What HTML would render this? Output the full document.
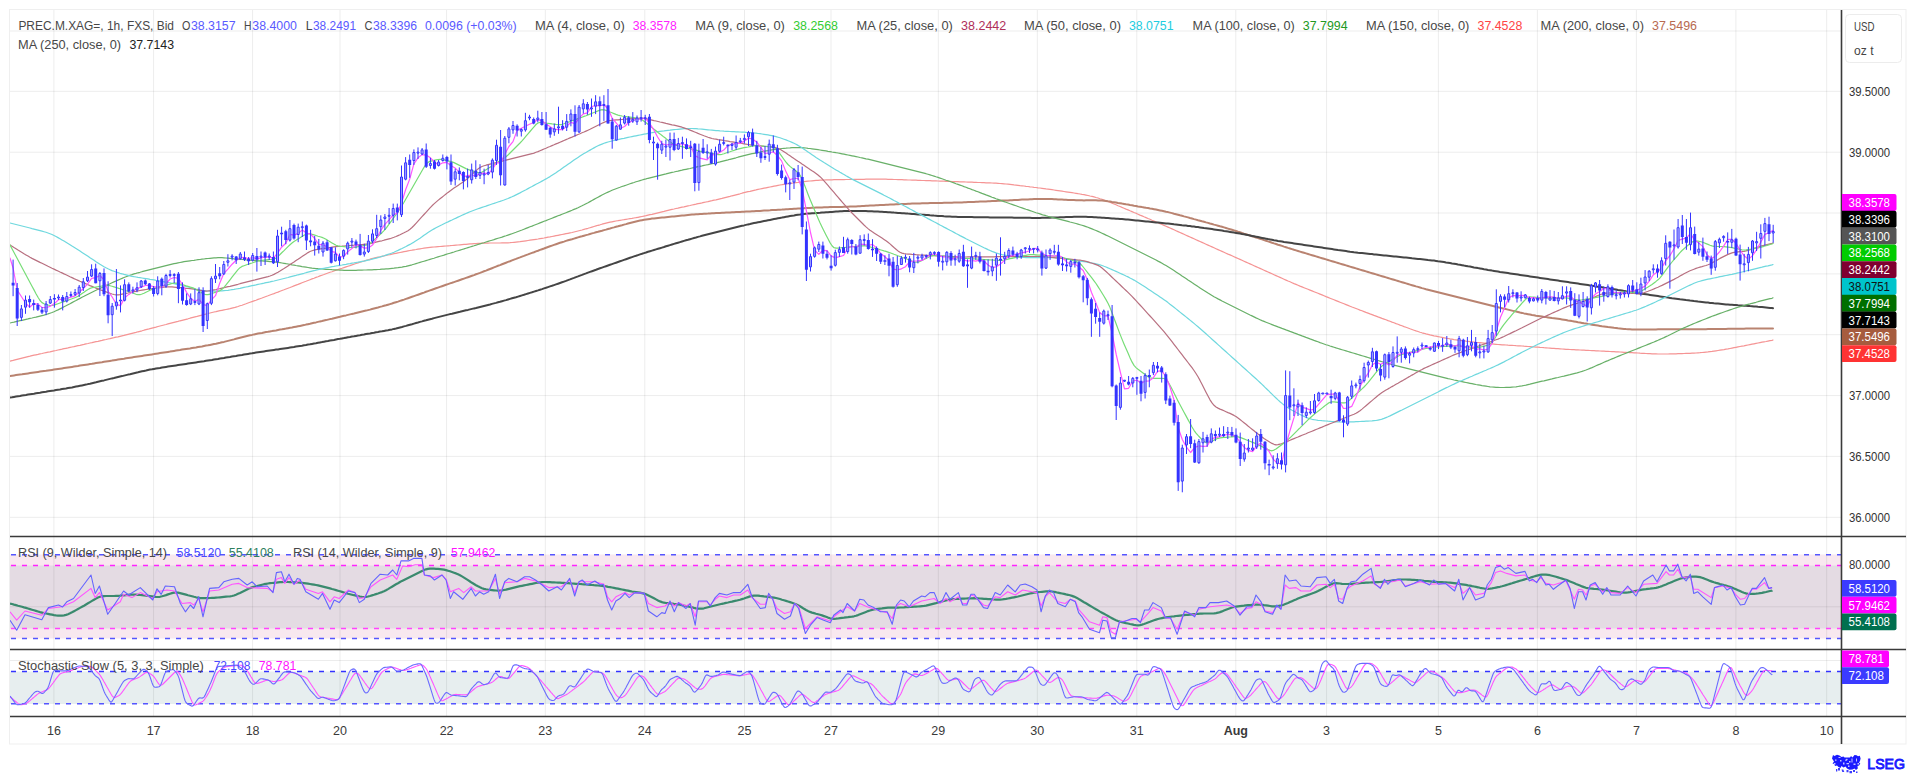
<!DOCTYPE html><html><head><meta charset="utf-8"><style>html,body{margin:0;padding:0;background:#fff;}svg{display:block;}text{font-family:"Liberation Sans", sans-serif;}</style></head><body>
<svg width="1916" height="775" viewBox="0 0 1916 775">
<rect x="0" y="0" width="1916" height="775" fill="#ffffff"/>
<rect x="9.5" y="9.5" width="1896.5" height="734.5" fill="none" stroke="#efefef" stroke-width="1"/>
<rect x="10" y="554.5" width="1831.5" height="84" fill="#f8e8ef"/>
<rect x="10" y="565.5" width="1831.5" height="63" fill="#e4dbe3"/>
<rect x="10" y="671.5" width="1831.5" height="32.5" fill="#e7eeef"/>
<path d="M10 31 H1841.5 M10 91.3 H1841.5 M10 152.2 H1841.5 M10 213 H1841.5 M10 273.9 H1841.5 M10 334.7 H1841.5 M10 395.6 H1841.5 M10 456.4 H1841.5 M10 517.3 H1841.5 M10 606.8 H1841.5 M10 660.5 H1841.5 M53.9 10 V717 M153.6 10 V717 M252.6 10 V717 M340 10 V717 M446.6 10 V717 M545.3 10 V717 M644.8 10 V717 M744.5 10 V717 M831 10 V717 M938.3 10 V717 M1037.3 10 V717 M1136.8 10 V717 M1235.8 10 V717 M1326.6 10 V717 M1438.4 10 V717 M1537.4 10 V717 M1636.4 10 V717 M1735.9 10 V717 M1826.7 10 V717" stroke="#000" stroke-opacity="0.075" stroke-width="1" fill="none"/>
<path d="M10 554.7 H1841.5" stroke="#5555ff" stroke-width="1.6" stroke-dasharray="5 6" stroke-dashoffset="-1"/>
<path d="M10 565.5 H1841.5" stroke="#ff22ff" stroke-width="1.6" stroke-dasharray="5 6" stroke-dashoffset="-1"/>
<path d="M10 628.5 H1841.5" stroke="#ff44ff" stroke-width="1.6" stroke-dasharray="5 6" stroke-dashoffset="-1"/>
<path d="M10 638.5 H1841.5" stroke="#5555ff" stroke-width="1.6" stroke-dasharray="5 6" stroke-dashoffset="-1"/>
<path d="M10 671.5 H1841.5" stroke="#3333ff" stroke-width="1.6" stroke-dasharray="5 6" stroke-dashoffset="-1"/>
<path d="M10 703.8 H1841.5" stroke="#5555ff" stroke-width="1.6" stroke-dasharray="5 6" stroke-dashoffset="-1"/>
<clipPath id="cm"><rect x="10" y="10" width="1831.5" height="527"/></clipPath>
<g clip-path="url(#cm)" fill="none" stroke-linejoin="round" stroke-linecap="round">
<path d="M10 361.2 L12 360.7 L14 360.1 L16 359.6 L18 359.1 L20 358.6 L22 358.1 L24 357.6 L26 357.1 L28 356.6 L30 356.2 L32 355.7 L34 355.2 L36 354.8 L38 354.4 L40 353.9 L42 353.5 L44 353 L46 352.6 L48 352.2 L50 351.8 L52 351.3 L54 350.9 L56 350.5 L58 350 L60 349.6 L62 349.2 L64 348.7 L66 348.3 L68 347.9 L70 347.4 L72 347 L74 346.6 L76 346.1 L78 345.7 L80 345.3 L82 344.8 L84 344.4 L86 343.9 L88 343.5 L90 343 L92 342.6 L94 342.1 L96 341.7 L98 341.3 L100 340.8 L102 340.4 L104 339.9 L106 339.5 L108 339 L110 338.6 L112 338.1 L114 337.7 L116 337.2 L118 336.8 L120 336.3 L122 335.8 L124 335.4 L126 334.9 L128 334.4 L130 333.9 L132 333.4 L134 332.9 L136 332.4 L138 331.8 L140 331.3 L142 330.8 L144 330.2 L146 329.7 L148 329.2 L150 328.6 L152 328.1 L154 327.6 L156 327.1 L158 326.5 L160 326 L162 325.5 L164 325 L166 324.5 L168 323.9 L170 323.4 L172 322.9 L174 322.4 L176 321.9 L178 321.4 L180 320.8 L182 320.3 L184 319.8 L186 319.3 L188 318.8 L190 318.2 L192 317.7 L194 317.2 L196 316.7 L198 316.1 L200 315.6 L202 315.1 L204 314.6 L206 314 L208 313.5 L210 313 L212 312.5 L214 312 L216 311.6 L218 311.1 L220 310.7 L222 310.3 L224 309.9 L226 309.5 L228 309.1 L230 308.7 L232 308.2 L234 307.7 L236 307.1 L238 306.5 L240 305.8 L242 305.2 L244 304.5 L246 303.8 L248 303 L250 302.3 L252 301.6 L254 300.9 L256 300.2 L258 299.4 L260 298.7 L262 298 L264 297.2 L266 296.5 L268 295.8 L270 295 L272 294.3 L274 293.6 L276 292.8 L278 292.1 L280 291.3 L282 290.5 L284 289.8 L286 289 L288 288.2 L290 287.5 L292 286.7 L294 285.9 L296 285.1 L298 284.4 L300 283.6 L302 282.8 L304 282 L306 281.3 L308 280.5 L310 279.7 L312 278.9 L314 278.2 L316 277.4 L318 276.7 L320 275.9 L322 275.2 L324 274.5 L326 273.7 L328 273 L330 272.3 L332 271.7 L334 271 L336 270.3 L338 269.6 L340 268.9 L342 268.3 L344 267.6 L346 266.9 L348 266.2 L350 265.6 L352 264.9 L354 264.2 L356 263.5 L358 262.9 L360 262.2 L362 261.6 L364 261 L366 260.4 L368 259.8 L370 259.2 L372 258.7 L374 258.2 L376 257.7 L378 257.2 L380 256.8 L382 256.3 L384 255.9 L386 255.4 L388 255 L390 254.6 L392 254.1 L394 253.7 L396 253.3 L398 252.9 L400 252.5 L402 252.1 L404 251.7 L406 251.3 L408 250.9 L410 250.5 L412 250.2 L414 249.8 L416 249.5 L418 249.1 L420 248.8 L422 248.5 L424 248.2 L426 247.9 L428 247.6 L430 247.4 L432 247.2 L434 247 L436 246.8 L438 246.6 L440 246.5 L442 246.3 L444 246.1 L446 246 L448 245.8 L450 245.7 L452 245.5 L454 245.3 L456 245.1 L458 245 L460 244.8 L462 244.6 L464 244.4 L466 244.3 L468 244.1 L470 243.9 L472 243.8 L474 243.6 L476 243.5 L478 243.4 L480 243.3 L482 243.2 L484 243.1 L486 243.1 L488 243.1 L490 243 L492 243 L494 243 L496 243 L498 243 L500 243 L502 242.9 L504 242.9 L506 242.8 L508 242.8 L510 242.7 L512 242.5 L514 242.3 L516 242.1 L518 241.9 L520 241.7 L522 241.4 L524 241.1 L526 240.8 L528 240.5 L530 240.2 L532 239.9 L534 239.6 L536 239.3 L538 239 L540 238.6 L542 238.3 L544 238 L546 237.6 L548 237.2 L550 236.9 L552 236.5 L554 236.1 L556 235.7 L558 235.3 L560 234.9 L562 234.5 L564 234.1 L566 233.7 L568 233.3 L570 232.9 L572 232.5 L574 232 L576 231.5 L578 231 L580 230.5 L582 230 L584 229.4 L586 228.8 L588 228.3 L590 227.7 L592 227.1 L594 226.5 L596 225.9 L598 225.3 L600 224.8 L602 224.2 L604 223.7 L606 223.2 L608 222.7 L610 222.2 L612 221.8 L614 221.4 L616 221 L618 220.7 L620 220.3 L622 220 L624 219.7 L626 219.3 L628 219 L630 218.7 L632 218.4 L634 218 L636 217.7 L638 217.3 L640 216.9 L642 216.5 L644 216.1 L646 215.7 L648 215.2 L650 214.7 L652 214.3 L654 213.8 L656 213.3 L658 212.8 L660 212.3 L662 211.8 L664 211.4 L666 210.9 L668 210.4 L670 209.9 L672 209.4 L674 209 L676 208.5 L678 208.1 L680 207.6 L682 207.2 L684 206.8 L686 206.3 L688 205.9 L690 205.5 L692 205 L694 204.6 L696 204.2 L698 203.7 L700 203.3 L702 202.9 L704 202.4 L706 202 L708 201.6 L710 201.1 L712 200.7 L714 200.2 L716 199.8 L718 199.3 L720 198.8 L722 198.4 L724 197.9 L726 197.4 L728 196.9 L730 196.4 L732 195.8 L734 195.3 L736 194.8 L738 194.3 L740 193.8 L742 193.2 L744 192.7 L746 192.2 L748 191.7 L750 191.3 L752 190.8 L754 190.3 L756 189.9 L758 189.4 L760 189 L762 188.6 L764 188.2 L766 187.8 L768 187.4 L770 187 L772 186.6 L774 186.2 L776 185.8 L778 185.4 L780 185 L782 184.7 L784 184.3 L786 184 L788 183.7 L790 183.4 L792 183.1 L794 182.9 L796 182.6 L798 182.4 L800 182.1 L802 181.9 L804 181.6 L806 181.4 L808 181.2 L810 181 L812 180.8 L814 180.6 L816 180.4 L818 180.3 L820 180.2 L822 180.1 L824 180 L826 179.9 L828 179.9 L830 179.8 L832 179.8 L834 179.7 L836 179.7 L838 179.7 L840 179.6 L842 179.6 L844 179.6 L846 179.5 L848 179.5 L850 179.5 L852 179.5 L854 179.4 L856 179.4 L858 179.4 L860 179.3 L862 179.3 L864 179.3 L866 179.2 L868 179.2 L870 179.2 L872 179.2 L874 179.2 L876 179.1 L878 179.1 L880 179.2 L882 179.2 L884 179.2 L886 179.2 L888 179.3 L890 179.3 L892 179.4 L894 179.5 L896 179.5 L898 179.6 L900 179.7 L902 179.7 L904 179.8 L906 179.9 L908 180 L910 180 L912 180.1 L914 180.2 L916 180.2 L918 180.3 L920 180.4 L922 180.5 L924 180.5 L926 180.6 L928 180.7 L930 180.7 L932 180.8 L934 180.9 L936 180.9 L938 181 L940 181.1 L942 181.2 L944 181.2 L946 181.3 L948 181.4 L950 181.4 L952 181.5 L954 181.6 L956 181.7 L958 181.7 L960 181.8 L962 181.9 L964 181.9 L966 182 L968 182.1 L970 182.2 L972 182.2 L974 182.3 L976 182.4 L978 182.5 L980 182.5 L982 182.6 L984 182.7 L986 182.8 L988 182.8 L990 182.9 L992 183 L994 183.1 L996 183.2 L998 183.3 L1000 183.5 L1002 183.6 L1004 183.8 L1006 184 L1008 184.2 L1010 184.4 L1012 184.6 L1014 184.9 L1016 185.1 L1018 185.3 L1020 185.6 L1022 185.8 L1024 186 L1026 186.3 L1028 186.5 L1030 186.8 L1032 187 L1034 187.3 L1036 187.5 L1038 187.8 L1040 188 L1042 188.3 L1044 188.6 L1046 188.9 L1048 189.1 L1050 189.4 L1052 189.7 L1054 190 L1056 190.3 L1058 190.6 L1060 190.9 L1062 191.2 L1064 191.5 L1066 191.8 L1068 192.1 L1070 192.4 L1072 192.7 L1074 193 L1076 193.3 L1078 193.7 L1080 194 L1082 194.4 L1084 194.7 L1086 195.1 L1088 195.5 L1090 196 L1092 196.4 L1094 196.9 L1096 197.5 L1098 198 L1100 198.7 L1102 199.3 L1104 200 L1106 200.8 L1108 201.5 L1110 202.3 L1112 203.2 L1114 204 L1116 204.8 L1118 205.7 L1120 206.5 L1122 207.4 L1124 208.2 L1126 209.1 L1128 209.9 L1130 210.8 L1132 211.6 L1134 212.5 L1136 213.3 L1138 214.2 L1140 215.1 L1142 215.9 L1144 216.8 L1146 217.6 L1148 218.5 L1150 219.3 L1152 220.2 L1154 221 L1156 221.9 L1158 222.8 L1160 223.6 L1162 224.5 L1164 225.4 L1166 226.2 L1168 227.1 L1170 228 L1172 228.9 L1174 229.8 L1176 230.7 L1178 231.6 L1180 232.5 L1182 233.4 L1184 234.3 L1186 235.2 L1188 236.1 L1190 237 L1192 237.9 L1194 238.8 L1196 239.7 L1198 240.6 L1200 241.5 L1202 242.4 L1204 243.3 L1206 244.2 L1208 245.1 L1210 246 L1212 246.9 L1214 247.8 L1216 248.7 L1218 249.6 L1220 250.5 L1222 251.4 L1224 252.3 L1226 253.2 L1228 254.1 L1230 254.9 L1232 255.8 L1234 256.7 L1236 257.6 L1238 258.5 L1240 259.4 L1242 260.3 L1244 261.2 L1246 262.1 L1248 263 L1250 263.9 L1252 264.8 L1254 265.7 L1256 266.6 L1258 267.5 L1260 268.4 L1262 269.3 L1264 270.2 L1266 271.1 L1268 272 L1270 272.9 L1272 273.8 L1274 274.7 L1276 275.6 L1278 276.5 L1280 277.4 L1282 278.3 L1284 279.2 L1286 280.1 L1288 281 L1290 281.8 L1292 282.7 L1294 283.6 L1296 284.4 L1298 285.2 L1300 286.1 L1302 286.9 L1304 287.7 L1306 288.5 L1308 289.3 L1310 290.1 L1312 290.9 L1314 291.7 L1316 292.5 L1318 293.3 L1320 294.1 L1322 294.9 L1324 295.7 L1326 296.6 L1328 297.4 L1330 298.2 L1332 299 L1334 299.8 L1336 300.6 L1338 301.4 L1340 302.2 L1342 303 L1344 303.8 L1346 304.6 L1348 305.4 L1350 306.2 L1352 307 L1354 307.7 L1356 308.5 L1358 309.3 L1360 310.1 L1362 310.8 L1364 311.6 L1366 312.4 L1368 313.1 L1370 313.9 L1372 314.6 L1374 315.4 L1376 316.1 L1378 316.9 L1380 317.6 L1382 318.4 L1384 319.1 L1386 319.8 L1388 320.6 L1390 321.3 L1392 322.1 L1394 322.8 L1396 323.6 L1398 324.3 L1400 325.1 L1402 325.8 L1404 326.6 L1406 327.3 L1408 328 L1410 328.8 L1412 329.5 L1414 330.2 L1416 330.9 L1418 331.5 L1420 332.2 L1422 332.8 L1424 333.3 L1426 333.9 L1428 334.4 L1430 334.9 L1432 335.3 L1434 335.8 L1436 336.2 L1438 336.6 L1440 337 L1442 337.4 L1444 337.8 L1446 338.2 L1448 338.5 L1450 338.9 L1452 339.2 L1454 339.6 L1456 339.9 L1458 340.2 L1460 340.4 L1462 340.7 L1464 340.9 L1466 341.2 L1468 341.4 L1470 341.6 L1472 341.8 L1474 342 L1476 342.3 L1478 342.5 L1480 342.7 L1482 342.9 L1484 343.1 L1486 343.3 L1488 343.5 L1490 343.7 L1492 343.9 L1494 344.1 L1496 344.3 L1498 344.5 L1500 344.6 L1502 344.8 L1504 344.9 L1506 345 L1508 345.2 L1510 345.3 L1512 345.4 L1514 345.5 L1516 345.7 L1518 345.8 L1520 345.9 L1522 346 L1524 346.2 L1526 346.3 L1528 346.5 L1530 346.6 L1532 346.8 L1534 346.9 L1536 347.1 L1538 347.2 L1540 347.4 L1542 347.5 L1544 347.7 L1546 347.8 L1548 348 L1550 348.1 L1552 348.3 L1554 348.4 L1556 348.6 L1558 348.7 L1560 348.8 L1562 349 L1564 349.1 L1566 349.3 L1568 349.4 L1570 349.5 L1572 349.6 L1574 349.7 L1576 349.8 L1578 349.9 L1580 350 L1582 350.1 L1584 350.2 L1586 350.3 L1588 350.4 L1590 350.5 L1592 350.6 L1594 350.7 L1596 350.8 L1598 350.9 L1600 351 L1602 351.1 L1604 351.2 L1606 351.3 L1608 351.4 L1610 351.5 L1612 351.6 L1614 351.7 L1616 351.8 L1618 351.9 L1620 352 L1622 352.1 L1624 352.3 L1626 352.4 L1628 352.5 L1630 352.6 L1632 352.7 L1634 352.8 L1636 352.9 L1638 353 L1640 353.2 L1642 353.3 L1644 353.4 L1646 353.5 L1648 353.6 L1650 353.7 L1652 353.8 L1654 353.9 L1656 353.9 L1658 354 L1660 354 L1662 354 L1664 354 L1666 354 L1668 354 L1670 353.9 L1672 353.9 L1674 353.8 L1676 353.8 L1678 353.7 L1680 353.6 L1682 353.6 L1684 353.5 L1686 353.4 L1688 353.4 L1690 353.3 L1692 353.2 L1694 353.1 L1696 353 L1698 352.8 L1700 352.7 L1702 352.5 L1704 352.3 L1706 352.1 L1708 351.9 L1710 351.6 L1712 351.4 L1714 351.1 L1716 350.8 L1718 350.5 L1720 350.2 L1722 349.9 L1724 349.6 L1726 349.2 L1728 348.9 L1730 348.5 L1732 348.1 L1734 347.7 L1736 347.3 L1738 346.9 L1740 346.5 L1742 346.1 L1744 345.8 L1746 345.4 L1748 345 L1750 344.6 L1752 344.2 L1754 343.8 L1756 343.4 L1758 343 L1760 342.6 L1762 342.2 L1764 341.8 L1766 341.5 L1768 341.1 L1770 340.7 L1772 340.4 L1773 340" stroke="#f59494" stroke-width="1.2"/>
<path d="M10 376 L12 375.7 L14 375.4 L16 375.1 L18 374.8 L20 374.5 L22 374.3 L24 374 L26 373.7 L28 373.4 L30 373.1 L32 372.8 L34 372.5 L36 372.2 L38 371.9 L40 371.6 L42 371.3 L44 371 L46 370.8 L48 370.5 L50 370.2 L52 369.9 L54 369.6 L56 369.3 L58 369 L60 368.7 L62 368.4 L64 368.1 L66 367.8 L68 367.5 L70 367.2 L72 366.9 L74 366.6 L76 366.3 L78 366 L80 365.6 L82 365.3 L84 365 L86 364.7 L88 364.4 L90 364.1 L92 363.8 L94 363.4 L96 363.1 L98 362.8 L100 362.5 L102 362.2 L104 361.8 L106 361.5 L108 361.2 L110 360.9 L112 360.6 L114 360.2 L116 359.9 L118 359.6 L120 359.3 L122 359 L124 358.7 L126 358.3 L128 358 L130 357.7 L132 357.4 L134 357.1 L136 356.8 L138 356.5 L140 356.2 L142 355.9 L144 355.6 L146 355.3 L148 355 L150 354.7 L152 354.4 L154 354.1 L156 353.7 L158 353.4 L160 353.1 L162 352.8 L164 352.5 L166 352.2 L168 351.9 L170 351.6 L172 351.2 L174 350.9 L176 350.6 L178 350.3 L180 350 L182 349.6 L184 349.3 L186 349 L188 348.7 L190 348.4 L192 348 L194 347.7 L196 347.4 L198 347 L200 346.7 L202 346.4 L204 346 L206 345.6 L208 345.3 L210 344.9 L212 344.5 L214 344.1 L216 343.7 L218 343.2 L220 342.8 L222 342.3 L224 341.9 L226 341.4 L228 340.9 L230 340.4 L232 339.9 L234 339.4 L236 338.8 L238 338.3 L240 337.8 L242 337.3 L244 336.8 L246 336.3 L248 335.8 L250 335.3 L252 334.9 L254 334.4 L256 334 L258 333.6 L260 333.2 L262 332.9 L264 332.5 L266 332.1 L268 331.8 L270 331.4 L272 331.1 L274 330.7 L276 330.4 L278 330 L280 329.6 L282 329.3 L284 328.9 L286 328.6 L288 328.2 L290 327.8 L292 327.5 L294 327.1 L296 326.7 L298 326.3 L300 325.9 L302 325.5 L304 325.1 L306 324.6 L308 324.2 L310 323.8 L312 323.3 L314 322.8 L316 322.4 L318 321.9 L320 321.4 L322 321 L324 320.5 L326 320.1 L328 319.6 L330 319.1 L332 318.7 L334 318.2 L336 317.7 L338 317.2 L340 316.8 L342 316.3 L344 315.8 L346 315.4 L348 314.9 L350 314.4 L352 313.9 L354 313.5 L356 313 L358 312.5 L360 312 L362 311.5 L364 311 L366 310.6 L368 310.1 L370 309.6 L372 309 L374 308.5 L376 308 L378 307.5 L380 306.9 L382 306.4 L384 305.8 L386 305.3 L388 304.7 L390 304.1 L392 303.5 L394 302.8 L396 302.2 L398 301.6 L400 300.9 L402 300.2 L404 299.6 L406 298.9 L408 298.2 L410 297.5 L412 296.8 L414 296.1 L416 295.4 L418 294.7 L420 294 L422 293.3 L424 292.6 L426 291.8 L428 291.1 L430 290.4 L432 289.7 L434 289 L436 288.3 L438 287.6 L440 286.9 L442 286.2 L444 285.5 L446 284.8 L448 284.1 L450 283.4 L452 282.8 L454 282.1 L456 281.4 L458 280.7 L460 280 L462 279.3 L464 278.6 L466 277.9 L468 277.2 L470 276.5 L472 275.8 L474 275.1 L476 274.3 L478 273.6 L480 272.9 L482 272.1 L484 271.3 L486 270.6 L488 269.8 L490 269 L492 268.2 L494 267.4 L496 266.6 L498 265.8 L500 265.1 L502 264.3 L504 263.5 L506 262.7 L508 261.9 L510 261.2 L512 260.4 L514 259.6 L516 258.9 L518 258.1 L520 257.4 L522 256.6 L524 255.9 L526 255.1 L528 254.4 L530 253.6 L532 252.9 L534 252.2 L536 251.4 L538 250.7 L540 249.9 L542 249.2 L544 248.5 L546 247.7 L548 247 L550 246.3 L552 245.6 L554 244.9 L556 244.2 L558 243.5 L560 242.8 L562 242.2 L564 241.6 L566 240.9 L568 240.3 L570 239.7 L572 239.2 L574 238.6 L576 238 L578 237.4 L580 236.8 L582 236.3 L584 235.7 L586 235.1 L588 234.6 L590 234 L592 233.4 L594 232.9 L596 232.3 L598 231.8 L600 231.2 L602 230.7 L604 230.1 L606 229.6 L608 229 L610 228.5 L612 227.9 L614 227.4 L616 226.8 L618 226.3 L620 225.7 L622 225.2 L624 224.6 L626 224.1 L628 223.5 L630 223 L632 222.5 L634 222 L636 221.5 L638 221 L640 220.6 L642 220.2 L644 219.8 L646 219.5 L648 219.2 L650 218.9 L652 218.6 L654 218.4 L656 218.2 L658 218 L660 217.8 L662 217.6 L664 217.4 L666 217.2 L668 217 L670 216.8 L672 216.6 L674 216.4 L676 216.2 L678 216 L680 215.8 L682 215.6 L684 215.4 L686 215.2 L688 215 L690 214.8 L692 214.6 L694 214.5 L696 214.3 L698 214.2 L700 214 L702 213.9 L704 213.8 L706 213.7 L708 213.6 L710 213.4 L712 213.3 L714 213.2 L716 213.1 L718 213 L720 212.9 L722 212.8 L724 212.7 L726 212.6 L728 212.5 L730 212.4 L732 212.3 L734 212.2 L736 212.1 L738 212 L740 211.9 L742 211.8 L744 211.7 L746 211.6 L748 211.5 L750 211.4 L752 211.3 L754 211.2 L756 211.1 L758 211 L760 210.9 L762 210.7 L764 210.6 L766 210.5 L768 210.4 L770 210.3 L772 210.1 L774 210 L776 209.9 L778 209.8 L780 209.7 L782 209.6 L784 209.4 L786 209.3 L788 209.2 L790 209.1 L792 209 L794 208.8 L796 208.7 L798 208.6 L800 208.5 L802 208.4 L804 208.3 L806 208.1 L808 208 L810 207.9 L812 207.8 L814 207.7 L816 207.6 L818 207.5 L820 207.4 L822 207.4 L824 207.3 L826 207.2 L828 207.2 L830 207.1 L832 207.1 L834 207.1 L836 207 L838 207 L840 206.9 L842 206.9 L844 206.8 L846 206.8 L848 206.7 L850 206.6 L852 206.6 L854 206.5 L856 206.4 L858 206.3 L860 206.2 L862 206.1 L864 206 L866 205.8 L868 205.7 L870 205.6 L872 205.5 L874 205.4 L876 205.3 L878 205.2 L880 205.1 L882 205 L884 204.9 L886 204.8 L888 204.7 L890 204.6 L892 204.5 L894 204.4 L896 204.3 L898 204.2 L900 204.1 L902 204 L904 203.9 L906 203.9 L908 203.8 L910 203.7 L912 203.6 L914 203.6 L916 203.5 L918 203.4 L920 203.4 L922 203.3 L924 203.3 L926 203.2 L928 203.2 L930 203.1 L932 203.1 L934 203.1 L936 203 L938 203 L940 202.9 L942 202.9 L944 202.8 L946 202.8 L948 202.8 L950 202.7 L952 202.7 L954 202.6 L956 202.6 L958 202.5 L960 202.4 L962 202.4 L964 202.3 L966 202.2 L968 202.1 L970 202.1 L972 202 L974 201.9 L976 201.8 L978 201.7 L980 201.6 L982 201.5 L984 201.5 L986 201.4 L988 201.3 L990 201.2 L992 201.1 L994 201 L996 200.9 L998 200.8 L1000 200.7 L1002 200.6 L1004 200.5 L1006 200.5 L1008 200.4 L1010 200.3 L1012 200.2 L1014 200.1 L1016 200 L1018 199.9 L1020 199.7 L1022 199.6 L1024 199.5 L1026 199.4 L1028 199.4 L1030 199.3 L1032 199.2 L1034 199.1 L1036 199 L1038 199 L1040 198.9 L1042 198.9 L1044 198.9 L1046 199 L1048 199 L1050 199.1 L1052 199.1 L1054 199.2 L1056 199.3 L1058 199.4 L1060 199.5 L1062 199.6 L1064 199.7 L1066 199.8 L1068 199.9 L1070 200 L1072 200.1 L1074 200.1 L1076 200.2 L1078 200.3 L1080 200.3 L1082 200.3 L1084 200.4 L1086 200.3 L1088 200.3 L1090 200.3 L1092 200.3 L1094 200.3 L1096 200.3 L1098 200.4 L1100 200.4 L1102 200.6 L1104 200.8 L1106 201 L1108 201.3 L1110 201.5 L1112 201.9 L1114 202.2 L1116 202.5 L1118 202.9 L1120 203.2 L1122 203.6 L1124 203.9 L1126 204.3 L1128 204.6 L1130 205 L1132 205.3 L1134 205.7 L1136 206 L1138 206.4 L1140 206.7 L1142 207.1 L1144 207.4 L1146 207.8 L1148 208.1 L1150 208.5 L1152 208.8 L1154 209.2 L1156 209.6 L1158 210 L1160 210.4 L1162 210.8 L1164 211.2 L1166 211.7 L1168 212.1 L1170 212.6 L1172 213.1 L1174 213.7 L1176 214.2 L1178 214.7 L1180 215.3 L1182 215.8 L1184 216.4 L1186 216.9 L1188 217.4 L1190 218 L1192 218.5 L1194 219.1 L1196 219.6 L1198 220.2 L1200 220.7 L1202 221.3 L1204 221.8 L1206 222.4 L1208 222.9 L1210 223.5 L1212 224 L1214 224.6 L1216 225.1 L1218 225.7 L1220 226.3 L1222 226.8 L1224 227.4 L1226 228 L1228 228.6 L1230 229.2 L1232 229.8 L1234 230.4 L1236 231 L1238 231.7 L1240 232.3 L1242 232.9 L1244 233.6 L1246 234.2 L1248 234.9 L1250 235.5 L1252 236.2 L1254 236.8 L1256 237.5 L1258 238.1 L1260 238.8 L1262 239.4 L1264 240.1 L1266 240.7 L1268 241.4 L1270 242 L1272 242.7 L1274 243.4 L1276 244 L1278 244.7 L1280 245.3 L1282 245.9 L1284 246.6 L1286 247.2 L1288 247.9 L1290 248.5 L1292 249.1 L1294 249.8 L1296 250.4 L1298 251 L1300 251.6 L1302 252.2 L1304 252.8 L1306 253.4 L1308 254 L1310 254.6 L1312 255.2 L1314 255.8 L1316 256.4 L1318 257 L1320 257.6 L1322 258.2 L1324 258.8 L1326 259.4 L1328 260 L1330 260.6 L1332 261.2 L1334 261.8 L1336 262.4 L1338 263 L1340 263.6 L1342 264.2 L1344 264.8 L1346 265.4 L1348 266 L1350 266.6 L1352 267.2 L1354 267.8 L1356 268.4 L1358 269 L1360 269.6 L1362 270.2 L1364 270.8 L1366 271.4 L1368 272 L1370 272.6 L1372 273.2 L1374 273.8 L1376 274.4 L1378 275 L1380 275.6 L1382 276.2 L1384 276.8 L1386 277.4 L1388 278 L1390 278.6 L1392 279.2 L1394 279.8 L1396 280.4 L1398 281 L1400 281.6 L1402 282.2 L1404 282.8 L1406 283.4 L1408 284 L1410 284.6 L1412 285.2 L1414 285.8 L1416 286.4 L1418 286.9 L1420 287.5 L1422 288.1 L1424 288.6 L1426 289.2 L1428 289.7 L1430 290.2 L1432 290.7 L1434 291.2 L1436 291.7 L1438 292.2 L1440 292.7 L1442 293.2 L1444 293.7 L1446 294.2 L1448 294.7 L1450 295.2 L1452 295.7 L1454 296.2 L1456 296.7 L1458 297.2 L1460 297.7 L1462 298.2 L1464 298.7 L1466 299.2 L1468 299.7 L1470 300.2 L1472 300.7 L1474 301.2 L1476 301.7 L1478 302.2 L1480 302.7 L1482 303.2 L1484 303.7 L1486 304.2 L1488 304.7 L1490 305.2 L1492 305.7 L1494 306.2 L1496 306.7 L1498 307.2 L1500 307.7 L1502 308.2 L1504 308.7 L1506 309.1 L1508 309.6 L1510 310.1 L1512 310.6 L1514 311.1 L1516 311.5 L1518 312 L1520 312.5 L1522 312.9 L1524 313.4 L1526 313.8 L1528 314.2 L1530 314.6 L1532 315 L1534 315.3 L1536 315.7 L1538 316 L1540 316.3 L1542 316.6 L1544 316.9 L1546 317.1 L1548 317.4 L1550 317.7 L1552 318 L1554 318.2 L1556 318.5 L1558 318.8 L1560 319.1 L1562 319.4 L1564 319.7 L1566 320 L1568 320.4 L1570 320.7 L1572 321.1 L1574 321.4 L1576 321.8 L1578 322.2 L1580 322.5 L1582 322.9 L1584 323.3 L1586 323.6 L1588 324 L1590 324.3 L1592 324.7 L1594 325 L1596 325.3 L1598 325.6 L1600 325.9 L1602 326.2 L1604 326.4 L1606 326.7 L1608 327 L1610 327.2 L1612 327.5 L1614 327.8 L1616 328 L1618 328.3 L1620 328.5 L1622 328.7 L1624 328.9 L1626 329.1 L1628 329.2 L1630 329.3 L1632 329.4 L1634 329.5 L1636 329.5 L1638 329.5 L1640 329.5 L1642 329.5 L1644 329.5 L1646 329.5 L1648 329.4 L1650 329.4 L1652 329.4 L1654 329.4 L1656 329.4 L1658 329.3 L1660 329.3 L1662 329.3 L1664 329.3 L1666 329.3 L1668 329.3 L1670 329.3 L1672 329.3 L1674 329.3 L1676 329.3 L1678 329.3 L1680 329.3 L1682 329.3 L1684 329.3 L1686 329.3 L1688 329.3 L1690 329.3 L1692 329.3 L1694 329.3 L1696 329.3 L1698 329.2 L1700 329.2 L1702 329.2 L1704 329.2 L1706 329.2 L1708 329.1 L1710 329.1 L1712 329.1 L1714 329 L1716 329 L1718 329 L1720 328.9 L1722 328.9 L1724 328.9 L1726 328.9 L1728 328.8 L1730 328.8 L1732 328.8 L1734 328.8 L1736 328.7 L1738 328.7 L1740 328.7 L1742 328.7 L1744 328.7 L1746 328.6 L1748 328.6 L1750 328.6 L1752 328.6 L1754 328.6 L1756 328.6 L1758 328.6 L1760 328.6 L1762 328.6 L1764 328.5 L1766 328.5 L1768 328.5 L1770 328.5 L1772 328.5 L1773 328.5" stroke="#b98370" stroke-width="2"/>
<path d="M10 397.6 L12 397.3 L14 396.9 L16 396.6 L18 396.3 L20 396 L22 395.6 L24 395.3 L26 395 L28 394.6 L30 394.3 L32 394 L34 393.7 L36 393.3 L38 393 L40 392.7 L42 392.3 L44 392 L46 391.7 L48 391.3 L50 391 L52 390.7 L54 390.4 L56 390 L58 389.7 L60 389.4 L62 389 L64 388.7 L66 388.4 L68 388 L70 387.7 L72 387.4 L74 387 L76 386.6 L78 386.2 L80 385.8 L82 385.4 L84 385 L86 384.6 L88 384.1 L90 383.7 L92 383.2 L94 382.7 L96 382.3 L98 381.8 L100 381.3 L102 380.8 L104 380.4 L106 379.9 L108 379.4 L110 378.9 L112 378.4 L114 378 L116 377.5 L118 377 L120 376.5 L122 376.1 L124 375.6 L126 375.1 L128 374.6 L130 374.2 L132 373.7 L134 373.2 L136 372.7 L138 372.3 L140 371.8 L142 371.3 L144 370.9 L146 370.5 L148 370 L150 369.6 L152 369.3 L154 368.9 L156 368.5 L158 368.2 L160 367.9 L162 367.5 L164 367.2 L166 366.9 L168 366.6 L170 366.3 L172 366 L174 365.7 L176 365.4 L178 365.1 L180 364.8 L182 364.5 L184 364.2 L186 363.9 L188 363.6 L190 363.3 L192 363 L194 362.7 L196 362.4 L198 362.1 L200 361.8 L202 361.5 L204 361.2 L206 360.8 L208 360.5 L210 360.2 L212 359.9 L214 359.5 L216 359.2 L218 358.9 L220 358.5 L222 358.2 L224 357.9 L226 357.5 L228 357.2 L230 356.9 L232 356.5 L234 356.2 L236 355.9 L238 355.5 L240 355.2 L242 354.9 L244 354.5 L246 354.2 L248 353.9 L250 353.6 L252 353.3 L254 352.9 L256 352.6 L258 352.3 L260 352 L262 351.7 L264 351.4 L266 351.1 L268 350.8 L270 350.5 L272 350.2 L274 349.9 L276 349.6 L278 349.4 L280 349.1 L282 348.8 L284 348.5 L286 348.2 L288 347.9 L290 347.6 L292 347.3 L294 347 L296 346.6 L298 346.3 L300 346 L302 345.7 L304 345.3 L306 345 L308 344.6 L310 344.3 L312 343.9 L314 343.5 L316 343.2 L318 342.8 L320 342.4 L322 342.1 L324 341.7 L326 341.3 L328 341 L330 340.6 L332 340.2 L334 339.9 L336 339.5 L338 339.1 L340 338.8 L342 338.4 L344 338.1 L346 337.7 L348 337.3 L350 337 L352 336.6 L354 336.3 L356 335.9 L358 335.5 L360 335.2 L362 334.8 L364 334.5 L366 334.1 L368 333.7 L370 333.4 L372 333 L374 332.7 L376 332.3 L378 332 L380 331.6 L382 331.3 L384 330.9 L386 330.5 L388 330.2 L390 329.8 L392 329.4 L394 328.9 L396 328.5 L398 328 L400 327.5 L402 327 L404 326.4 L406 325.9 L408 325.3 L410 324.7 L412 324.2 L414 323.6 L416 323 L418 322.5 L420 321.9 L422 321.4 L424 320.8 L426 320.3 L428 319.7 L430 319.2 L432 318.7 L434 318.1 L436 317.6 L438 317.1 L440 316.6 L442 316.1 L444 315.6 L446 315.1 L448 314.6 L450 314.1 L452 313.7 L454 313.2 L456 312.7 L458 312.2 L460 311.8 L462 311.3 L464 310.8 L466 310.3 L468 309.9 L470 309.4 L472 308.9 L474 308.4 L476 308 L478 307.5 L480 307 L482 306.5 L484 306 L486 305.5 L488 305 L490 304.5 L492 303.9 L494 303.4 L496 302.9 L498 302.3 L500 301.8 L502 301.2 L504 300.6 L506 300.1 L508 299.5 L510 298.9 L512 298.3 L514 297.7 L516 297.2 L518 296.6 L520 296 L522 295.4 L524 294.8 L526 294.1 L528 293.5 L530 292.9 L532 292.3 L534 291.6 L536 291 L538 290.4 L540 289.7 L542 289.1 L544 288.4 L546 287.8 L548 287.1 L550 286.4 L552 285.8 L554 285.1 L556 284.4 L558 283.7 L560 283 L562 282.3 L564 281.6 L566 280.9 L568 280.1 L570 279.4 L572 278.6 L574 277.9 L576 277.1 L578 276.4 L580 275.6 L582 274.9 L584 274.1 L586 273.4 L588 272.6 L590 271.9 L592 271.2 L594 270.5 L596 269.8 L598 269 L600 268.3 L602 267.6 L604 266.9 L606 266.2 L608 265.5 L610 264.8 L612 264.1 L614 263.4 L616 262.7 L618 262 L620 261.3 L622 260.6 L624 259.9 L626 259.2 L628 258.5 L630 257.8 L632 257.1 L634 256.4 L636 255.8 L638 255.1 L640 254.4 L642 253.8 L644 253.1 L646 252.5 L648 251.8 L650 251.2 L652 250.6 L654 250 L656 249.4 L658 248.8 L660 248.2 L662 247.6 L664 247 L666 246.3 L668 245.7 L670 245.1 L672 244.5 L674 243.9 L676 243.3 L678 242.7 L680 242.1 L682 241.5 L684 240.9 L686 240.3 L688 239.8 L690 239.2 L692 238.6 L694 238 L696 237.5 L698 236.9 L700 236.4 L702 235.8 L704 235.3 L706 234.8 L708 234.3 L710 233.8 L712 233.3 L714 232.8 L716 232.3 L718 231.8 L720 231.3 L722 230.8 L724 230.3 L726 229.8 L728 229.3 L730 228.8 L732 228.3 L734 227.8 L736 227.3 L738 226.8 L740 226.3 L742 225.8 L744 225.4 L746 224.9 L748 224.4 L750 224 L752 223.5 L754 223.1 L756 222.7 L758 222.3 L760 221.9 L762 221.5 L764 221.1 L766 220.7 L768 220.3 L770 219.9 L772 219.5 L774 219.1 L776 218.7 L778 218.3 L780 217.9 L782 217.6 L784 217.2 L786 216.8 L788 216.4 L790 216 L792 215.7 L794 215.4 L796 215 L798 214.7 L800 214.5 L802 214.2 L804 214 L806 213.8 L808 213.6 L810 213.5 L812 213.3 L814 213.2 L816 213 L818 212.9 L820 212.8 L822 212.6 L824 212.5 L826 212.3 L828 212.2 L830 212 L832 211.9 L834 211.7 L836 211.6 L838 211.5 L840 211.3 L842 211.2 L844 211.1 L846 211 L848 211 L850 210.9 L852 210.9 L854 210.9 L856 210.9 L858 210.9 L860 211 L862 211 L864 211.1 L866 211.1 L868 211.2 L870 211.3 L872 211.3 L874 211.4 L876 211.5 L878 211.6 L880 211.7 L882 211.8 L884 211.9 L886 212 L888 212.2 L890 212.3 L892 212.4 L894 212.6 L896 212.7 L898 212.9 L900 213 L902 213.2 L904 213.3 L906 213.4 L908 213.6 L910 213.7 L912 213.9 L914 214 L916 214.2 L918 214.4 L920 214.5 L922 214.7 L924 214.8 L926 215 L928 215.1 L930 215.3 L932 215.4 L934 215.6 L936 215.7 L938 215.9 L940 216 L942 216.1 L944 216.3 L946 216.4 L948 216.5 L950 216.6 L952 216.7 L954 216.7 L956 216.8 L958 216.9 L960 216.9 L962 217 L964 217 L966 217 L968 217.1 L970 217.1 L972 217.1 L974 217.2 L976 217.2 L978 217.2 L980 217.2 L982 217.3 L984 217.3 L986 217.3 L988 217.3 L990 217.4 L992 217.4 L994 217.4 L996 217.4 L998 217.5 L1000 217.5 L1002 217.5 L1004 217.5 L1006 217.6 L1008 217.6 L1010 217.6 L1012 217.6 L1014 217.7 L1016 217.7 L1018 217.7 L1020 217.7 L1022 217.8 L1024 217.8 L1026 217.8 L1028 217.8 L1030 217.8 L1032 217.9 L1034 217.9 L1036 217.9 L1038 217.9 L1040 217.9 L1042 217.8 L1044 217.8 L1046 217.8 L1048 217.7 L1050 217.7 L1052 217.6 L1054 217.5 L1056 217.5 L1058 217.4 L1060 217.3 L1062 217.2 L1064 217.2 L1066 217.1 L1068 217 L1070 217 L1072 216.9 L1074 216.8 L1076 216.8 L1078 216.7 L1080 216.7 L1082 216.7 L1084 216.7 L1086 216.8 L1088 216.9 L1090 216.9 L1092 217 L1094 217.2 L1096 217.3 L1098 217.4 L1100 217.5 L1102 217.7 L1104 217.8 L1106 218 L1108 218.1 L1110 218.2 L1112 218.4 L1114 218.5 L1116 218.7 L1118 218.8 L1120 219 L1122 219.1 L1124 219.3 L1126 219.5 L1128 219.6 L1130 219.8 L1132 220 L1134 220.2 L1136 220.4 L1138 220.6 L1140 220.8 L1142 221 L1144 221.2 L1146 221.4 L1148 221.6 L1150 221.8 L1152 222 L1154 222.2 L1156 222.4 L1158 222.6 L1160 222.8 L1162 223 L1164 223.2 L1166 223.4 L1168 223.6 L1170 223.8 L1172 224 L1174 224.3 L1176 224.5 L1178 224.7 L1180 224.9 L1182 225.2 L1184 225.4 L1186 225.6 L1188 225.9 L1190 226.1 L1192 226.4 L1194 226.6 L1196 226.9 L1198 227.1 L1200 227.4 L1202 227.7 L1204 228 L1206 228.2 L1208 228.5 L1210 228.8 L1212 229.1 L1214 229.4 L1216 229.7 L1218 230 L1220 230.3 L1222 230.6 L1224 231 L1226 231.3 L1228 231.6 L1230 231.9 L1232 232.2 L1234 232.6 L1236 232.9 L1238 233.2 L1240 233.6 L1242 234 L1244 234.3 L1246 234.7 L1248 235.1 L1250 235.5 L1252 235.9 L1254 236.3 L1256 236.7 L1258 237.1 L1260 237.5 L1262 237.9 L1264 238.3 L1266 238.7 L1268 239.1 L1270 239.4 L1272 239.8 L1274 240.2 L1276 240.5 L1278 240.9 L1280 241.2 L1282 241.5 L1284 241.9 L1286 242.2 L1288 242.5 L1290 242.8 L1292 243.1 L1294 243.4 L1296 243.7 L1298 244 L1300 244.3 L1302 244.6 L1304 244.9 L1306 245.2 L1308 245.5 L1310 245.8 L1312 246.1 L1314 246.4 L1316 246.7 L1318 247 L1320 247.3 L1322 247.6 L1324 247.9 L1326 248.2 L1328 248.5 L1330 248.8 L1332 249.1 L1334 249.4 L1336 249.7 L1338 250 L1340 250.2 L1342 250.5 L1344 250.8 L1346 251.1 L1348 251.4 L1350 251.7 L1352 251.9 L1354 252.2 L1356 252.4 L1358 252.7 L1360 252.9 L1362 253.1 L1364 253.3 L1366 253.5 L1368 253.7 L1370 253.9 L1372 254.1 L1374 254.4 L1376 254.6 L1378 254.8 L1380 255 L1382 255.2 L1384 255.4 L1386 255.6 L1388 255.8 L1390 256 L1392 256.2 L1394 256.4 L1396 256.6 L1398 256.8 L1400 257 L1402 257.2 L1404 257.4 L1406 257.6 L1408 257.8 L1410 258 L1412 258.3 L1414 258.5 L1416 258.7 L1418 258.9 L1420 259.1 L1422 259.3 L1424 259.5 L1426 259.7 L1428 260 L1430 260.2 L1432 260.4 L1434 260.6 L1436 260.9 L1438 261.2 L1440 261.4 L1442 261.7 L1444 262 L1446 262.4 L1448 262.7 L1450 263 L1452 263.4 L1454 263.7 L1456 264.1 L1458 264.5 L1460 264.8 L1462 265.2 L1464 265.6 L1466 265.9 L1468 266.3 L1470 266.6 L1472 267 L1474 267.4 L1476 267.7 L1478 268.1 L1480 268.4 L1482 268.8 L1484 269.2 L1486 269.5 L1488 269.9 L1490 270.2 L1492 270.6 L1494 270.9 L1496 271.2 L1498 271.5 L1500 271.9 L1502 272.2 L1504 272.5 L1506 272.8 L1508 273.1 L1510 273.4 L1512 273.7 L1514 274 L1516 274.3 L1518 274.6 L1520 274.9 L1522 275.2 L1524 275.5 L1526 275.8 L1528 276.1 L1530 276.4 L1532 276.7 L1534 277 L1536 277.3 L1538 277.6 L1540 277.9 L1542 278.2 L1544 278.5 L1546 278.8 L1548 279.1 L1550 279.4 L1552 279.7 L1554 280 L1556 280.3 L1558 280.6 L1560 280.9 L1562 281.2 L1564 281.5 L1566 281.8 L1568 282.1 L1570 282.4 L1572 282.7 L1574 283 L1576 283.3 L1578 283.6 L1580 283.9 L1582 284.2 L1584 284.5 L1586 284.8 L1588 285.1 L1590 285.4 L1592 285.7 L1594 286 L1596 286.4 L1598 286.7 L1600 287 L1602 287.3 L1604 287.7 L1606 288 L1608 288.3 L1610 288.7 L1612 289 L1614 289.3 L1616 289.6 L1618 290 L1620 290.3 L1622 290.6 L1624 290.9 L1626 291.3 L1628 291.6 L1630 291.9 L1632 292.2 L1634 292.5 L1636 292.8 L1638 293.1 L1640 293.4 L1642 293.7 L1644 294 L1646 294.3 L1648 294.6 L1650 294.9 L1652 295.2 L1654 295.5 L1656 295.8 L1658 296.1 L1660 296.4 L1662 296.7 L1664 297 L1666 297.3 L1668 297.6 L1670 297.9 L1672 298.2 L1674 298.4 L1676 298.7 L1678 299 L1680 299.3 L1682 299.5 L1684 299.8 L1686 300.1 L1688 300.3 L1690 300.6 L1692 300.8 L1694 301.1 L1696 301.3 L1698 301.6 L1700 301.8 L1702 302 L1704 302.2 L1706 302.4 L1708 302.6 L1710 302.9 L1712 303.1 L1714 303.3 L1716 303.4 L1718 303.6 L1720 303.8 L1722 304 L1724 304.2 L1726 304.4 L1728 304.5 L1730 304.7 L1732 304.8 L1734 305 L1736 305.1 L1738 305.3 L1740 305.4 L1742 305.5 L1744 305.7 L1746 305.8 L1748 305.9 L1750 306.1 L1752 306.2 L1754 306.4 L1756 306.6 L1758 306.8 L1760 306.9 L1762 307.1 L1764 307.3 L1766 307.5 L1768 307.7 L1770 307.9 L1772 308.1 L1773 308.3" stroke="#454545" stroke-width="2"/>
<path d="M10 323 L12 322.5 L14 322.1 L16 321.6 L18 321.2 L20 320.7 L22 320.3 L24 319.8 L26 319.3 L28 318.9 L30 318.4 L32 318 L34 317.5 L36 317.1 L38 316.6 L40 316.1 L42 315.6 L44 315.1 L46 314.5 L48 313.9 L50 313.2 L52 312.5 L54 311.7 L56 310.8 L58 309.9 L60 308.9 L62 307.9 L64 306.8 L66 305.8 L68 304.7 L70 303.7 L72 302.6 L74 301.5 L76 300.5 L78 299.4 L80 298.4 L82 297.3 L84 296.3 L86 295.2 L88 294.2 L90 293.2 L92 292.2 L94 291.2 L96 290.3 L98 289.3 L100 288.4 L102 287.5 L104 286.5 L106 285.6 L108 284.7 L110 283.8 L112 282.8 L114 281.9 L116 281 L118 280.1 L120 279.2 L122 278.4 L124 277.5 L126 276.7 L128 275.9 L130 275.2 L132 274.6 L134 273.9 L136 273.4 L138 272.8 L140 272.3 L142 271.7 L144 271.2 L146 270.7 L148 270.2 L150 269.7 L152 269.2 L154 268.7 L156 268.2 L158 267.7 L160 267.2 L162 266.7 L164 266.2 L166 265.7 L168 265.2 L170 264.7 L172 264.2 L174 263.7 L176 263.3 L178 262.9 L180 262.5 L182 262.1 L184 261.7 L186 261.4 L188 261.1 L190 260.8 L192 260.5 L194 260.3 L196 260 L198 259.7 L200 259.5 L202 259.2 L204 259 L206 258.7 L208 258.5 L210 258.3 L212 258.1 L214 257.9 L216 257.8 L218 257.7 L220 257.7 L222 257.7 L224 257.8 L226 258 L228 258.1 L230 258.3 L232 258.5 L234 258.8 L236 259 L238 259.2 L240 259.4 L242 259.5 L244 259.7 L246 259.9 L248 260 L250 260.1 L252 260.3 L254 260.4 L256 260.6 L258 260.7 L260 260.8 L262 261 L264 261.1 L266 261.2 L268 261.4 L270 261.6 L272 261.7 L274 261.9 L276 262.2 L278 262.4 L280 262.7 L282 263 L284 263.3 L286 263.7 L288 264 L290 264.4 L292 264.8 L294 265.1 L296 265.5 L298 265.8 L300 266.2 L302 266.6 L304 266.9 L306 267.2 L308 267.5 L310 267.8 L312 268.1 L314 268.3 L316 268.5 L318 268.7 L320 268.8 L322 269 L324 269.1 L326 269.3 L328 269.4 L330 269.5 L332 269.7 L334 269.8 L336 269.9 L338 270 L340 270.1 L342 270.2 L344 270.3 L346 270.3 L348 270.4 L350 270.4 L352 270.3 L354 270.3 L356 270.3 L358 270.2 L360 270.2 L362 270.1 L364 270 L366 270 L368 269.9 L370 269.8 L372 269.8 L374 269.7 L376 269.6 L378 269.5 L380 269.4 L382 269.2 L384 269.1 L386 268.9 L388 268.8 L390 268.6 L392 268.4 L394 268.2 L396 267.9 L398 267.7 L400 267.4 L402 267.1 L404 266.7 L406 266.3 L408 265.8 L410 265.3 L412 264.8 L414 264.2 L416 263.6 L418 263 L420 262.4 L422 261.8 L424 261.2 L426 260.6 L428 260 L430 259.4 L432 258.8 L434 258.2 L436 257.5 L438 256.9 L440 256.3 L442 255.7 L444 255.1 L446 254.4 L448 253.8 L450 253.2 L452 252.6 L454 252 L456 251.3 L458 250.7 L460 250.1 L462 249.5 L464 248.9 L466 248.2 L468 247.6 L470 247 L472 246.4 L474 245.8 L476 245.1 L478 244.5 L480 243.9 L482 243.3 L484 242.7 L486 242 L488 241.4 L490 240.8 L492 240.2 L494 239.6 L496 238.9 L498 238.3 L500 237.7 L502 237.1 L504 236.4 L506 235.8 L508 235.1 L510 234.4 L512 233.7 L514 233 L516 232.3 L518 231.5 L520 230.7 L522 230 L524 229.2 L526 228.4 L528 227.6 L530 226.8 L532 226.1 L534 225.3 L536 224.5 L538 223.7 L540 222.9 L542 222.1 L544 221.3 L546 220.6 L548 219.8 L550 219 L552 218.2 L554 217.4 L556 216.6 L558 215.8 L560 215.1 L562 214.3 L564 213.5 L566 212.7 L568 211.9 L570 211.1 L572 210.3 L574 209.4 L576 208.6 L578 207.7 L580 206.7 L582 205.8 L584 204.8 L586 203.7 L588 202.7 L590 201.6 L592 200.5 L594 199.4 L596 198.3 L598 197.2 L600 196.1 L602 195 L604 194 L606 193 L608 192.1 L610 191.2 L612 190.3 L614 189.5 L616 188.7 L618 188 L620 187.3 L622 186.5 L624 185.9 L626 185.2 L628 184.5 L630 183.8 L632 183.1 L634 182.5 L636 181.8 L638 181.2 L640 180.6 L642 180 L644 179.4 L646 178.9 L648 178.3 L650 177.8 L652 177.3 L654 176.8 L656 176.3 L658 175.8 L660 175.3 L662 174.8 L664 174.3 L666 173.9 L668 173.4 L670 172.9 L672 172.4 L674 172 L676 171.5 L678 171.1 L680 170.6 L682 170.2 L684 169.7 L686 169.3 L688 168.9 L690 168.5 L692 168 L694 167.6 L696 167.2 L698 166.7 L700 166.3 L702 165.9 L704 165.4 L706 165 L708 164.6 L710 164.1 L712 163.7 L714 163.3 L716 162.8 L718 162.3 L720 161.9 L722 161.4 L724 160.9 L726 160.4 L728 159.9 L730 159.3 L732 158.8 L734 158.3 L736 157.8 L738 157.2 L740 156.7 L742 156.2 L744 155.7 L746 155.2 L748 154.7 L750 154.2 L752 153.7 L754 153.3 L756 152.9 L758 152.5 L760 152.1 L762 151.7 L764 151.3 L766 150.9 L768 150.6 L770 150.2 L772 149.9 L774 149.6 L776 149.3 L778 149 L780 148.8 L782 148.5 L784 148.3 L786 148.2 L788 148 L790 147.9 L792 147.7 L794 147.6 L796 147.6 L798 147.6 L800 147.6 L802 147.7 L804 147.8 L806 148 L808 148.3 L810 148.5 L812 148.8 L814 149.1 L816 149.4 L818 149.7 L820 150 L822 150.3 L824 150.6 L826 150.9 L828 151.3 L830 151.6 L832 152 L834 152.3 L836 152.7 L838 153 L840 153.4 L842 153.8 L844 154.2 L846 154.6 L848 155 L850 155.4 L852 155.8 L854 156.2 L856 156.6 L858 157 L860 157.5 L862 157.9 L864 158.3 L866 158.8 L868 159.2 L870 159.7 L872 160.2 L874 160.7 L876 161.2 L878 161.7 L880 162.2 L882 162.7 L884 163.2 L886 163.7 L888 164.2 L890 164.7 L892 165.2 L894 165.7 L896 166.2 L898 166.7 L900 167.2 L902 167.7 L904 168.2 L906 168.7 L908 169.2 L910 169.7 L912 170.2 L914 170.7 L916 171.2 L918 171.7 L920 172.2 L922 172.7 L924 173.2 L926 173.7 L928 174.3 L930 174.9 L932 175.5 L934 176.1 L936 176.8 L938 177.4 L940 178.1 L942 178.8 L944 179.5 L946 180.2 L948 180.8 L950 181.5 L952 182.2 L954 182.9 L956 183.7 L958 184.4 L960 185.1 L962 185.8 L964 186.6 L966 187.3 L968 188.1 L970 188.8 L972 189.6 L974 190.3 L976 191.1 L978 191.8 L980 192.6 L982 193.4 L984 194.1 L986 194.9 L988 195.6 L990 196.4 L992 197.2 L994 197.9 L996 198.7 L998 199.4 L1000 200.1 L1002 200.9 L1004 201.6 L1006 202.3 L1008 203 L1010 203.7 L1012 204.4 L1014 205.1 L1016 205.8 L1018 206.5 L1020 207.2 L1022 207.9 L1024 208.6 L1026 209.3 L1028 209.9 L1030 210.6 L1032 211.3 L1034 212 L1036 212.7 L1038 213.3 L1040 213.9 L1042 214.6 L1044 215.2 L1046 215.7 L1048 216.3 L1050 216.8 L1052 217.4 L1054 217.9 L1056 218.4 L1058 218.9 L1060 219.4 L1062 219.9 L1064 220.4 L1066 220.9 L1068 221.4 L1070 222 L1072 222.5 L1074 223 L1076 223.5 L1078 224.1 L1080 224.7 L1082 225.3 L1084 225.9 L1086 226.6 L1088 227.3 L1090 228.1 L1092 228.9 L1094 229.7 L1096 230.5 L1098 231.4 L1100 232.3 L1102 233.2 L1104 234.1 L1106 235.1 L1108 236 L1110 237 L1112 238 L1114 239 L1116 240 L1118 241 L1120 242 L1122 243 L1124 244 L1126 245 L1128 246 L1130 247 L1132 248 L1134 249 L1136 250 L1138 251 L1140 252 L1142 253 L1144 254 L1146 255 L1148 256 L1150 257 L1152 258 L1154 259 L1156 260 L1158 261.1 L1160 262.1 L1162 263.2 L1164 264.4 L1166 265.6 L1168 266.8 L1170 268 L1172 269.3 L1174 270.6 L1176 271.9 L1178 273.2 L1180 274.5 L1182 275.9 L1184 277.2 L1186 278.5 L1188 279.9 L1190 281.2 L1192 282.6 L1194 283.9 L1196 285.2 L1198 286.6 L1200 287.9 L1202 289.2 L1204 290.5 L1206 291.8 L1208 293.1 L1210 294.3 L1212 295.5 L1214 296.7 L1216 297.8 L1218 298.9 L1220 299.9 L1222 301 L1224 302 L1226 303 L1228 304 L1230 305 L1232 306 L1234 307 L1236 308 L1238 309 L1240 310 L1242 311 L1244 312 L1246 313 L1248 314 L1250 315 L1252 315.9 L1254 316.9 L1256 317.9 L1258 318.8 L1260 319.7 L1262 320.6 L1264 321.4 L1266 322.2 L1268 323 L1270 323.8 L1272 324.6 L1274 325.4 L1276 326.1 L1278 326.9 L1280 327.6 L1282 328.4 L1284 329.1 L1286 329.9 L1288 330.6 L1290 331.4 L1292 332.1 L1294 332.9 L1296 333.6 L1298 334.4 L1300 335.1 L1302 335.9 L1304 336.6 L1306 337.4 L1308 338.1 L1310 338.9 L1312 339.6 L1314 340.4 L1316 341.1 L1318 341.8 L1320 342.6 L1322 343.3 L1324 344 L1326 344.7 L1328 345.3 L1330 346 L1332 346.6 L1334 347.2 L1336 347.9 L1338 348.5 L1340 349.1 L1342 349.7 L1344 350.3 L1346 350.9 L1348 351.5 L1350 352.1 L1352 352.7 L1354 353.3 L1356 353.9 L1358 354.5 L1360 355.1 L1362 355.7 L1364 356.3 L1366 356.9 L1368 357.5 L1370 358.1 L1372 358.7 L1374 359.3 L1376 359.9 L1378 360.5 L1380 361.1 L1382 361.7 L1384 362.3 L1386 362.8 L1388 363.4 L1390 364 L1392 364.5 L1394 365.1 L1396 365.6 L1398 366.1 L1400 366.6 L1402 367.1 L1404 367.6 L1406 368.1 L1408 368.6 L1410 369.1 L1412 369.6 L1414 370.1 L1416 370.6 L1418 371.1 L1420 371.6 L1422 372.1 L1424 372.6 L1426 373.1 L1428 373.6 L1430 374.1 L1432 374.6 L1434 375.1 L1436 375.6 L1438 376.1 L1440 376.6 L1442 377.1 L1444 377.6 L1446 378.1 L1448 378.6 L1450 379 L1452 379.5 L1454 380 L1456 380.4 L1458 380.9 L1460 381.3 L1462 381.7 L1464 382.1 L1466 382.5 L1468 382.9 L1470 383.3 L1472 383.7 L1474 384.1 L1476 384.5 L1478 384.8 L1480 385.2 L1482 385.6 L1484 385.9 L1486 386.2 L1488 386.5 L1490 386.8 L1492 387 L1494 387.2 L1496 387.4 L1498 387.4 L1500 387.5 L1502 387.5 L1504 387.5 L1506 387.4 L1508 387.4 L1510 387.3 L1512 387.1 L1514 387 L1516 386.8 L1518 386.5 L1520 386.2 L1522 385.9 L1524 385.5 L1526 385.1 L1528 384.6 L1530 384.2 L1532 383.7 L1534 383.2 L1536 382.7 L1538 382.2 L1540 381.7 L1542 381.2 L1544 380.8 L1546 380.3 L1548 379.8 L1550 379.3 L1552 378.9 L1554 378.4 L1556 377.9 L1558 377.5 L1560 377 L1562 376.5 L1564 376.1 L1566 375.6 L1568 375.1 L1570 374.7 L1572 374.2 L1574 373.7 L1576 373.2 L1578 372.6 L1580 372 L1582 371.4 L1584 370.7 L1586 370 L1588 369.2 L1590 368.4 L1592 367.6 L1594 366.7 L1596 365.8 L1598 364.9 L1600 364.1 L1602 363.2 L1604 362.3 L1606 361.4 L1608 360.6 L1610 359.7 L1612 358.9 L1614 358.1 L1616 357.2 L1618 356.4 L1620 355.6 L1622 354.8 L1624 354 L1626 353.2 L1628 352.4 L1630 351.6 L1632 350.8 L1634 350 L1636 349.2 L1638 348.4 L1640 347.6 L1642 346.8 L1644 346 L1646 345.2 L1648 344.4 L1650 343.6 L1652 342.8 L1654 342 L1656 341.1 L1658 340.3 L1660 339.4 L1662 338.5 L1664 337.6 L1666 336.6 L1668 335.7 L1670 334.7 L1672 333.7 L1674 332.7 L1676 331.7 L1678 330.8 L1680 329.8 L1682 328.8 L1684 327.9 L1686 327 L1688 326.1 L1690 325.2 L1692 324.4 L1694 323.5 L1696 322.7 L1698 321.9 L1700 321.1 L1702 320.3 L1704 319.5 L1706 318.7 L1708 317.9 L1710 317.1 L1712 316.3 L1714 315.6 L1716 314.9 L1718 314.1 L1720 313.4 L1722 312.7 L1724 312 L1726 311.3 L1728 310.6 L1730 309.9 L1732 309.2 L1734 308.5 L1736 307.9 L1738 307.3 L1740 306.6 L1742 306.1 L1744 305.5 L1746 304.9 L1748 304.4 L1750 303.9 L1752 303.3 L1754 302.8 L1756 302.3 L1758 301.7 L1760 301.2 L1762 300.7 L1764 300.2 L1766 299.7 L1768 299.2 L1770 298.7 L1772 298.3 L1773 297.8" stroke="#68b068" stroke-width="1.2"/>
<path d="M10 223 L12 223.5 L14 224 L16 224.5 L18 225 L20 225.5 L22 226 L24 226.5 L26 227 L28 227.5 L30 228 L32 228.6 L34 229.1 L36 229.6 L38 230.1 L40 230.6 L42 231.1 L44 231.7 L46 232.3 L48 233 L50 233.7 L52 234.5 L54 235.5 L56 236.5 L58 237.6 L60 238.7 L62 239.9 L64 241.1 L66 242.3 L68 243.5 L70 244.7 L72 246 L74 247.2 L76 248.5 L78 249.8 L80 251.1 L82 252.4 L84 253.7 L86 255 L88 256.3 L90 257.7 L92 259 L94 260.3 L96 261.7 L98 263 L100 264.3 L102 265.5 L104 266.7 L106 267.8 L108 268.8 L110 269.7 L112 270.6 L114 271.3 L116 272 L118 272.6 L120 273.3 L122 273.8 L124 274.4 L126 274.9 L128 275.4 L130 275.9 L132 276.3 L134 276.7 L136 277 L138 277.4 L140 277.7 L142 278 L144 278.3 L146 278.6 L148 278.9 L150 279.3 L152 279.6 L154 279.9 L156 280.3 L158 280.6 L160 281 L162 281.4 L164 281.8 L166 282.2 L168 282.5 L170 282.9 L172 283.3 L174 283.7 L176 284.2 L178 284.6 L180 285 L182 285.5 L184 286 L186 286.4 L188 286.9 L190 287.5 L192 288 L194 288.5 L196 289 L198 289.4 L200 289.9 L202 290.3 L204 290.6 L206 290.9 L208 291 L210 291.1 L212 291.2 L214 291.1 L216 291.1 L218 291 L220 290.9 L222 290.8 L224 290.6 L226 290.5 L228 290.3 L230 290 L232 289.7 L234 289.4 L236 289 L238 288.7 L240 288.3 L242 287.8 L244 287.4 L246 287 L248 286.6 L250 286.1 L252 285.7 L254 285.3 L256 284.9 L258 284.4 L260 284 L262 283.6 L264 283.2 L266 282.7 L268 282.3 L270 281.9 L272 281.4 L274 281 L276 280.5 L278 280 L280 279.5 L282 279 L284 278.5 L286 278 L288 277.5 L290 276.9 L292 276.4 L294 275.9 L296 275.4 L298 274.8 L300 274.3 L302 273.8 L304 273.3 L306 272.7 L308 272.2 L310 271.7 L312 271.2 L314 270.7 L316 270.1 L318 269.7 L320 269.2 L322 268.7 L324 268.3 L326 267.9 L328 267.5 L330 267.1 L332 266.7 L334 266.4 L336 266 L338 265.7 L340 265.3 L342 265 L344 264.6 L346 264.3 L348 263.9 L350 263.6 L352 263.2 L354 262.9 L356 262.5 L358 262.2 L360 261.8 L362 261.4 L364 261.1 L366 260.7 L368 260.2 L370 259.8 L372 259.2 L374 258.7 L376 258.2 L378 257.6 L380 257 L382 256.4 L384 255.8 L386 255.1 L388 254.4 L390 253.7 L392 253 L394 252.2 L396 251.3 L398 250.4 L400 249.4 L402 248.5 L404 247.5 L406 246.5 L408 245.4 L410 244.4 L412 243.2 L414 242.1 L416 240.8 L418 239.5 L420 238.2 L422 236.8 L424 235.3 L426 233.9 L428 232.6 L430 231.3 L432 230 L434 228.9 L436 227.8 L438 226.7 L440 225.7 L442 224.8 L444 223.8 L446 222.8 L448 221.9 L450 220.9 L452 220 L454 219 L456 218.1 L458 217.1 L460 216.2 L462 215.3 L464 214.4 L466 213.5 L468 212.6 L470 211.8 L472 211 L474 210.2 L476 209.5 L478 208.8 L480 208.1 L482 207.4 L484 206.7 L486 206.1 L488 205.4 L490 204.7 L492 204 L494 203.4 L496 202.7 L498 202 L500 201.4 L502 200.7 L504 200 L506 199.2 L508 198.5 L510 197.6 L512 196.8 L514 195.9 L516 194.9 L518 193.9 L520 192.9 L522 191.8 L524 190.7 L526 189.7 L528 188.6 L530 187.5 L532 186.5 L534 185.4 L536 184.3 L538 183.3 L540 182.2 L542 181.1 L544 180 L546 178.9 L548 177.7 L550 176.6 L552 175.3 L554 174 L556 172.7 L558 171.3 L560 170 L562 168.5 L564 167.1 L566 165.7 L568 164.3 L570 162.9 L572 161.5 L574 160.1 L576 158.7 L578 157.4 L580 156.1 L582 154.8 L584 153.6 L586 152.4 L588 151.2 L590 150.1 L592 149 L594 147.9 L596 146.8 L598 145.8 L600 144.9 L602 144.1 L604 143.3 L606 142.6 L608 142 L610 141.5 L612 141 L614 140.5 L616 140 L618 139.6 L620 139.1 L622 138.7 L624 138.3 L626 137.8 L628 137.4 L630 137 L632 136.6 L634 136.2 L636 135.8 L638 135.4 L640 135 L642 134.6 L644 134.2 L646 133.8 L648 133.4 L650 133 L652 132.7 L654 132.3 L656 132 L658 131.7 L660 131.4 L662 131.1 L664 130.9 L666 130.6 L668 130.4 L670 130.2 L672 129.9 L674 129.7 L676 129.5 L678 129.3 L680 129.1 L682 128.9 L684 128.7 L686 128.6 L688 128.5 L690 128.5 L692 128.5 L694 128.6 L696 128.7 L698 128.9 L700 129 L702 129.2 L704 129.4 L706 129.6 L708 129.8 L710 130 L712 130.2 L714 130.4 L716 130.6 L718 130.7 L720 130.9 L722 131 L724 131.2 L726 131.3 L728 131.4 L730 131.5 L732 131.6 L734 131.7 L736 131.8 L738 131.9 L740 132 L742 132.1 L744 132.2 L746 132.3 L748 132.5 L750 132.6 L752 132.8 L754 133 L756 133.2 L758 133.5 L760 133.7 L762 134 L764 134.3 L766 134.6 L768 134.9 L770 135.3 L772 135.7 L774 136.1 L776 136.6 L778 137.2 L780 137.8 L782 138.5 L784 139.2 L786 139.9 L788 140.7 L790 141.5 L792 142.4 L794 143.3 L796 144.3 L798 145.4 L800 146.6 L802 147.8 L804 149.2 L806 150.5 L808 151.9 L810 153.3 L812 154.7 L814 156.1 L816 157.5 L818 158.8 L820 160.1 L822 161.3 L824 162.6 L826 163.8 L828 165 L830 166.2 L832 167.4 L834 168.7 L836 169.9 L838 171.1 L840 172.3 L842 173.4 L844 174.6 L846 175.8 L848 176.9 L850 178 L852 179.1 L854 180.1 L856 181.1 L858 182.1 L860 183.1 L862 184.1 L864 185.1 L866 186.1 L868 187.1 L870 188.1 L872 189.1 L874 190.1 L876 191.1 L878 192.1 L880 193.1 L882 194.1 L884 195.2 L886 196.2 L888 197.3 L890 198.3 L892 199.4 L894 200.5 L896 201.5 L898 202.6 L900 203.7 L902 204.7 L904 205.8 L906 206.8 L908 207.9 L910 209 L912 210 L914 211.1 L916 212.2 L918 213.2 L920 214.3 L922 215.4 L924 216.4 L926 217.5 L928 218.6 L930 219.6 L932 220.7 L934 221.8 L936 222.8 L938 223.9 L940 225 L942 226 L944 227.1 L946 228.1 L948 229.2 L950 230.3 L952 231.3 L954 232.4 L956 233.5 L958 234.5 L960 235.6 L962 236.6 L964 237.6 L966 238.7 L968 239.7 L970 240.7 L972 241.7 L974 242.7 L976 243.7 L978 244.7 L980 245.7 L982 246.7 L984 247.7 L986 248.6 L988 249.6 L990 250.5 L992 251.4 L994 252.1 L996 252.9 L998 253.5 L1000 254.1 L1002 254.6 L1004 255 L1006 255.4 L1008 255.8 L1010 256.1 L1012 256.5 L1014 256.8 L1016 257 L1018 257.2 L1020 257.4 L1022 257.5 L1024 257.5 L1026 257.6 L1028 257.6 L1030 257.6 L1032 257.6 L1034 257.6 L1036 257.6 L1038 257.6 L1040 257.6 L1042 257.6 L1044 257.6 L1046 257.6 L1048 257.6 L1050 257.6 L1052 257.7 L1054 257.7 L1056 257.8 L1058 258 L1060 258.2 L1062 258.4 L1064 258.6 L1066 258.9 L1068 259.2 L1070 259.5 L1072 259.8 L1074 260.1 L1076 260.4 L1078 260.7 L1080 261.1 L1082 261.4 L1084 261.7 L1086 262 L1088 262.3 L1090 262.7 L1092 263 L1094 263.4 L1096 263.8 L1098 264.3 L1100 264.9 L1102 265.5 L1104 266.3 L1106 267 L1108 267.9 L1110 268.7 L1112 269.6 L1114 270.5 L1116 271.4 L1118 272.3 L1120 273.2 L1122 274.1 L1124 275 L1126 276 L1128 276.9 L1130 278 L1132 279 L1134 280.1 L1136 281.3 L1138 282.5 L1140 283.8 L1142 285.1 L1144 286.3 L1146 287.6 L1148 288.9 L1150 290.2 L1152 291.6 L1154 292.9 L1156 294.2 L1158 295.5 L1160 296.9 L1162 298.3 L1164 299.7 L1166 301.1 L1168 302.6 L1170 304.2 L1172 305.7 L1174 307.3 L1176 308.9 L1178 310.5 L1180 312.1 L1182 313.7 L1184 315.3 L1186 316.9 L1188 318.5 L1190 320.1 L1192 321.7 L1194 323.4 L1196 325.1 L1198 326.8 L1200 328.5 L1202 330.2 L1204 332 L1206 333.8 L1208 335.6 L1210 337.4 L1212 339.2 L1214 341 L1216 342.8 L1218 344.6 L1220 346.4 L1222 348.2 L1224 350 L1226 351.8 L1228 353.6 L1230 355.4 L1232 357.2 L1234 359 L1236 360.8 L1238 362.6 L1240 364.4 L1242 366.2 L1244 368 L1246 369.8 L1248 371.6 L1250 373.4 L1252 375.2 L1254 377 L1256 378.8 L1258 380.6 L1260 382.5 L1262 384.4 L1264 386.3 L1266 388.3 L1268 390.2 L1270 392.2 L1272 394.1 L1274 396.1 L1276 398 L1278 399.9 L1280 401.7 L1282 403.4 L1284 405 L1286 406.4 L1288 407.8 L1290 409 L1292 410.2 L1294 411.3 L1296 412.4 L1298 413.5 L1300 414.5 L1302 415.5 L1304 416.4 L1306 417.3 L1308 418.1 L1310 418.7 L1312 419.3 L1314 419.7 L1316 420 L1318 420.3 L1320 420.5 L1322 420.7 L1324 420.8 L1326 421 L1328 421.2 L1330 421.3 L1332 421.5 L1334 421.6 L1336 421.8 L1338 421.9 L1340 422 L1342 422 L1344 422 L1346 422 L1348 422 L1350 421.9 L1352 421.8 L1354 421.8 L1356 421.7 L1358 421.6 L1360 421.5 L1362 421.4 L1364 421.3 L1366 421.2 L1368 421.1 L1370 421 L1372 420.9 L1374 420.7 L1376 420.5 L1378 420.1 L1380 419.7 L1382 419.1 L1384 418.4 L1386 417.6 L1388 416.8 L1390 415.9 L1392 414.9 L1394 413.9 L1396 412.9 L1398 411.9 L1400 410.9 L1402 410 L1404 409 L1406 408 L1408 407 L1410 406 L1412 405 L1414 404 L1416 403 L1418 402 L1420 401 L1422 400 L1424 399 L1426 398 L1428 397 L1430 396 L1432 395 L1434 394 L1436 393 L1438 392 L1440 390.9 L1442 389.9 L1444 388.9 L1446 387.9 L1448 387 L1450 386 L1452 385 L1454 384.1 L1456 383.1 L1458 382.2 L1460 381.3 L1462 380.5 L1464 379.6 L1466 378.7 L1468 377.9 L1470 377 L1472 376.2 L1474 375.3 L1476 374.4 L1478 373.6 L1480 372.7 L1482 371.9 L1484 371 L1486 370.2 L1488 369.3 L1490 368.5 L1492 367.6 L1494 366.7 L1496 365.8 L1498 364.9 L1500 363.9 L1502 362.9 L1504 361.9 L1506 360.8 L1508 359.8 L1510 358.7 L1512 357.6 L1514 356.5 L1516 355.5 L1518 354.4 L1520 353.4 L1522 352.3 L1524 351.3 L1526 350.3 L1528 349.3 L1530 348.3 L1532 347.3 L1534 346.3 L1536 345.3 L1538 344.3 L1540 343.4 L1542 342.4 L1544 341.5 L1546 340.5 L1548 339.6 L1550 338.7 L1552 337.8 L1554 336.9 L1556 336 L1558 335.1 L1560 334.2 L1562 333.4 L1564 332.5 L1566 331.7 L1568 331 L1570 330.3 L1572 329.6 L1574 328.9 L1576 328.3 L1578 327.7 L1580 327.1 L1582 326.5 L1584 325.9 L1586 325.3 L1588 324.7 L1590 324.1 L1592 323.5 L1594 322.9 L1596 322.3 L1598 321.7 L1600 321.1 L1602 320.5 L1604 319.9 L1606 319.3 L1608 318.7 L1610 318.1 L1612 317.5 L1614 316.9 L1616 316.3 L1618 315.7 L1620 315.1 L1622 314.5 L1624 313.9 L1626 313.3 L1628 312.7 L1630 312.1 L1632 311.5 L1634 310.8 L1636 310.2 L1638 309.5 L1640 308.7 L1642 307.9 L1644 307.1 L1646 306.3 L1648 305.4 L1650 304.5 L1652 303.6 L1654 302.7 L1656 301.8 L1658 300.8 L1660 299.9 L1662 298.9 L1664 297.9 L1666 297 L1668 296 L1670 295 L1672 294 L1674 293 L1676 292 L1678 291 L1680 290 L1682 289 L1684 288 L1686 287 L1688 286 L1690 285.1 L1692 284.2 L1694 283.3 L1696 282.5 L1698 281.8 L1700 281.2 L1702 280.6 L1704 280.1 L1706 279.6 L1708 279.2 L1710 278.8 L1712 278.4 L1714 278 L1716 277.6 L1718 277.2 L1720 276.7 L1722 276.3 L1724 275.9 L1726 275.5 L1728 275.1 L1730 274.7 L1732 274.3 L1734 273.8 L1736 273.4 L1738 272.9 L1740 272.5 L1742 272 L1744 271.5 L1746 271 L1748 270.5 L1750 270.1 L1752 269.6 L1754 269.1 L1756 268.6 L1758 268.1 L1760 267.6 L1762 267.2 L1764 266.7 L1766 266.2 L1768 265.8 L1770 265.3 L1772 264.9 L1773 264.5" stroke="#6fd8de" stroke-width="1.2"/>
<path d="M10 245 L12 246.2 L14 247.5 L16 248.7 L18 250 L20 251.2 L22 252.4 L24 253.7 L26 254.9 L28 256.1 L30 257.3 L32 258.4 L34 259.4 L36 260.4 L38 261.4 L40 262.4 L42 263.3 L44 264.3 L46 265.3 L48 266.3 L50 267.2 L52 268.2 L54 269.1 L56 270.1 L58 271 L60 272 L62 272.9 L64 273.9 L66 274.8 L68 275.7 L70 276.7 L72 277.6 L74 278.6 L76 279.5 L78 280.4 L80 281.3 L82 282.1 L84 283 L86 283.9 L88 284.7 L90 285.6 L92 286.4 L94 287.3 L96 288.1 L98 288.9 L100 289.7 L102 290.4 L104 291.2 L106 291.9 L108 292.6 L110 293.3 L112 294 L114 294.5 L116 294.8 L118 294.8 L120 294.6 L122 294.2 L124 293.8 L126 293.4 L128 293 L130 292.5 L132 292.1 L134 291.7 L136 291.3 L138 290.9 L140 290.5 L142 290.1 L144 289.8 L146 289.5 L148 289.2 L150 288.9 L152 288.7 L154 288.4 L156 288.1 L158 287.8 L160 287.6 L162 287.3 L164 287.1 L166 286.9 L168 286.8 L170 286.8 L172 286.9 L174 287.1 L176 287.3 L178 287.5 L180 287.7 L182 287.9 L184 288.1 L186 288.3 L188 288.5 L190 288.7 L192 288.9 L194 289.2 L196 289.5 L198 289.9 L200 290.3 L202 290.7 L204 291 L206 291.1 L208 291 L210 290.7 L212 290.3 L214 289.9 L216 289.5 L218 289 L220 288.6 L222 288.1 L224 287.7 L226 287.2 L228 286.7 L230 286.3 L232 285.8 L234 285.3 L236 284.8 L238 284.3 L240 283.7 L242 283.2 L244 282.7 L246 282.2 L248 281.7 L250 281.2 L252 280.7 L254 280.2 L256 279.6 L258 279.1 L260 278.6 L262 278.1 L264 277.6 L266 277.1 L268 276.6 L270 276 L272 275.3 L274 274.4 L276 273.3 L278 272.2 L280 271 L282 269.7 L284 268.5 L286 267.2 L288 265.9 L290 264.6 L292 263.3 L294 262 L296 260.6 L298 259.3 L300 257.9 L302 256.6 L304 255.2 L306 253.9 L308 252.6 L310 251.5 L312 250.7 L314 250.1 L316 249.6 L318 249.3 L320 249 L322 248.7 L324 248.4 L326 248.1 L328 247.8 L330 247.5 L332 247.2 L334 246.9 L336 246.7 L338 246.5 L340 246.3 L342 246.2 L344 246 L346 245.8 L348 245.7 L350 245.5 L352 245.3 L354 245.2 L356 245 L358 244.8 L360 244.7 L362 244.5 L364 244.3 L366 244.1 L368 243.9 L370 243.6 L372 243.2 L374 242.7 L376 242.2 L378 241.7 L380 241.2 L382 240.8 L384 240.2 L386 239.7 L388 239.2 L390 238.7 L392 238 L394 237.3 L396 236.5 L398 235.6 L400 234.7 L402 233.7 L404 232.8 L406 231.8 L408 230.7 L410 229.3 L412 227.5 L414 225.5 L416 223.3 L418 221.1 L420 218.9 L422 216.7 L424 214.5 L426 212.3 L428 210.1 L430 207.9 L432 205.8 L434 203.9 L436 202.1 L438 200.4 L440 198.8 L442 197.2 L444 195.6 L446 194 L448 192.4 L450 190.9 L452 189.5 L454 188.1 L456 186.8 L458 185.4 L460 184 L462 182.7 L464 181.2 L466 179.7 L468 178 L470 176.2 L472 174.3 L474 172.4 L476 170.6 L478 168.9 L480 167.5 L482 166.5 L484 165.8 L486 165.2 L488 164.7 L490 164.2 L492 163.7 L494 163.2 L496 162.7 L498 162.2 L500 161.7 L502 161.2 L504 160.7 L506 160.2 L508 159.7 L510 159.2 L512 158.7 L514 158.2 L516 157.7 L518 157.2 L520 156.7 L522 156.2 L524 155.7 L526 155.2 L528 154.7 L530 154.2 L532 153.7 L534 153.1 L536 152.3 L538 151.6 L540 150.7 L542 149.9 L544 149 L546 148.2 L548 147.3 L550 146.5 L552 145.6 L554 144.8 L556 143.9 L558 143.1 L560 142.2 L562 141.4 L564 140.5 L566 139.6 L568 138.8 L570 137.9 L572 137.1 L574 136.2 L576 135.4 L578 134.5 L580 133.7 L582 132.8 L584 132 L586 131.1 L588 130.2 L590 129.3 L592 128.3 L594 127.3 L596 126.3 L598 125.3 L600 124.3 L602 123.3 L604 122.4 L606 121.5 L608 120.9 L610 120.5 L612 120.3 L614 120.1 L616 119.9 L618 119.8 L620 119.6 L622 119.5 L624 119.3 L626 119.2 L628 119 L630 118.9 L632 118.7 L634 118.6 L636 118.4 L638 118.3 L640 118.2 L642 118.2 L644 118.4 L646 118.8 L648 119.2 L650 119.6 L652 120.1 L654 120.6 L656 121 L658 121.5 L660 122 L662 122.4 L664 122.9 L666 123.4 L668 123.8 L670 124.3 L672 124.8 L674 125.2 L676 125.7 L678 126.2 L680 126.7 L682 127.2 L684 127.9 L686 128.6 L688 129.3 L690 130.1 L692 130.9 L694 131.7 L696 132.5 L698 133.4 L700 134.2 L702 135 L704 135.8 L706 136.5 L708 137.3 L710 137.9 L712 138.5 L714 138.9 L716 139.2 L718 139.6 L720 139.9 L722 140.2 L724 140.6 L726 140.9 L728 141.2 L730 141.6 L732 141.9 L734 142.2 L736 142.5 L738 142.9 L740 143.2 L742 143.5 L744 143.9 L746 144.2 L748 144.5 L750 144.8 L752 145.1 L754 145.3 L756 145.5 L758 145.7 L760 145.9 L762 146.1 L764 146.3 L766 146.5 L768 146.7 L770 146.9 L772 147.1 L774 147.4 L776 147.7 L778 148.4 L780 149.3 L782 150.5 L784 151.8 L786 153.1 L788 154.5 L790 155.8 L792 157.2 L794 158.6 L796 159.9 L798 161.3 L800 162.6 L802 164 L804 165.3 L806 166.7 L808 168.1 L810 169.4 L812 170.8 L814 172.1 L816 173.5 L818 175 L820 176.7 L822 178.7 L824 180.9 L826 183.1 L828 185.4 L830 187.8 L832 190.1 L834 192.4 L836 194.8 L838 197.1 L840 199.5 L842 201.8 L844 204.1 L846 206.4 L848 208.7 L850 210.9 L852 213 L854 215 L856 217 L858 219 L860 221 L862 223 L864 225 L866 226.9 L868 228.6 L870 230.2 L872 231.6 L874 232.9 L876 234.2 L878 235.5 L880 236.8 L882 238.1 L884 239.4 L886 240.8 L888 242.3 L890 243.9 L892 245.7 L894 247.5 L896 249.2 L898 250.9 L900 252.2 L902 253.1 L904 253.6 L906 253.9 L908 254.1 L910 254.2 L912 254.4 L914 254.5 L916 254.7 L918 254.8 L920 255 L922 255.1 L924 255.2 L926 255.3 L928 255.4 L930 255.5 L932 255.6 L934 255.7 L936 255.8 L938 255.9 L940 256 L942 256.1 L944 256.2 L946 256.3 L948 256.4 L950 256.5 L952 256.6 L954 256.7 L956 256.8 L958 256.9 L960 256.9 L962 257 L964 257 L966 257 L968 256.9 L970 256.9 L972 256.9 L974 256.9 L976 256.9 L978 256.9 L980 256.9 L982 256.8 L984 256.8 L986 256.8 L988 256.8 L990 256.8 L992 256.8 L994 256.8 L996 256.7 L998 256.7 L1000 256.7 L1002 256.7 L1004 256.7 L1006 256.7 L1008 256.7 L1010 256.6 L1012 256.6 L1014 256.6 L1016 256.6 L1018 256.6 L1020 256.6 L1022 256.5 L1024 256.5 L1026 256.5 L1028 256.5 L1030 256.5 L1032 256.5 L1034 256.5 L1036 256.4 L1038 256.4 L1040 256.5 L1042 256.5 L1044 256.6 L1046 256.8 L1048 257 L1050 257.2 L1052 257.4 L1054 257.6 L1056 257.8 L1058 258 L1060 258.2 L1062 258.4 L1064 258.6 L1066 258.8 L1068 259 L1070 259.2 L1072 259.4 L1074 259.6 L1076 259.8 L1078 260 L1080 260.2 L1082 260.5 L1084 260.9 L1086 261.3 L1088 261.9 L1090 262.6 L1092 263.2 L1094 263.9 L1096 264.6 L1098 265.4 L1100 266.5 L1102 268 L1104 269.7 L1106 271.5 L1108 273.4 L1110 275.3 L1112 277.2 L1114 279.1 L1116 281 L1118 282.9 L1120 284.8 L1122 286.7 L1124 288.6 L1126 290.5 L1128 292.4 L1130 294.4 L1132 296.4 L1134 298.5 L1136 300.6 L1138 302.8 L1140 305 L1142 307.2 L1144 309.4 L1146 311.6 L1148 313.8 L1150 316 L1152 318.2 L1154 320.4 L1156 322.6 L1158 324.8 L1160 327.1 L1162 329.3 L1164 331.6 L1166 334.1 L1168 336.6 L1170 339.1 L1172 341.7 L1174 344.3 L1176 346.9 L1178 349.5 L1180 352.1 L1182 354.7 L1184 357.3 L1186 359.9 L1188 362.5 L1190 365.1 L1192 367.7 L1194 370.5 L1196 373.5 L1198 376.8 L1200 380.4 L1202 384.3 L1204 388.3 L1206 392.2 L1208 396.1 L1210 399.8 L1212 402.9 L1214 405.3 L1216 407 L1218 408.1 L1220 409.1 L1222 409.9 L1224 410.8 L1226 411.7 L1228 412.6 L1230 413.4 L1232 414.4 L1234 415.4 L1236 416.6 L1238 418 L1240 419.5 L1242 421.1 L1244 422.7 L1246 424.3 L1248 426 L1250 427.6 L1252 429.2 L1254 430.8 L1256 432.5 L1258 434 L1260 435.6 L1262 437 L1264 438.4 L1266 439.7 L1268 440.9 L1270 442.2 L1272 443.4 L1274 444.3 L1276 444.8 L1278 444.7 L1280 444.2 L1282 443.5 L1284 442.7 L1286 441.9 L1288 441.1 L1290 440.3 L1292 439.4 L1294 438.6 L1296 437.8 L1298 437 L1300 436.1 L1302 435.3 L1304 434.5 L1306 433.7 L1308 432.8 L1310 432 L1312 431.2 L1314 430.4 L1316 429.5 L1318 428.7 L1320 427.9 L1322 427.1 L1324 426.2 L1326 425.4 L1328 424.6 L1330 423.8 L1332 423 L1334 422.2 L1336 421.4 L1338 420.6 L1340 419.8 L1342 419 L1344 418.2 L1346 417.4 L1348 416.6 L1350 415.8 L1352 415 L1354 414.2 L1356 413.2 L1358 412.1 L1360 410.7 L1362 409.1 L1364 407.4 L1366 405.7 L1368 404 L1370 402.3 L1372 400.6 L1374 398.9 L1376 397.2 L1378 395.5 L1380 394 L1382 392.6 L1384 391.3 L1386 390.1 L1388 388.9 L1390 387.8 L1392 386.6 L1394 385.5 L1396 384.3 L1398 383.2 L1400 382 L1402 380.9 L1404 379.7 L1406 378.6 L1408 377.4 L1410 376.3 L1412 375.1 L1414 374 L1416 372.8 L1418 371.7 L1420 370.5 L1422 369.5 L1424 368.4 L1426 367.5 L1428 366.6 L1430 365.7 L1432 364.8 L1434 363.9 L1436 363 L1438 362.1 L1440 361.2 L1442 360.3 L1444 359.4 L1446 358.5 L1448 357.6 L1450 356.7 L1452 355.8 L1454 354.9 L1456 354.1 L1458 353.4 L1460 352.7 L1462 351.9 L1464 351.2 L1466 350.5 L1468 349.8 L1470 349.1 L1472 348.4 L1474 347.7 L1476 346.9 L1478 346.2 L1480 345.5 L1482 344.8 L1484 344.1 L1486 343.4 L1488 342.7 L1490 342 L1492 341.2 L1494 340.5 L1496 339.8 L1498 339.1 L1500 338.3 L1502 337.4 L1504 336.5 L1506 335.5 L1508 334.5 L1510 333.6 L1512 332.6 L1514 331.6 L1516 330.7 L1518 329.7 L1520 328.7 L1522 327.8 L1524 326.8 L1526 325.8 L1528 324.8 L1530 323.8 L1532 322.8 L1534 321.8 L1536 320.8 L1538 319.8 L1540 318.8 L1542 317.8 L1544 316.9 L1546 316 L1548 315.1 L1550 314.2 L1552 313.3 L1554 312.4 L1556 311.5 L1558 310.6 L1560 309.7 L1562 308.8 L1564 307.9 L1566 307.1 L1568 306.3 L1570 305.6 L1572 304.9 L1574 304.3 L1576 303.7 L1578 303 L1580 302.4 L1582 301.8 L1584 301.1 L1586 300.4 L1588 299.7 L1590 298.9 L1592 298 L1594 297.2 L1596 296.4 L1598 295.5 L1600 294.7 L1602 294 L1604 293.5 L1606 293.2 L1608 293 L1610 293 L1612 293 L1614 293 L1616 293 L1618 293 L1620 293 L1622 293 L1624 293 L1626 293 L1628 293.1 L1630 293.2 L1632 293.4 L1634 293.5 L1636 293.7 L1638 293.8 L1640 293.7 L1642 293.3 L1644 292.7 L1646 292 L1648 291.3 L1650 290.5 L1652 289.7 L1654 288.9 L1656 288 L1658 287.2 L1660 286.3 L1662 285.4 L1664 284.4 L1666 283.4 L1668 282.4 L1670 281.4 L1672 280.4 L1674 279.4 L1676 278.3 L1678 277.2 L1680 276 L1682 274.9 L1684 273.7 L1686 272.7 L1688 271.7 L1690 270.8 L1692 270 L1694 269.2 L1696 268.4 L1698 267.7 L1700 267.1 L1702 266.6 L1704 266 L1706 265.5 L1708 264.8 L1710 264 L1712 263 L1714 261.8 L1716 260.7 L1718 259.6 L1720 258.4 L1722 257.4 L1724 256.4 L1726 255.4 L1728 254.4 L1730 253.6 L1732 252.9 L1734 252.4 L1736 252.1 L1738 251.9 L1740 251.7 L1742 251.5 L1744 251.3 L1746 250.9 L1748 250.4 L1750 249.8 L1752 249.1 L1754 248.4 L1756 247.7 L1758 247 L1760 246.4 L1762 245.8 L1764 245.3 L1766 244.8 L1768 244.3 L1770 243.8 L1772 243.4 L1773 243" stroke="#b87080" stroke-width="1.2"/>
<path d="M10 245 L12 248.8 L14 252.5 L16 256.2 L18 260 L20 263.7 L22 267.5 L24 271.2 L26 275 L28 278.7 L30 282.5 L32 286.2 L34 289.9 L36 293.7 L38 297.3 L40 300.5 L42 302.6 L44 303.7 L46 304.4 L48 305 L50 305.4 L52 305.5 L54 305.1 L56 304.4 L58 303.7 L60 303 L62 302.3 L64 301.6 L66 300.9 L68 300.2 L70 299.5 L72 298.8 L74 298 L76 297.2 L78 296.2 L80 294.9 L82 293.5 L84 292.2 L86 290.8 L88 289.5 L90 288.4 L92 287.7 L94 287.3 L96 287 L98 286.7 L100 286.3 L102 286 L104 285.7 L106 285.4 L108 285.3 L110 285.7 L112 286.3 L114 286.9 L116 287.5 L118 288.1 L120 288.8 L122 289.4 L124 290 L126 290.7 L128 291.3 L130 292 L132 292.8 L134 293.5 L136 294.3 L138 294.7 L140 294.7 L142 294 L144 293.2 L146 292.2 L148 291.3 L150 290.3 L152 289.4 L154 288.6 L156 287.8 L158 287.2 L160 286.7 L162 286.2 L164 285.6 L166 285.1 L168 284.6 L170 284.1 L172 283.5 L174 283.2 L176 283.1 L178 283.4 L180 284 L182 284.6 L184 285.1 L186 285.8 L188 286.4 L190 287 L192 287.6 L194 288.4 L196 289.5 L198 290.6 L200 291.7 L202 292.9 L204 294 L206 294.7 L208 294.7 L210 294.2 L212 293.5 L214 292.8 L216 292.1 L218 291.4 L220 290.6 L222 289.3 L224 287.3 L226 284.9 L228 282.3 L230 279.8 L232 277.2 L234 274.7 L236 272.1 L238 269.7 L240 267.7 L242 266.4 L244 265.7 L246 265 L248 264.3 L250 263.6 L252 263 L254 262.3 L256 261.6 L258 261 L260 260.6 L262 260.3 L264 260.1 L266 259.9 L268 259.7 L270 259.5 L272 259.3 L274 258.9 L276 258 L278 256.4 L280 254.5 L282 252.5 L284 250.6 L286 248.6 L288 246.6 L290 244.7 L292 243 L294 241.5 L296 240.3 L298 239 L300 237.8 L302 236.5 L304 235.3 L306 234.3 L308 233.7 L310 233.8 L312 234.3 L314 234.9 L316 235.5 L318 236.2 L320 236.8 L322 237.4 L324 238.2 L326 239.3 L328 240.5 L330 241.7 L332 242.9 L334 244.1 L336 245.2 L338 245.9 L340 246.3 L342 246.5 L344 246.7 L346 247 L348 247.2 L350 247.4 L352 247.5 L354 247.4 L356 247.1 L358 246.7 L360 246.3 L362 245.9 L364 245.5 L366 245.1 L368 244.4 L370 243.3 L372 241.7 L374 240 L376 238.2 L378 236.3 L380 234.5 L382 232.7 L384 230.7 L386 228.4 L388 225.7 L390 222.9 L392 220.1 L394 217.3 L396 214.5 L398 211.6 L400 208.7 L402 205.5 L404 202.2 L406 198.7 L408 195.2 L410 191.8 L412 188.3 L414 184.8 L416 181.3 L418 177.8 L420 174.3 L422 170.8 L424 167.4 L426 164.4 L428 162.4 L430 161.4 L432 160.9 L434 160.4 L436 159.9 L438 159.5 L440 159.3 L442 159.5 L444 159.9 L446 160.4 L448 160.8 L450 161.3 L452 161.9 L454 162.6 L456 163.6 L458 164.6 L460 165.6 L462 166.6 L464 167.6 L466 168.6 L468 169.4 L470 170.1 L472 170.8 L474 171.4 L476 172.1 L478 172.7 L480 172.8 L482 172.1 L484 171 L486 169.7 L488 168.4 L490 167.2 L492 165.9 L494 164.6 L496 163.3 L498 162.1 L500 160.8 L502 159.5 L504 158.2 L506 156.7 L508 155 L510 153 L512 151 L514 149 L516 147 L518 145 L520 143 L522 140.9 L524 138.6 L526 136.2 L528 133.9 L530 131.5 L532 129.1 L534 126.8 L536 124.5 L538 123 L540 122.4 L542 122.5 L544 122.8 L546 123.1 L548 123.3 L550 123.6 L552 123.9 L554 124.1 L556 124.4 L558 124.6 L560 124.6 L562 124.3 L564 123.7 L566 123 L568 122.3 L570 121.6 L572 120.8 L574 120.1 L576 119.4 L578 118.6 L580 117.9 L582 117.2 L584 116.4 L586 115.7 L588 114.9 L590 114.1 L592 113.3 L594 112.5 L596 111.7 L598 110.9 L600 110.1 L602 109.7 L604 109.8 L606 110.4 L608 111.2 L610 112 L612 112.8 L614 113.6 L616 114.4 L618 115.1 L620 115.6 L622 116 L624 116.3 L626 116.5 L628 116.8 L630 117.1 L632 117.4 L634 117.7 L636 118 L638 118.3 L640 118.8 L642 119.8 L644 121.2 L646 122.7 L648 124.3 L650 126 L652 127.6 L654 129.2 L656 130.8 L658 132.4 L660 133.9 L662 135.5 L664 137.1 L666 138.6 L668 140.2 L670 141.7 L672 143.2 L674 144.3 L676 145.1 L678 145.6 L680 146.2 L682 146.7 L684 147.2 L686 147.7 L688 148.2 L690 148.7 L692 149.2 L694 149.7 L696 150.2 L698 150.7 L700 151.2 L702 151.6 L704 152 L706 152.3 L708 152.7 L710 153.1 L712 153.5 L714 153.9 L716 154.2 L718 154.6 L720 154.6 L722 154.3 L724 153.7 L726 153 L728 152.3 L730 151.7 L732 151 L734 150.4 L736 149.7 L738 149.1 L740 148.6 L742 148.1 L744 147.7 L746 147.3 L748 147 L750 146.6 L752 146.2 L754 145.9 L756 145.7 L758 145.7 L760 145.8 L762 146 L764 146.2 L766 146.3 L768 146.5 L770 146.6 L772 146.9 L774 147.5 L776 148.9 L778 151.2 L780 153.9 L782 156.7 L784 159.5 L786 162.2 L788 164.5 L790 166.4 L792 168 L794 169.5 L796 171 L798 172.7 L800 175.1 L802 178.8 L804 183.7 L806 188.9 L808 194.2 L810 199.2 L812 204.1 L814 208.8 L816 213.5 L818 218.2 L820 222.7 L822 226.9 L824 230.9 L826 234.9 L828 238.8 L830 242.6 L832 245.8 L834 247.7 L836 248.2 L838 248.2 L840 248 L842 247.7 L844 247.5 L846 247.3 L848 247.1 L850 246.9 L852 246.7 L854 246.5 L856 246.3 L858 246.2 L860 246 L862 245.8 L864 245.8 L866 245.9 L868 246.4 L870 246.9 L872 247.5 L874 248 L876 248.6 L878 249.2 L880 249.7 L882 250.3 L884 250.9 L886 251.4 L888 252.1 L890 252.8 L892 253.5 L894 254.3 L896 255 L898 255.8 L900 256.5 L902 257.3 L904 258 L906 258.8 L908 259.5 L910 260.3 L912 261.1 L914 261.8 L916 262.2 L918 262.1 L920 261.4 L922 260.5 L924 259.5 L926 258.5 L928 257.5 L930 256.5 L932 255.8 L934 255.4 L936 255.4 L938 255.6 L940 255.8 L942 256 L944 256.2 L946 256.4 L948 256.7 L950 256.9 L952 257.1 L954 257.3 L956 257.6 L958 257.8 L960 258 L962 258.1 L964 258.3 L966 258.4 L968 258.5 L970 258.6 L972 258.8 L974 258.9 L976 259 L978 259.1 L980 259.3 L982 259.4 L984 259.5 L986 259.6 L988 259.8 L990 259.9 L992 260 L994 260.1 L996 260.3 L998 260.4 L1000 260.4 L1002 260.3 L1004 260 L1006 259.6 L1008 259.2 L1010 258.7 L1012 258.3 L1014 257.9 L1016 257.4 L1018 257 L1020 256.6 L1022 256.1 L1024 255.7 L1026 255.3 L1028 254.9 L1030 254.6 L1032 254.6 L1034 254.7 L1036 254.8 L1038 255 L1040 255.1 L1042 255.2 L1044 255.4 L1046 255.5 L1048 255.6 L1050 255.8 L1052 255.9 L1054 256.1 L1056 256.2 L1058 256.4 L1060 256.8 L1062 257.3 L1064 257.9 L1066 258.5 L1068 259.1 L1070 259.7 L1072 260.3 L1074 260.9 L1076 261.5 L1078 262.2 L1080 263.5 L1082 265.5 L1084 268 L1086 270.5 L1088 273.1 L1090 275.6 L1092 278.2 L1094 280.8 L1096 283.5 L1098 286.6 L1100 289.8 L1102 293 L1104 296.2 L1106 299.6 L1108 303.2 L1110 307.6 L1112 312.7 L1114 318.1 L1116 323.5 L1118 328.9 L1120 334.1 L1122 339.1 L1124 343.9 L1126 348.5 L1128 353.1 L1130 357.7 L1132 361.9 L1134 365.4 L1136 367.6 L1138 369.3 L1140 370.8 L1142 372.3 L1144 373.8 L1146 375.3 L1148 376.7 L1150 377.8 L1152 378.2 L1154 378.3 L1156 378.3 L1158 378.3 L1160 378.3 L1162 378.3 L1164 378.5 L1166 379.4 L1168 381.7 L1170 385.2 L1172 389.1 L1174 393 L1176 397 L1178 400.9 L1180 404.8 L1182 408.5 L1184 412.2 L1186 415.9 L1188 419.6 L1190 423.3 L1192 427 L1194 430.3 L1196 433.2 L1198 435.4 L1200 437.5 L1202 439.5 L1204 441.4 L1206 442.6 L1208 442.8 L1210 442.1 L1212 441.1 L1214 440.1 L1216 439.1 L1218 438.3 L1220 437.9 L1222 437.7 L1224 437.5 L1226 437.3 L1228 437.1 L1230 437 L1232 436.8 L1234 436.6 L1236 436.6 L1238 436.8 L1240 437.3 L1242 438.1 L1244 438.9 L1246 439.7 L1248 440.5 L1250 441.3 L1252 442.1 L1254 442.9 L1256 443.7 L1258 444.6 L1260 445.6 L1262 446.6 L1264 447.6 L1266 448.6 L1268 449.6 L1270 450.4 L1272 450.8 L1274 450.1 L1276 448.9 L1278 447.4 L1280 445.9 L1282 444.4 L1284 442.9 L1286 441.3 L1288 439.6 L1290 437.8 L1292 435.8 L1294 433.8 L1296 431.8 L1298 429.8 L1300 427.9 L1302 425.9 L1304 423.9 L1306 421.9 L1308 419.9 L1310 418 L1312 416.2 L1314 414.5 L1316 412.9 L1318 411.3 L1320 409.7 L1322 408.1 L1324 406.5 L1326 404.9 L1328 403.4 L1330 402.3 L1332 401.8 L1334 401.9 L1336 402.1 L1338 402.3 L1340 402.6 L1342 402.8 L1344 402.9 L1346 402.6 L1348 401.4 L1350 399.7 L1352 397.9 L1354 396.1 L1356 394.3 L1358 392.5 L1360 390.7 L1362 388.9 L1364 387 L1366 384.9 L1368 382.6 L1370 380.1 L1372 377.6 L1374 375.1 L1376 372.5 L1378 370.1 L1380 367.8 L1382 366 L1384 364.6 L1386 363.4 L1388 362.2 L1390 361 L1392 359.8 L1394 358.6 L1396 357.4 L1398 356.2 L1400 355.2 L1402 354.5 L1404 354 L1406 353.5 L1408 352.9 L1410 352.4 L1412 351.9 L1414 351.4 L1416 350.9 L1418 350.4 L1420 349.9 L1422 349.4 L1424 348.9 L1426 348.5 L1428 348.2 L1430 347.8 L1432 347.5 L1434 347.2 L1436 347 L1438 346.8 L1440 346.7 L1442 346.6 L1444 346.5 L1446 346.3 L1448 346.2 L1450 346.1 L1452 346 L1454 345.9 L1456 345.8 L1458 345.9 L1460 346.1 L1462 346.3 L1464 346.5 L1466 346.8 L1468 347 L1470 347.2 L1472 347.5 L1474 347.7 L1476 347.7 L1478 347.5 L1480 347.1 L1482 346.7 L1484 346.2 L1486 345.7 L1488 345.1 L1490 344.2 L1492 342.3 L1494 339.6 L1496 336.5 L1498 333.4 L1500 330.2 L1502 327.2 L1504 324.3 L1506 321.8 L1508 319.4 L1510 317.1 L1512 314.7 L1514 312.4 L1516 310 L1518 307.7 L1520 305.5 L1522 303.2 L1524 301 L1526 298.9 L1528 297.5 L1530 296.9 L1532 297 L1534 297.1 L1536 297.3 L1538 297.5 L1540 297.7 L1542 297.8 L1544 297.9 L1546 297.9 L1548 297.9 L1550 297.9 L1552 297.9 L1554 297.9 L1556 297.9 L1558 297.9 L1560 297.9 L1562 297.9 L1564 297.9 L1566 298 L1568 298.2 L1570 298.5 L1572 298.9 L1574 299.3 L1576 299.6 L1578 299.9 L1580 300 L1582 299.8 L1584 299.5 L1586 299.2 L1588 298.9 L1590 298.6 L1592 298.2 L1594 297.9 L1596 297.5 L1598 297.1 L1600 296.7 L1602 296.3 L1604 295.9 L1606 295.5 L1608 295 L1610 294.6 L1612 294.2 L1614 293.7 L1616 293.3 L1618 292.9 L1620 292.5 L1622 292.1 L1624 291.9 L1626 292 L1628 292.1 L1630 292.3 L1632 292.5 L1634 292.6 L1636 292.7 L1638 292.5 L1640 291.8 L1642 290.7 L1644 289.5 L1646 288.3 L1648 287.1 L1650 285.8 L1652 284.4 L1654 282.9 L1656 281.4 L1658 279.8 L1660 277.8 L1662 275.4 L1664 272.7 L1666 269.9 L1668 267.1 L1670 264.5 L1672 262 L1674 259.6 L1676 257.3 L1678 255 L1680 252.7 L1682 250.5 L1684 248.7 L1686 246.9 L1688 245.2 L1690 243.6 L1692 242.1 L1694 241.2 L1696 241 L1698 241.2 L1700 241.5 L1702 242 L1704 242.8 L1706 243.6 L1708 244.4 L1710 245.2 L1712 245.9 L1714 246.3 L1716 246.5 L1718 246.5 L1720 246.5 L1722 246.5 L1724 246.6 L1726 246.8 L1728 247.1 L1730 247.4 L1732 247.7 L1734 248.1 L1736 248.5 L1738 248.9 L1740 249.4 L1742 249.8 L1744 250 L1746 249.9 L1748 249.6 L1750 249.3 L1752 249 L1754 248.6 L1756 248.2 L1758 247.8 L1760 247.3 L1762 246.8 L1764 246.3 L1766 245.7 L1768 245.1 L1770 244.5 L1772 244 L1773 243.5" stroke="#77dd77" stroke-width="1.2"/>
<path d="M10 258 L13.1 268 L17.2 290 L25.5 303 L29.6 307.2 L33.7 303.8 L37.9 304.1 L42 307.4 L46.1 307.7 L50.3 306.2 L54.4 303.6 L58.5 299.7 L62.7 299.2 L66.8 298.5 L70.9 297.1 L75.1 295.9 L79.2 292.2 L83.3 288.5 L87.5 284.1 L91.6 278.4 L95.7 277.6 L99.9 275.5 L104 279.9 L108.1 291.4 L112.2 297 L116.4 304.2 L120.5 305.6 L124.6 297.9 L128.8 294.4 L132.9 291.4 L137 288.2 L141.2 287.3 L145.3 285.5 L149.4 285.3 L153.6 286.9 L157.7 286.9 L161.8 287.4 L166 283.9 L170.1 279 L174.2 277.5 L178.4 278.3 L182.5 284.7 L186.6 292.4 L190.7 298.3 L194.9 301.4 L199 299.3 L203.1 304.5 L207.3 305.7 L211.4 299.9 L215.5 295.7 L219.7 283.3 L223.8 273.5 L227.9 269.1 L232.1 264.2 L236.2 260.2 L240.3 257.6 L244.5 257.4 L248.6 258.7 L252.7 257.4 L256.9 258.9 L261 257.9 L265.1 257 L269.2 257.2 L273.4 258.1 L277.5 253.1 L281.6 247.2 L285.8 243.2 L289.9 234.4 L294 235.2 L298.2 233.4 L302.3 230 L306.4 233.1 L310.6 234 L314.7 238.7 L318.8 244.4 L323 244.9 L327.1 246.9 L331.2 251.3 L335.4 252.3 L339.5 256.9 L343.6 256.7 L347.7 251.7 L351.9 248.6 L356 244.6 L360.1 245.9 L364.3 248.1 L368.4 247.9 L372.5 245.1 L376.7 238.4 L380.8 230.4 L384.9 224.4 L389.1 219.9 L393.2 214.8 L397.3 213.1 L401.5 203.1 L405.6 189.8 L409.7 179.1 L413.9 163.9 L418 157.8 L422.1 154.6 L426.2 155.1 L430.4 157.8 L434.5 162 L438.6 165 L442.8 162.8 L446.9 162.4 L451 165.7 L455.2 168.1 L459.3 172.1 L463.4 176.9 L467.6 175.7 L471.7 175.2 L475.8 176 L480 173.7 L484.1 173.1 L488.2 173.8 L492.4 169.4 L496.5 162.6 L500.6 162.9 L504.8 154.3 L508.9 146.5 L513 141.6 L517.1 130.4 L521.3 128.2 L525.4 126.2 L529.5 124.2 L533.7 122.5 L537.8 119.6 L541.9 120.8 L546.1 123.9 L550.2 126.7 L554.3 129.4 L558.5 129.7 L562.6 129.6 L566.7 126.2 L570.9 122.4 L575 123.8 L579.1 118.2 L583.3 113.8 L587.4 112.8 L591.5 106.7 L595.6 105.3 L599.8 106 L603.9 104.7 L608 108.7 L612.2 118.2 L616.3 123.1 L620.4 128.2 L624.6 126.5 L628.7 122.4 L632.8 120.7 L637 119 L641.1 119.2 L645.2 118 L649.4 123.2 L653.5 129.3 L657.6 137 L661.8 143.5 L665.9 145 L670 144.3 L674.1 144.7 L678.3 144.5 L682.4 143.6 L686.5 146.1 L690.7 145.6 L694.8 155.6 L698.9 157.8 L703.1 158.8 L707.2 159.8 L711.3 154.9 L715.5 154.7 L719.6 152.4 L723.7 150.1 L727.9 145.7 L732 144 L736.1 143.6 L740.3 143.1 L744.4 141.1 L748.5 138.2 L752.6 139 L756.8 142.2 L760.9 147.3 L765 153.4 L769.2 153 L773.3 151.7 L777.4 155.6 L781.6 160.9 L785.7 171.1 L789.8 179.7 L794 178.5 L798.1 178.3 L802.2 189 L806.4 210.8 L810.5 232.5 L814.6 250.1 L818.8 254.3 L822.9 250.3 L827 250.7 L831.1 255.9 L835.3 257.9 L839.4 256.7 L843.5 255.5 L847.7 248.3 L851.8 246.2 L855.9 247.7 L860.1 244.2 L864.2 244.3 L868.3 245.5 L872.5 244.4 L876.6 248 L880.7 253.6 L884.9 256.8 L889 260.8 L893.1 269.1 L897.3 269.9 L901.4 268.8 L905.5 266.7 L909.6 261.8 L913.8 261 L917.9 260.9 L922 260.4 L926.2 257.4 L930.3 255 L934.4 253.8 L938.6 255.4 L942.7 256.9 L946.8 256.8 L951 258.8 L955.1 258.1 L959.2 256 L963.4 259.6 L967.5 261.1 L971.6 260.5 L975.8 261.1 L979.9 259.9 L984 261.1 L988.1 265 L992.3 267.8 L996.4 266.7 L1000.5 264.1 L1004.7 260.1 L1008.8 256 L1012.9 255.3 L1017.1 254.4 L1021.2 252.8 L1025.3 252.2 L1029.5 250.7 L1033.6 248.5 L1037.7 248.4 L1041.9 253.6 L1046 255.3 L1050.1 255.6 L1054.3 256.2 L1058.4 255.2 L1062.5 257.6 L1066.6 261.9 L1070.8 264.3 L1074.9 264 L1079 267 L1083.2 270.5 L1087.3 279.8 L1091.4 292.3 L1095.6 302.2 L1099.7 312.6 L1103.8 315.7 L1108 316.1 L1112.1 333.4 L1116.2 354.4 L1120.4 372.4 L1124.5 388.8 L1128.6 388.3 L1132.8 381.3 L1136.9 380 L1141 383.4 L1145.1 381.1 L1149.3 380.8 L1153.4 377.7 L1157.5 371.4 L1161.7 370.7 L1165.8 376.5 L1169.9 386.7 L1174.1 400.2 L1178.2 427.8 L1182.3 439.5 L1186.5 447.2 L1190.6 452.5 L1194.7 447.5 L1198.9 445.9 L1203 446.4 L1207.1 446.1 L1211.3 438.8 L1215.4 437.6 L1219.5 436.6 L1223.6 435 L1227.8 434.7 L1231.9 434.5 L1236 436.6 L1240.2 442.3 L1244.3 447.4 L1248.4 450.4 L1252.6 451.6 L1256.7 445.8 L1260.8 443.1 L1265 447 L1269.1 451.4 L1273.2 459.2 L1277.4 463.4 L1281.5 463.7 L1285.6 446.2 L1289.8 431.3 L1293.9 417.9 L1298 402.8 L1302.1 407.3 L1306.3 408.4 L1310.4 410.1 L1314.5 409.2 L1318.7 404.1 L1322.8 399.4 L1326.9 394.7 L1331.1 394.2 L1335.2 394.2 L1339.3 401.1 L1343.5 408.5 L1347.6 408.1 L1351.7 406.4 L1355.9 397.4 L1360 386.5 L1364.1 379.1 L1368.3 373.2 L1372.4 364.8 L1376.5 362.2 L1380.6 364.3 L1384.8 362.4 L1388.9 365 L1393 360.9 L1397.2 355.1 L1401.3 353.7 L1405.4 352.7 L1409.6 352.9 L1413.7 352.1 L1417.8 352.1 L1422 348.9 L1426.1 347.3 L1430.2 347.4 L1434.4 345.9 L1438.5 346.2 L1442.6 345.8 L1446.8 344 L1450.9 345.3 L1455 346.2 L1459.1 344.4 L1463.3 347.7 L1467.4 347.2 L1471.5 345.3 L1475.7 349.7 L1479.8 348.7 L1483.9 350.1 L1488.1 349.1 L1492.2 343.2 L1496.3 331 L1500.5 317.3 L1504.6 307.7 L1508.7 297.9 L1512.9 295.4 L1517 296.1 L1521.1 295.3 L1525.3 295.6 L1529.4 297.8 L1533.5 297.7 L1537.7 298.7 L1541.8 297.8 L1545.9 297.1 L1550 296.9 L1554.2 297 L1558.3 298.6 L1562.4 297.8 L1566.6 296.2 L1570.7 296.1 L1574.8 300.7 L1579 301.9 L1583.1 304.3 L1587.2 306 L1591.4 298.4 L1595.5 294 L1599.6 291.4 L1603.8 288.4 L1607.9 288.7 L1612 291.9 L1616.2 292.9 L1620.3 292.5 L1624.4 294.1 L1628.5 291.6 L1632.7 290.5 L1636.8 290.5 L1640.9 288.2 L1645.1 286.1 L1649.2 281.1 L1653.3 274.8 L1657.5 272 L1661.6 267.9 L1665.7 260.9 L1669.9 255.7 L1674 248.8 L1678.1 240.5 L1682.3 239.1 L1686.4 237.9 L1690.5 233.6 L1694.7 240.2 L1698.8 243.1 L1702.9 246.6 L1707 254.8 L1711.2 258.4 L1715.3 256.5 L1719.4 252 L1723.6 246.1 L1727.7 239.5 L1731.8 239.1 L1736 243.3 L1740.1 250.4 L1744.2 255.8 L1748.4 259.4 L1752.5 255.6 L1756.6 249.8 L1760.8 242.1 L1764.9 234.4 L1769 232.8 L1773.2 230.3" stroke="#ff55ff" stroke-width="1.2"/>
</g>
<g clip-path="url(#cm)">
<path d="M13.1 259.6 V296.2 M17.2 283 V326 M21.4 305 V321 M25.5 295.5 V313.8 M29.6 295.5 V307.7 M33.7 299.6 V310.4 M37.9 303 V311 M42 307 V314 M46.1 301 V315.2 M50.3 296 V304 M54.4 294.2 V307.7 M58.5 294.5 V300 M62.7 295 V310.4 M66.8 292 V302.5 M70.9 291.5 V297 M75.1 289 V296 M79.2 285 V297 M83.3 278 V291 M87.5 271 V282 M91.6 264.3 V277 M95.7 263.7 V283.3 M99.9 272 V296 M104 268.4 V296.2 M108.1 281.3 V323.3 M112.2 303 V336 M116.4 269 V309.7 M120.5 285.4 V312.4 M124.6 279.3 V301.4 M128.8 282.4 V292.2 M132.9 286.7 V293.4 M137 282.4 V292.2 M141.2 280 V288 M145.3 279.5 V285 M149.4 283 V290 M153.6 286 V296.5 M157.7 276.3 V295.3 M161.8 277.5 V295.3 M166 273.8 V287.9 M170.1 270.1 V277.5 M174.2 273.2 V283 M178.4 272 V303.2 M182.5 282.4 V304.5 M186.6 293.4 V305.7 M190.7 293.4 V305.1 M194.9 289.1 V305.1 M199 287.3 V305.1 M203.1 287.3 V332 M207.3 302.6 V329 M211.4 276.3 V305.1 M215.5 264 V283 M219.7 267 V279.3 M223.8 261 V275 M227.9 254.2 V266.5 M232.1 254.2 V260.3 M236.2 256 V264 M240.3 252 V259.5 M244.5 251.5 V261 M248.6 257 V265 M252.7 253 V261.5 M256.9 248 V271.6 M261 251.5 V266 M265.1 251.5 V265 M269.2 253.5 V260 M273.4 251.5 V264 M277.5 229.8 V267 M281.6 226.7 V246.3 M285.8 229.8 V244.2 M289.9 220 V241.6 M294 223.6 V239.6 M298.2 223.6 V242.2 M302.3 221.5 V237 M306.4 224.6 V250 M310.6 229.8 V246.3 M314.7 236 V255.6 M318.8 239 V253.5 M323 241.1 V256.6 M327.1 240.1 V251 M331.2 247 V263.5 M335.4 247.3 V261.5 M339.5 253.5 V265.4 M343.6 249.4 V259.2 M347.7 241.6 V254.6 M351.9 238 V247.3 M356 239.6 V248.4 M360.1 233.9 V255.6 M364.3 243.7 V256.6 M368.4 235 V253 M372.5 229.3 V243.2 M376.7 214.8 V238 M380.8 215.3 V233.9 M384.9 214 V230 M389.1 208 V224 M393.2 203.6 V223 M397.3 203.6 V220.4 M401.5 165.5 V217 M405.6 157.1 V180.3 M409.7 154.5 V177.8 M413.9 149.4 V164.9 M418 147.4 V159 M422.1 148 V155 M426.2 143.5 V168 M430.4 157.8 V168.7 M434.5 160 V169.5 M438.6 160 V166.5 M442.8 154.5 V161.6 M446.9 155.8 V169.4 M451 154.5 V184.9 M455.2 168.7 V185.5 M459.3 167.4 V180.3 M463.4 171.3 V189.4 M467.6 168.7 V187.4 M471.7 163.6 V183.6 M475.8 160.3 V179 M480 164.2 V179 M484.1 168.7 V184.2 M488.2 164.9 V175.2 M492.4 158.4 V178.4 M496.5 139.7 V164.9 M500.6 130 V185.5 M504.8 136 V185.5 M508.9 127 V143.3 M513 121 V133.8 M517.1 124.3 V136.5 M521.3 128.4 V136.5 M525.4 112.8 V131.7 M529.5 114.8 V120.2 M533.7 117.5 V124.3 M537.8 110.7 V122.3 M541.9 112 V125.7 M546.1 112 V129.7 M550.2 127 V137.8 M554.3 123.6 V135.8 M558.5 106.7 V133.8 M562.6 120.2 V130.4 M566.7 114.1 V131 M570.9 109.4 V126.3 M575 105.3 V136.5 M579.1 105 V133 M583.3 99.2 V113.5 M587.4 102 V114.8 M591.5 98.5 V116.8 M595.6 95.2 V114.1 M599.8 96.5 V126.3 M603.9 95.2 V120.9 M608 89 V123.6 M612.2 118.2 V148.7 M616.3 125 V140.6 M620.4 117.5 V129.7 M624.6 115 V124.5 M628.7 116.2 V125.7 M632.8 112.1 V122.9 M637 115.5 V125 M641.1 110 V121.6 M645.2 114.8 V125 M649.4 114 V143.3 M653.5 136.7 V160 M657.6 142.5 V179.7 M661.8 140.8 V154 M665.9 139.6 V157 M670 132.6 V160.5 M674.1 132.6 V151.2 M678.3 137.9 V150 M682.4 136.7 V158.8 M686.5 138.4 V149.5 M690.7 140.8 V157 M694.8 143 V191.3 M698.9 143.7 V190.7 M703.1 139 V154 M707.2 144.3 V158.8 M711.3 148.9 V164 M715.5 146.6 V165.7 M719.6 139.6 V152.4 M723.7 136.7 V145.4 M727.9 144.3 V153.5 M732 143 V150 M736.1 135.5 V150 M740.3 137.9 V143 M744.4 134.4 V143.7 M748.5 130.9 V146 M752.6 128.6 V146.6 M756.8 140.8 V157 M760.9 147.2 V162.8 M765 146 V160 M769.2 139.6 V161.7 M773.3 135.5 V152.4 M777.4 144.8 V175.6 M781.6 164.6 V179.7 M785.7 175.6 V192.4 M789.8 179.7 V200 M794 168 V189 M798.1 165 V180.3 M802.2 166.6 V234.4 M806.4 221.5 V281 M810.5 253.7 V271.5 M814.6 246.5 V257.7 M818.8 241.6 V252 M822.9 241.6 V258.5 M827 250.5 V259.4 M831.1 255.3 V270.6 M835.3 249.7 V266.6 M839.4 246.5 V256.9 M843.5 236.8 V252.9 M847.7 237.6 V253.7 M851.8 239.2 V254.5 M855.9 244 V255.3 M860.1 235.2 V253.7 M864.2 234.4 V245.6 M868.3 233.5 V249.7 M872.5 239.2 V256.9 M876.6 246.5 V261 M880.7 252.9 V264 M884.9 255.3 V265 M889 253.7 V276.3 M893.1 257 V287.6 M897.3 256 V286.8 M901.4 256.1 V265 M905.5 254.5 V262.6 M909.6 256 V272.3 M913.8 252.9 V273 M917.9 255.3 V263.4 M922 253.7 V260.2 M926.2 254.5 V258.5 M930.3 251.3 V259.4 M934.4 251.3 V255.3 M938.6 251.3 V266.6 M942.7 255.9 V270.4 M946.8 251.2 V265.7 M951 251.2 V265.7 M955.1 254.7 V265.7 M959.2 249.5 V262.8 M963.4 244.8 V266.9 M967.5 259.3 V287.8 M971.6 246.6 V269.2 M975.8 251.8 V259.9 M979.9 251.8 V263.4 M984 259.3 V271.5 M988.1 259.3 V275.6 M992.3 258.8 V276.2 M996.4 253.5 V280.8 M1000.5 237.3 V275.6 M1004.7 251.8 V264 M1008.8 248.3 V258.2 M1012.9 246.6 V255.9 M1017.1 251.8 V259.3 M1021.2 248.9 V258.8 M1025.3 247.2 V253.5 M1029.5 245.4 V253 M1033.6 248.3 V253.5 M1037.7 246 V252.4 M1041.9 250.6 V275.6 M1046 249.5 V269 M1050.1 248.3 V259.9 M1054.3 244.8 V254.7 M1058.4 244.8 V265.7 M1062.5 257 V271 M1066.6 258.8 V271.5 M1070.8 259.9 V272.7 M1074.9 258.8 V267.5 M1079 261 V278.5 M1083.2 275 V302.3 M1087.3 277.9 V305.2 M1091.4 297.5 V336.8 M1095.6 303 V323.7 M1099.7 312.4 V336.8 M1103.8 309.6 V324.6 M1108 310.6 V320 M1112.1 305 V387.3 M1116.2 384.5 V420 M1120.4 377 V409.7 M1124.5 380 V382 M1128.6 376 V385.4 M1132.8 377 V387.3 M1136.9 377 V394.8 M1141 376 V401.3 M1145.1 373.2 V398.5 M1149.3 369.5 V387.3 M1153.4 362 V375.1 M1157.5 362 V372.3 M1161.7 366 V382.6 M1165.8 372.3 V404.1 M1169.9 395.7 V406 M1174.1 400 V425.5 M1178.2 414.9 V490.9 M1182.3 444.7 V492.3 M1186.5 434 V454 M1190.6 419 V448.2 M1194.7 439.7 V463 M1198.9 439 V463.9 M1203 431.9 V452.5 M1207.1 434.7 V446.8 M1211.3 428.4 V443.3 M1215.4 430.5 V441.1 M1219.5 427.6 V436.9 M1223.6 426.2 V436.9 M1227.8 427 V439 M1231.9 426.9 V436.9 M1236 428.4 V443.3 M1240.2 432.6 V466 M1244.3 444 V461.7 M1248.4 439 V452.5 M1252.6 438.3 V451 M1256.7 431.9 V449 M1260.8 429 V449.7 M1265 441.1 V469.5 M1269.1 459.6 V475.2 M1273.2 455.3 V469.5 M1277.4 453.2 V468.8 M1281.5 452.5 V469.5 M1285.6 370.4 V472.4 M1289.8 371.2 V420.2 M1293.9 388.3 V416 M1298 399.6 V416 M1302.1 402.5 V425.2 M1306.3 407.4 V418.1 M1310.4 401 V414.5 M1314.5 394 V413.8 M1318.7 391.8 V401.7 M1322.8 393 V394 M1326.9 393 V394 M1331.1 389.7 V403.9 M1335.2 391.8 V400.3 M1339.3 391.8 V421.6 M1343.5 415.3 V437.3 M1347.6 396 V425.9 M1351.7 380.5 V399 M1355.9 382.6 V388.3 M1360 375.5 V389.7 M1364.1 362.7 V382.6 M1368.3 360.6 V377.6 M1372.4 347.8 V367 M1376.5 350.6 V371.2 M1380.6 364.1 V381.2 M1384.8 353.5 V379.7 M1388.9 352 V378.3 M1393 346.4 V367.7 M1397.2 336.4 V362.7 M1401.3 347 V362.7 M1405.4 346.4 V359.5 M1409.6 351.8 V363.4 M1413.7 347.5 V357.3 M1417.8 346.4 V352.4 M1422 342.5 V349.1 M1426.1 345 V347.2 M1430.2 346.4 V350.7 M1434.4 342.5 V351.8 M1438.5 340.9 V349.1 M1442.6 338.1 V351.8 M1446.8 336 V346.9 M1450.9 339.8 V349.1 M1455 345.8 V352.9 M1459.1 335.9 V357.3 M1463.3 338.7 V357.3 M1467.4 337 V356.2 M1471.5 329.9 V351.3 M1475.7 337 V357.3 M1479.8 343.6 V358.4 M1483.9 345.8 V358.4 M1488.1 329.9 V352.9 M1492.2 325 V343 M1496.3 289.3 V335.9 M1500.5 294.3 V312.4 M1504.6 294.3 V307.4 M1508.7 286 V302.5 M1512.9 289.3 V297.5 M1517 292 V302.5 M1521.1 291.3 V301.4 M1525.3 294 V298.5 M1529.4 296.7 V303.3 M1533.5 297.5 V301.4 M1537.7 295.5 V302.5 M1541.8 289 V303.3 M1545.9 290.9 V304.5 M1550 290.1 V300.6 M1554.2 290.9 V301.4 M1558.3 292 V304.5 M1562.4 286.3 V299.4 M1566.6 286.3 V304.5 M1570.7 287.4 V307.9 M1574.8 293.2 V316.1 M1579 294.4 V318.4 M1583.1 292 V307.5 M1587.2 296.3 V321.5 M1591.4 283.9 V314.5 M1595.5 282 V292.5 M1599.6 280 V305.6 M1603.8 286.3 V301.7 M1607.9 284.3 V297.5 M1612 285.5 V297.5 M1616.2 289.7 V299.4 M1620.3 292 V298.6 M1624.4 290.9 V297.5 M1628.5 284.3 V297.5 M1632.7 280 V292.5 M1636.8 282.3 V294.5 M1640.9 277.7 V296.2 M1645.1 270.1 V290.4 M1649.2 270.1 V281.1 M1653.3 264.3 V273.6 M1657.5 264.3 V277.7 M1661.6 257.3 V274.8 M1665.7 235.3 V265.5 M1669.9 241.1 V288.7 M1674 229.5 V259.7 M1678.1 219 V248.6 M1682.3 215 V244 M1686.4 219 V249.8 M1690.5 212.6 V250.4 M1694.7 226.6 V254.4 M1698.8 242.2 V255.6 M1702.9 237.6 V260.8 M1707 251.5 V262 M1711.2 255.6 V274.8 M1715.3 240 V270.7 M1719.4 237.6 V248 M1723.6 235.3 V241.7 M1727.7 232.4 V253.9 M1731.8 228.9 V248 M1736 237.6 V256 M1740.1 244.6 V280.6 M1744.2 253.9 V272.4 M1748.4 246.9 V271.3 M1752.5 240 V260.8 M1756.6 231.8 V251 M1760.8 224.3 V258.5 M1764.9 217.9 V245.7 M1769 216.7 V241.1 M1773.2 224.8 V242.8" stroke="#3333ff" stroke-width="1" fill="none"/>
<path d="M11.6 282.7 h3 V285.4 h-3 Z M15.7 288 h3 V318.5 h-3 Z M28.1 299 h3 V302.3 h-3 Z M32.2 303 h3 V305 h-3 Z M36.4 305 h3 V309.7 h-3 Z M40.5 309.7 h3 V312.4 h-3 Z M52.9 297.9 h3 V299.4 h-3 Z M61.2 297 h3 V301.6 h-3 Z M94.2 268.4 h3 V283.3 h-3 Z M102.5 273 h3 V294.2 h-3 Z M106.6 294.8 h3 V315.2 h-3 Z M127.3 284.2 h3 V291.6 h-3 Z M143.8 280.5 h3 V284.2 h-3 Z M147.9 283.6 h3 V289.1 h-3 Z M152.1 287.9 h3 V294 h-3 Z M160.3 278.7 h3 V286 h-3 Z M176.9 273.8 h3 V289.1 h-3 Z M181 286.7 h3 V300.8 h-3 Z M185.1 300.2 h3 V305.1 h-3 Z M201.6 290.4 h3 V325.9 h-3 Z M218.2 273.2 h3 V276.3 h-3 Z M234.7 256.6 h3 V260.3 h-3 Z M243 257.6 h3 V259.7 h-3 Z M247.1 258.7 h3 V261.3 h-3 Z M255.4 256 h3 V259.7 h-3 Z M263.6 252.5 h3 V257.6 h-3 Z M271.9 257 h3 V263.3 h-3 Z M280.1 232.7 h3 V234.2 h-3 Z M284.3 231.3 h3 V240.1 h-3 Z M292.5 225.1 h3 V238.5 h-3 Z M304.9 225.6 h3 V240.6 h-3 Z M309.1 240.6 h3 V242.2 h-3 Z M313.2 241.6 h3 V245.3 h-3 Z M317.3 245.8 h3 V249.4 h-3 Z M325.6 242.2 h3 V250.4 h-3 Z M329.7 247.3 h3 V262.8 h-3 Z M338 256.6 h3 V260.7 h-3 Z M354.5 241.6 h3 V244.7 h-3 Z M358.6 244.7 h3 V255 h-3 Z M395.8 207.4 h3 V212.6 h-3 Z M408.2 159.7 h3 V164.9 h-3 Z M424.7 149.4 h3 V166.8 h-3 Z M433 161.6 h3 V168.7 h-3 Z M445.4 157 h3 V161.6 h-3 Z M449.5 162.3 h3 V181.6 h-3 Z M457.8 170.7 h3 V173.9 h-3 Z M461.9 172 h3 V181 h-3 Z M474.3 170.7 h3 V177 h-3 Z M499.1 146.8 h3 V175.2 h-3 Z M515.6 125.7 h3 V130.4 h-3 Z M532.2 118.9 h3 V123.6 h-3 Z M540.4 118.9 h3 V125 h-3 Z M544.6 124.3 h3 V129.7 h-3 Z M548.7 127.7 h3 V134.5 h-3 Z M561.1 125.7 h3 V129 h-3 Z M573.5 114.1 h3 V131.7 h-3 Z M585.9 104 h3 V109.4 h-3 Z M598.3 101.3 h3 V106 h-3 Z M606.5 105.3 h3 V123.6 h-3 Z M610.7 121.6 h3 V139.2 h-3 Z M627.2 117.5 h3 V122.9 h-3 Z M647.9 116.8 h3 V139.9 h-3 Z M656.1 143.7 h3 V148.3 h-3 Z M672.6 139 h3 V150 h-3 Z M685 144.3 h3 V149 h-3 Z M689.2 146.4 h3 V147.9 h-3 Z M693.3 143.7 h3 V183.1 h-3 Z M701.6 147.7 h3 V153 h-3 Z M709.8 152.4 h3 V163.4 h-3 Z M726.4 144.7 h3 V146.2 h-3 Z M751.1 132.6 h3 V145.4 h-3 Z M755.3 145.4 h3 V153.5 h-3 Z M759.4 152.4 h3 V158.2 h-3 Z M771.8 144.3 h3 V148.3 h-3 Z M775.9 148.3 h3 V173.9 h-3 Z M780.1 170.4 h3 V177.9 h-3 Z M784.2 177.3 h3 V184.3 h-3 Z M796.6 172.3 h3 V177.1 h-3 Z M800.7 177.1 h3 V227.1 h-3 Z M804.9 229.5 h3 V269.8 h-3 Z M821.4 245.6 h3 V253.7 h-3 Z M825.5 253.7 h3 V257.7 h-3 Z M829.6 265.8 h3 V268.2 h-3 Z M842 247.3 h3 V252.9 h-3 Z M850.3 240 h3 V244 h-3 Z M854.4 246.5 h3 V254.5 h-3 Z M866.8 240 h3 V248.9 h-3 Z M871 248.7 h3 V250.2 h-3 Z M875.1 248 h3 V253.7 h-3 Z M879.2 253.7 h3 V261.8 h-3 Z M883.4 260.2 h3 V261.8 h-3 Z M887.5 258.5 h3 V265.8 h-3 Z M891.6 261.8 h3 V286.8 h-3 Z M908.1 258.5 h3 V267.4 h-3 Z M937.1 252.1 h3 V261.8 h-3 Z M949.5 253 h3 V260.5 h-3 Z M961.9 251.8 h3 V266.3 h-3 Z M966 264.6 h3 V266.3 h-3 Z M978.4 256.4 h3 V261.7 h-3 Z M982.5 260.5 h3 V271 h-3 Z M986.6 270.8 h3 V272.2 h-3 Z M999 258.8 h3 V260.5 h-3 Z M1011.4 250.6 h3 V254.7 h-3 Z M1015.6 253.5 h3 V257 h-3 Z M1040.4 252.4 h3 V268.6 h-3 Z M1056.9 251.8 h3 V264.6 h-3 Z M1061 263.4 h3 V265.2 h-3 Z M1065.1 264.6 h3 V266.3 h-3 Z M1073.4 261.7 h3 V263.4 h-3 Z M1077.5 262.3 h3 V277.3 h-3 Z M1081.7 276.2 h3 V280.2 h-3 Z M1085.8 279.7 h3 V298.2 h-3 Z M1089.9 299.3 h3 V313.4 h-3 Z M1094.1 308.7 h3 V317.1 h-3 Z M1098.2 318 h3 V321.8 h-3 Z M1110.6 316.2 h3 V386.3 h-3 Z M1114.7 385.4 h3 V406 h-3 Z M1127.1 381.7 h3 V384.5 h-3 Z M1139.5 380.7 h3 V393.8 h-3 Z M1147.8 375.1 h3 V377 h-3 Z M1156 365.8 h3 V368.6 h-3 Z M1160.2 367.6 h3 V372.3 h-3 Z M1164.3 374.2 h3 V400.4 h-3 Z M1168.4 398.5 h3 V405.6 h-3 Z M1172.6 402.8 h3 V422.7 h-3 Z M1176.7 422 h3 V482.3 h-3 Z M1189.1 436.2 h3 V444 h-3 Z M1193.2 443.3 h3 V462.4 h-3 Z M1205.6 436.9 h3 V442.6 h-3 Z M1213.9 434 h3 V436.2 h-3 Z M1222.1 434 h3 V436.2 h-3 Z M1230.4 431.9 h3 V435.5 h-3 Z M1234.5 434.7 h3 V442.6 h-3 Z M1238.7 441.8 h3 V458.9 h-3 Z M1259.3 434 h3 V441.8 h-3 Z M1263.5 441.8 h3 V463.2 h-3 Z M1267.6 463.9 h3 V465.4 h-3 Z M1280 460.3 h3 V464.6 h-3 Z M1288.3 395.4 h3 V407.4 h-3 Z M1300.6 405.3 h3 V413.1 h-3 Z M1329.6 396 h3 V398.2 h-3 Z M1337.8 392.5 h3 V420.9 h-3 Z M1342 419.5 h3 V422.4 h-3 Z M1375 351.3 h3 V368.4 h-3 Z M1379.1 369 h3 V375.5 h-3 Z M1387.4 354.2 h3 V362 h-3 Z M1403.9 348.6 h3 V357.9 h-3 Z M1424.6 345.3 h3 V346.9 h-3 Z M1428.7 348 h3 V349.6 h-3 Z M1437 343 h3 V345.8 h-3 Z M1449.4 344.2 h3 V347.5 h-3 Z M1453.5 346.9 h3 V349.6 h-3 Z M1461.8 339.8 h3 V355.7 h-3 Z M1474.2 342 h3 V355.7 h-3 Z M1503.1 296.5 h3 V299.7 h-3 Z M1515.5 292.6 h3 V298.6 h-3 Z M1527.9 297.9 h3 V301.4 h-3 Z M1536.2 297.9 h3 V300.6 h-3 Z M1544.4 292 h3 V298.6 h-3 Z M1552.7 297.1 h3 V301 h-3 Z M1569.2 290.9 h3 V300.6 h-3 Z M1573.3 299.8 h3 V315.7 h-3 Z M1585.7 299 h3 V307.5 h-3 Z M1598.1 284.3 h3 V290.5 h-3 Z M1602.3 292 h3 V295.5 h-3 Z M1610.5 287 h3 V295.2 h-3 Z M1631.2 285.5 h3 V290.5 h-3 Z M1635.3 289.3 h3 V293.9 h-3 Z M1656 268.4 h3 V272.4 h-3 Z M1668.4 241.7 h3 V247.5 h-3 Z M1680.8 225.4 h3 V237 h-3 Z M1684.9 237 h3 V242.8 h-3 Z M1693.2 234.1 h3 V253.9 h-3 Z M1701.4 248.6 h3 V256.8 h-3 Z M1705.5 256.2 h3 V259.7 h-3 Z M1709.7 258.5 h3 V268.4 h-3 Z M1726.2 240.9 h3 V242.4 h-3 Z M1734.5 238.8 h3 V255.6 h-3 Z M1738.6 254.4 h3 V264.3 h-3 Z M1767.5 224.3 h3 V234.1 h-3 Z" fill="#3333ff"/>
<path d="M20.4 308.9 h2 V317.4 h-2 Z M24.5 300.1 h2 V307.2 h-2 Z M45.1 304.1 h2 V311.9 h-2 Z M49.3 299.5 h2 V303.1 h-2 Z M57.5 297 h2 V298 h-2 Z M65.8 296.5 h2 V301.1 h-2 Z M69.9 294.5 h2 V295.5 h-2 Z M74.1 292.5 h2 V294.3 h-2 Z M78.2 287.2 h2 V293 h-2 Z M82.3 281.8 h2 V287.5 h-2 Z M86.5 277.1 h2 V280.8 h-2 Z M90.6 269.5 h2 V276.1 h-2 Z M98.9 273.5 h2 V280.8 h-2 Z M111.2 306.2 h2 V314.7 h-2 Z M115.4 302.1 h2 V305.9 h-2 Z M119.5 300 h2 V301 h-2 Z M123.6 284.7 h2 V300.3 h-2 Z M131.9 289.9 h2 V290.9 h-2 Z M136 287.8 h2 V289.9 h-2 Z M140.2 281 h2 V286.8 h-2 Z M156.7 281 h2 V293.5 h-2 Z M165 275.5 h2 V286.2 h-2 Z M169.1 274.5 h2 V275.5 h-2 Z M173.2 274.5 h2 V275.5 h-2 Z M189.7 298.8 h2 V304 h-2 Z M193.9 301.5 h2 V302.5 h-2 Z M198 292.7 h2 V304 h-2 Z M206.3 303.7 h2 V320.5 h-2 Z M210.4 278.6 h2 V303.3 h-2 Z M214.5 276.1 h2 V278.8 h-2 Z M222.8 264.5 h2 V273.9 h-2 Z M226.9 260.8 h2 V262.3 h-2 Z M231.1 256.1 h2 V257.1 h-2 Z M239.3 254 h2 V258.7 h-2 Z M251.7 255.5 h2 V260.2 h-2 Z M260 256.1 h2 V257.1 h-2 Z M268.2 256 h2 V257 h-2 Z M276.5 236 h2 V261.8 h-2 Z M288.9 228.7 h2 V240.1 h-2 Z M297.2 227.2 h2 V234.5 h-2 Z M301.3 226.7 h2 V227.7 h-2 Z M322 243.2 h2 V252 h-2 Z M334.4 254 h2 V260.8 h-2 Z M342.6 250.4 h2 V256.1 h-2 Z M346.7 243.2 h2 V248.9 h-2 Z M350.9 241.1 h2 V242.1 h-2 Z M363.3 252 h2 V254.1 h-2 Z M367.4 241.1 h2 V251.5 h-2 Z M371.5 233.9 h2 V241.1 h-2 Z M375.7 228.7 h2 V235.5 h-2 Z M379.8 220 h2 V226.7 h-2 Z M383.9 217 h2 V218.5 h-2 Z M388.1 215.3 h2 V216.3 h-2 Z M392.2 208.5 h2 V215.3 h-2 Z M400.5 177 h2 V214.7 h-2 Z M404.6 162.8 h2 V179.2 h-2 Z M412.9 152.5 h2 V160.5 h-2 Z M417 152.1 h2 V153.1 h-2 Z M421.1 149.9 h2 V154 h-2 Z M429.4 163.5 h2 V165.5 h-2 Z M437.6 162.1 h2 V165.5 h-2 Z M441.8 158.3 h2 V160.5 h-2 Z M454.2 171.8 h2 V179.2 h-2 Z M466.6 176.5 h2 V177.5 h-2 Z M470.7 169.9 h2 V179.8 h-2 Z M479 172.5 h2 V175.3 h-2 Z M483.1 174 h2 V175 h-2 Z M487.2 172.5 h2 V174 h-2 Z M491.4 160.2 h2 V172.1 h-2 Z M495.5 145.3 h2 V160.5 h-2 Z M503.8 138.2 h2 V185 h-2 Z M507.9 128.9 h2 V137.3 h-2 Z M512 125.5 h2 V129.9 h-2 Z M520.3 129.5 h2 V131.2 h-2 Z M524.4 120.7 h2 V129.9 h-2 Z M528.5 117 h2 V118 h-2 Z M536.8 118 h2 V119.7 h-2 Z M553.3 128.9 h2 V131.9 h-2 Z M557.5 126.8 h2 V127.9 h-2 Z M565.7 121.4 h2 V127.2 h-2 Z M569.9 114 h2 V120.4 h-2 Z M578.1 107.2 h2 V131.9 h-2 Z M582.3 103.8 h2 V108.9 h-2 Z M590.5 107.9 h2 V108.9 h-2 Z M594.6 101.8 h2 V106.2 h-2 Z M602.9 104.5 h2 V105.5 h-2 Z M615.3 126.2 h2 V140.1 h-2 Z M619.4 124.8 h2 V129.2 h-2 Z M623.6 117.3 h2 V123.1 h-2 Z M631.8 119.4 h2 V121.1 h-2 Z M636 118 h2 V121.8 h-2 Z M640.1 117.7 h2 V118.7 h-2 Z M644.2 117.7 h2 V118.7 h-2 Z M652.5 142 h2 V143 h-2 Z M660.8 144.2 h2 V150.1 h-2 Z M664.9 146.1 h2 V147.1 h-2 Z M669 139.5 h2 V147.2 h-2 Z M677.3 143.5 h2 V149 h-2 Z M681.4 142.5 h2 V143.5 h-2 Z M697.9 151.7 h2 V182.6 h-2 Z M706.2 151.9 h2 V152.9 h-2 Z M714.5 151.1 h2 V164.1 h-2 Z M718.6 144.2 h2 V151.3 h-2 Z M722.7 142.5 h2 V143.5 h-2 Z M731 144.2 h2 V145.5 h-2 Z M735.1 142.5 h2 V147.2 h-2 Z M739.3 140.8 h2 V141.8 h-2 Z M743.4 138.4 h2 V139.7 h-2 Z M747.5 132.5 h2 V136.8 h-2 Z M764 156.5 h2 V157.5 h-2 Z M768.2 144.2 h2 V154.2 h-2 Z M788.8 182.9 h2 V183.9 h-2 Z M793 169.7 h2 V182.1 h-2 Z M809.5 256.6 h2 V266.9 h-2 Z M813.6 247.8 h2 V256.4 h-2 Z M817.8 244.5 h2 V249.2 h-2 Z M834.3 252.6 h2 V265.3 h-2 Z M838.4 249.4 h2 V252.4 h-2 Z M846.7 239.7 h2 V251.6 h-2 Z M859.1 239.7 h2 V253.2 h-2 Z M863.2 239.5 h2 V240.5 h-2 Z M896.3 265.5 h2 V284.7 h-2 Z M900.4 258.2 h2 V264.5 h-2 Z M904.5 257.2 h2 V258.2 h-2 Z M912.8 262.3 h2 V267.7 h-2 Z M916.9 257.2 h2 V258.2 h-2 Z M921 255.8 h2 V258 h-2 Z M925.2 255.5 h2 V256.5 h-2 Z M929.3 252.6 h2 V254.8 h-2 Z M933.4 252.4 h2 V253.4 h-2 Z M941.7 261.2 h2 V262.2 h-2 Z M945.8 252.3 h2 V261.8 h-2 Z M954.1 258.8 h2 V259.8 h-2 Z M958.2 253.5 h2 V261.2 h-2 Z M970.6 256.9 h2 V268.1 h-2 Z M974.8 255.4 h2 V256.4 h-2 Z M991.3 266.8 h2 V271 h-2 Z M995.4 258.1 h2 V265.2 h-2 Z M1003.7 256.4 h2 V258.8 h-2 Z M1007.8 250.5 h2 V255.9 h-2 Z M1020.2 250 h2 V256.5 h-2 Z M1024.3 247.8 h2 V248.8 h-2 Z M1028.5 248.4 h2 V249.4 h-2 Z M1032.6 248.4 h2 V249.4 h-2 Z M1036.7 249 h2 V250 h-2 Z M1045 255.8 h2 V268.1 h-2 Z M1049.1 250 h2 V253.6 h-2 Z M1053.3 251.3 h2 V252.3 h-2 Z M1069.8 261.6 h2 V266.4 h-2 Z M1102.8 311.1 h2 V323.2 h-2 Z M1107 314.7 h2 V315.7 h-2 Z M1119.4 383.1 h2 V407.4 h-2 Z M1123.5 380.2 h2 V381.2 h-2 Z M1131.8 378.4 h2 V383 h-2 Z M1135.9 377.4 h2 V378.4 h-2 Z M1144.1 375.6 h2 V392.4 h-2 Z M1152.4 365.3 h2 V372.7 h-2 Z M1181.3 448 h2 V481.1 h-2 Z M1185.5 436.7 h2 V444.9 h-2 Z M1197.9 441.6 h2 V462.7 h-2 Z M1202 438.8 h2 V442.8 h-2 Z M1210.3 433.8 h2 V442.1 h-2 Z M1218.5 434.2 h2 V435.2 h-2 Z M1226.8 432.1 h2 V433.1 h-2 Z M1243.3 453 h2 V459.1 h-2 Z M1247.4 448 h2 V449.2 h-2 Z M1251.6 448 h2 V449.9 h-2 Z M1255.7 436 h2 V447 h-2 Z M1272.2 466.9 h2 V467.9 h-2 Z M1276.4 458.7 h2 V463.4 h-2 Z M1284.6 395.5 h2 V464.8 h-2 Z M1292.9 404.8 h2 V405.8 h-2 Z M1297 404.4 h2 V406.9 h-2 Z M1305.3 412.2 h2 V415.5 h-2 Z M1309.4 411.9 h2 V412.9 h-2 Z M1313.5 400.8 h2 V412.6 h-2 Z M1317.7 393 h2 V400.5 h-2 Z M1321.8 393 h2 V394 h-2 Z M1325.9 393 h2 V394 h-2 Z M1334.2 393 h2 V398.4 h-2 Z M1346.6 397.3 h2 V424 h-2 Z M1350.7 385.9 h2 V396.3 h-2 Z M1354.9 384.9 h2 V385.9 h-2 Z M1359 379.5 h2 V383.5 h-2 Z M1363.1 367.5 h2 V380.7 h-2 Z M1367.3 362.5 h2 V365 h-2 Z M1371.4 351.8 h2 V361.5 h-2 Z M1383.8 354.7 h2 V377.1 h-2 Z M1392 352.5 h2 V366.5 h-2 Z M1396.2 352.3 h2 V353.3 h-2 Z M1400.3 349 h2 V352.3 h-2 Z M1408.6 353.5 h2 V355.2 h-2 Z M1412.7 349.6 h2 V353 h-2 Z M1416.8 348.6 h2 V349.6 h-2 Z M1421 345 h2 V346 h-2 Z M1433.4 343 h2 V351.3 h-2 Z M1441.6 345.3 h2 V346.3 h-2 Z M1445.8 343 h2 V344.8 h-2 Z M1458.1 338.6 h2 V350.8 h-2 Z M1466.4 345.8 h2 V354.6 h-2 Z M1470.5 342.5 h2 V345.3 h-2 Z M1478.8 351.9 h2 V352.9 h-2 Z M1482.9 351 h2 V352 h-2 Z M1487.1 338.6 h2 V351.9 h-2 Z M1491.2 332.6 h2 V339.8 h-2 Z M1495.3 303.5 h2 V331.1 h-2 Z M1499.5 296.4 h2 V301.4 h-2 Z M1507.7 293.7 h2 V299.8 h-2 Z M1511.9 292.7 h2 V293.7 h-2 Z M1520.1 297 h2 V298 h-2 Z M1524.3 294.9 h2 V297.8 h-2 Z M1532.5 298.8 h2 V300.9 h-2 Z M1540.8 291.4 h2 V300.1 h-2 Z M1549 298 h2 V300.1 h-2 Z M1557.3 298 h2 V300.9 h-2 Z M1561.4 295.7 h2 V298.9 h-2 Z M1565.6 291.8 h2 V293.1 h-2 Z M1578 300.3 h2 V316.3 h-2 Z M1582.1 301.5 h2 V306.5 h-2 Z M1590.4 285.6 h2 V307.8 h-2 Z M1594.5 282.9 h2 V286.9 h-2 Z M1606.9 286.8 h2 V296.6 h-2 Z M1615.2 294.7 h2 V295.7 h-2 Z M1619.3 293.9 h2 V294.9 h-2 Z M1623.4 292.9 h2 V293.9 h-2 Z M1627.5 285.6 h2 V293.9 h-2 Z M1639.9 284 h2 V293.4 h-2 Z M1644.1 277 h2 V283 h-2 Z M1648.2 271.2 h2 V277.2 h-2 Z M1652.3 268.8 h2 V269.8 h-2 Z M1660.6 260.7 h2 V273.7 h-2 Z M1664.7 243.3 h2 V258.6 h-2 Z M1673 244.9 h2 V245.9 h-2 Z M1677.1 227.7 h2 V247 h-2 Z M1689.5 227.7 h2 V244.7 h-2 Z M1697.8 249.1 h2 V252.2 h-2 Z M1714.3 241.6 h2 V267.3 h-2 Z M1718.4 239.3 h2 V242.9 h-2 Z M1722.6 236.4 h2 V237.7 h-2 Z M1730.8 239.8 h2 V242.3 h-2 Z M1743.2 263.8 h2 V264.8 h-2 Z M1747.4 254.4 h2 V262.6 h-2 Z M1751.5 241 h2 V252.8 h-2 Z M1755.6 241.6 h2 V242.9 h-2 Z M1759.8 233.5 h2 V238.3 h-2 Z M1763.9 223.6 h2 V231.3 h-2 Z M1772.2 231.5 h2 V233 h-2 Z" fill="#ffffff" fill-opacity="0.5" stroke="#3333ff" stroke-width="1"/>
</g>
<clipPath id="cr"><rect x="10" y="537" width="1831.5" height="113"/></clipPath>
<g clip-path="url(#cr)" fill="none" stroke-linejoin="round">
<path d="M10 603.5 L12 604 L14 604.6 L16 605.1 L18 605.7 L20 606.2 L22 606.8 L24 607.4 L26 607.9 L28 608.5 L30 609.1 L32 609.7 L34 610.3 L36 610.9 L38 611.5 L40 612.1 L42 612.6 L44 613.1 L46 613.5 L48 613.9 L50 614.3 L52 614.7 L54 615.1 L56 615.4 L58 615.6 L60 615.7 L62 615.6 L64 615.3 L66 614.9 L68 614.2 L70 613.3 L72 612.3 L74 611.2 L76 610.1 L78 609 L80 607.9 L82 606.8 L84 605.7 L86 604.5 L88 603.3 L90 602.1 L92 600.9 L94 599.7 L96 598.6 L98 597.5 L100 596.8 L102 596.3 L104 596.1 L106 596 L108 596 L110 596 L112 596 L114 596 L116 595.9 L118 595.8 L120 595.7 L122 595.5 L124 595.3 L126 595.1 L128 594.9 L130 594.7 L132 594.6 L134 594.5 L136 594.6 L138 594.8 L140 595 L142 595.2 L144 595.4 L146 595.6 L148 595.8 L150 596.1 L152 596.4 L154 596.7 L156 596.9 L158 597 L160 596.8 L162 596.3 L164 595.7 L166 595.1 L168 594.4 L170 593.7 L172 593.1 L174 592.7 L176 592.5 L178 592.7 L180 593.1 L182 593.6 L184 594.1 L186 594.6 L188 595.2 L190 595.7 L192 596.2 L194 596.8 L196 597.3 L198 597.7 L200 598.1 L202 598.2 L204 598.2 L206 598.2 L208 598.1 L210 598 L212 597.9 L214 597.8 L216 597.6 L218 597.5 L220 597.3 L222 597.1 L224 596.9 L226 596.7 L228 596.5 L230 596.3 L232 596 L234 595.5 L236 594.7 L238 593.8 L240 592.9 L242 591.9 L244 590.9 L246 589.9 L248 588.9 L250 588.1 L252 587.4 L254 586.8 L256 586.2 L258 585.7 L260 585.2 L262 584.7 L264 584.2 L266 583.8 L268 583.5 L270 583.2 L272 583 L274 582.8 L276 582.6 L278 582.4 L280 582.2 L282 582.1 L284 582 L286 582 L288 582 L290 582.1 L292 582.2 L294 582.3 L296 582.4 L298 582.5 L300 582.7 L302 582.9 L304 583.1 L306 583.4 L308 583.7 L310 584 L312 584.3 L314 584.6 L316 585 L318 585.4 L320 585.9 L322 586.4 L324 586.9 L326 587.4 L328 587.9 L330 588.4 L332 589 L334 589.5 L336 590.1 L338 590.7 L340 591.3 L342 591.9 L344 592.5 L346 593.1 L348 593.7 L350 594.2 L352 594.7 L354 595.2 L356 595.6 L358 596.1 L360 596.5 L362 596.8 L364 597 L366 596.9 L368 596.5 L370 596 L372 595.4 L374 594.8 L376 594.1 L378 593.5 L380 592.8 L382 592.1 L384 591.2 L386 590.2 L388 589.1 L390 587.9 L392 586.7 L394 585.5 L396 584.3 L398 583.2 L400 582 L402 580.9 L404 579.9 L406 578.9 L408 577.9 L410 576.9 L412 575.9 L414 574.9 L416 573.9 L418 572.9 L420 571.9 L422 570.9 L424 570 L426 569.3 L428 568.9 L430 568.7 L432 568.7 L434 568.7 L436 568.8 L438 568.9 L440 569.1 L442 569.3 L444 569.6 L446 570.1 L448 570.7 L450 571.3 L452 572 L454 572.7 L456 573.4 L458 574.3 L460 575.3 L462 576.4 L464 577.6 L466 578.9 L468 580.2 L470 581.5 L472 582.8 L474 584 L476 585.2 L478 586.3 L480 587.3 L482 588.2 L484 588.9 L486 589.4 L488 589.7 L490 589.9 L492 590.1 L494 590.3 L496 590.5 L498 590.6 L500 590.6 L502 590.4 L504 590 L506 589.6 L508 589.1 L510 588.6 L512 588.1 L514 587.6 L516 587.1 L518 586.6 L520 586.2 L522 585.8 L524 585.4 L526 585 L528 584.6 L530 584.2 L532 583.8 L534 583.4 L536 583 L538 582.7 L540 582.3 L542 582.1 L544 582 L546 582 L548 582.1 L550 582.2 L552 582.3 L554 582.4 L556 582.5 L558 582.6 L560 582.7 L562 582.8 L564 582.9 L566 583.1 L568 583.2 L570 583.4 L572 583.5 L574 583.6 L576 583.8 L578 583.9 L580 584 L582 584.2 L584 584.3 L586 584.5 L588 584.6 L590 584.8 L592 585 L594 585.2 L596 585.3 L598 585.5 L600 585.7 L602 585.9 L604 586.1 L606 586.4 L608 586.8 L610 587.1 L612 587.5 L614 587.9 L616 588.3 L618 588.7 L620 589.1 L622 589.5 L624 589.9 L626 590.3 L628 590.7 L630 591.1 L632 591.5 L634 591.8 L636 592.1 L638 592.4 L640 592.7 L642 593.1 L644 593.6 L646 594.3 L648 595.2 L650 596.2 L652 597.2 L654 598.3 L656 599.4 L658 600.5 L660 601.4 L662 602.1 L664 602.7 L666 603 L668 603.2 L670 603.4 L672 603.6 L674 603.9 L676 604.1 L678 604.4 L680 604.7 L682 605.1 L684 605.6 L686 606 L688 606.5 L690 606.9 L692 607.4 L694 607.9 L696 608.3 L698 608.6 L700 608.7 L702 608.6 L704 608.3 L706 607.8 L708 607.3 L710 606.8 L712 606.3 L714 605.8 L716 605.3 L718 604.8 L720 604.3 L722 603.8 L724 603.4 L726 602.9 L728 602.5 L730 602 L732 601.6 L734 601.1 L736 600.7 L738 600.2 L740 599.7 L742 599.1 L744 598.5 L746 597.8 L748 597.1 L750 596.4 L752 595.9 L754 595.6 L756 595.5 L758 595.6 L760 595.9 L762 596.1 L764 596.4 L766 596.6 L768 596.9 L770 597.1 L772 597.3 L774 597.6 L776 598 L778 598.5 L780 599 L782 599.7 L784 600.3 L786 600.9 L788 601.5 L790 602.1 L792 602.8 L794 603.5 L796 604.2 L798 605.2 L800 606.3 L802 607.5 L804 608.8 L806 610 L808 611 L810 611.9 L812 612.6 L814 613.1 L816 613.7 L818 614.2 L820 614.8 L822 615.4 L824 616.1 L826 616.8 L828 617.6 L830 618.3 L832 618.7 L834 618.8 L836 618.7 L838 618.5 L840 618.2 L842 617.9 L844 617.7 L846 617.4 L848 617.2 L850 616.9 L852 616.7 L854 616.3 L856 615.8 L858 615.1 L860 614.3 L862 613.5 L864 612.7 L866 611.9 L868 611.1 L870 610.5 L872 609.9 L874 609.5 L876 609.2 L878 608.9 L880 608.6 L882 608.4 L884 608.1 L886 607.9 L888 607.7 L890 607.6 L892 607.6 L894 607.6 L896 607.6 L898 607.6 L900 607.5 L902 607.5 L904 607.4 L906 607.2 L908 607.1 L910 607 L912 606.9 L914 606.7 L916 606.6 L918 606.5 L920 606.3 L922 606.1 L924 605.9 L926 605.6 L928 605.1 L930 604.6 L932 604.1 L934 603.6 L936 603.1 L938 602.5 L940 602 L942 601.4 L944 600.9 L946 600.4 L948 599.9 L950 599.6 L952 599.3 L954 599.1 L956 599 L958 598.9 L960 598.8 L962 598.7 L964 598.6 L966 598.5 L968 598.4 L970 598.4 L972 598.3 L974 598.2 L976 598.3 L978 598.4 L980 598.5 L982 598.6 L984 598.8 L986 598.9 L988 599.1 L990 599.2 L992 599.4 L994 599.5 L996 599.7 L998 599.7 L1000 599.7 L1002 599.5 L1004 599.2 L1006 598.9 L1008 598.5 L1010 598.1 L1012 597.7 L1014 597.3 L1016 596.9 L1018 596.5 L1020 596 L1022 595.5 L1024 595 L1026 594.5 L1028 594 L1030 593.5 L1032 593.1 L1034 592.7 L1036 592.4 L1038 592.2 L1040 592 L1042 591.8 L1044 591.6 L1046 591.4 L1048 591.3 L1050 591.4 L1052 591.5 L1054 591.8 L1056 592.2 L1058 592.7 L1060 593.1 L1062 593.5 L1064 593.9 L1066 594.4 L1068 594.8 L1070 595.3 L1072 595.9 L1074 596.6 L1076 597.6 L1078 598.6 L1080 599.8 L1082 601 L1084 602.2 L1086 603.3 L1088 604.5 L1090 605.7 L1092 606.9 L1094 608.1 L1096 609.3 L1098 610.4 L1100 611.6 L1102 612.7 L1104 613.8 L1106 614.9 L1108 616 L1110 617.1 L1112 618.2 L1114 619.3 L1116 620.2 L1118 621 L1120 621.6 L1122 622.1 L1124 622.6 L1126 623.1 L1128 623.5 L1130 624 L1132 624.4 L1134 624.9 L1136 625.2 L1138 625.3 L1140 625.1 L1142 624.6 L1144 624 L1146 623.3 L1148 622.5 L1150 621.8 L1152 621 L1154 620.3 L1156 619.6 L1158 619 L1160 618.5 L1162 618.1 L1164 617.7 L1166 617.4 L1168 617.1 L1170 616.8 L1172 616.5 L1174 616.3 L1176 616 L1178 615.8 L1180 615.6 L1182 615.4 L1184 615.2 L1186 614.9 L1188 614.8 L1190 614.6 L1192 614.4 L1194 614.2 L1196 614 L1198 613.8 L1200 613.6 L1202 613.6 L1204 613.5 L1206 613.5 L1208 613.5 L1210 613.5 L1212 613.5 L1214 613.4 L1216 613.1 L1218 612.7 L1220 612.1 L1222 611.4 L1224 610.6 L1226 609.8 L1228 609 L1230 608.2 L1232 607.5 L1234 607 L1236 606.6 L1238 606.3 L1240 606.1 L1242 605.9 L1244 605.7 L1246 605.4 L1248 605.2 L1250 605 L1252 604.8 L1254 604.7 L1256 604.6 L1258 604.6 L1260 604.7 L1262 604.9 L1264 605.2 L1266 605.4 L1268 605.7 L1270 606 L1272 606.3 L1274 606.4 L1276 606.3 L1278 606.1 L1280 605.7 L1282 605.2 L1284 604.6 L1286 603.8 L1288 603 L1290 602.1 L1292 601.2 L1294 600.3 L1296 599.5 L1298 598.6 L1300 597.8 L1302 597 L1304 596.3 L1306 595.6 L1308 594.9 L1310 594.2 L1312 593.5 L1314 592.8 L1316 591.9 L1318 591 L1320 590 L1322 589 L1324 587.9 L1326 586.8 L1328 585.7 L1330 584.7 L1332 583.9 L1334 583.4 L1336 583.2 L1338 583.3 L1340 583.5 L1342 583.8 L1344 584 L1346 584 L1348 584 L1350 583.9 L1352 583.8 L1354 583.6 L1356 583.5 L1358 583.3 L1360 583.1 L1362 583 L1364 582.8 L1366 582.7 L1368 582.6 L1370 582.5 L1372 582.4 L1374 582.3 L1376 582.2 L1378 582.1 L1380 582 L1382 581.8 L1384 581.6 L1386 581.4 L1388 581.1 L1390 580.8 L1392 580.5 L1394 580.2 L1396 580 L1398 579.7 L1400 579.5 L1402 579.5 L1404 579.5 L1406 579.5 L1408 579.6 L1410 579.7 L1412 579.8 L1414 579.9 L1416 580 L1418 580.2 L1420 580.3 L1422 580.5 L1424 580.8 L1426 581 L1428 581.2 L1430 581.4 L1432 581.6 L1434 581.8 L1436 581.9 L1438 582 L1440 582.1 L1442 582.2 L1444 582.3 L1446 582.4 L1448 582.5 L1450 582.7 L1452 582.9 L1454 583.1 L1456 583.4 L1458 583.7 L1460 584 L1462 584.3 L1464 584.6 L1466 584.9 L1468 585.3 L1470 585.6 L1472 586.1 L1474 586.5 L1476 586.9 L1478 587.3 L1480 587.8 L1482 588.2 L1484 588.5 L1486 588.8 L1488 588.8 L1490 588.7 L1492 588.4 L1494 588 L1496 587.6 L1498 587.2 L1500 586.8 L1502 586.3 L1504 585.7 L1506 585.1 L1508 584.5 L1510 583.9 L1512 583.3 L1514 582.6 L1516 582 L1518 581.4 L1520 580.8 L1522 580.2 L1524 579.6 L1526 579 L1528 578.4 L1530 577.8 L1532 577.1 L1534 576.5 L1536 575.9 L1538 575.4 L1540 574.9 L1542 574.6 L1544 574.6 L1546 574.7 L1548 574.9 L1550 575.2 L1552 575.7 L1554 576.2 L1556 576.8 L1558 577.4 L1560 578 L1562 578.6 L1564 579.2 L1566 579.9 L1568 580.6 L1570 581.4 L1572 582.2 L1574 583 L1576 583.9 L1578 584.7 L1580 585.5 L1582 586.4 L1584 587.1 L1586 587.8 L1588 588.2 L1590 588.5 L1592 588.7 L1594 588.9 L1596 589 L1598 589.2 L1600 589.4 L1602 589.6 L1604 589.9 L1606 590.2 L1608 590.5 L1610 590.8 L1612 591.1 L1614 591.4 L1616 591.7 L1618 592 L1620 592.3 L1622 592.5 L1624 592.7 L1626 592.6 L1628 592.4 L1630 592.1 L1632 591.7 L1634 591.3 L1636 590.9 L1638 590.5 L1640 590.1 L1642 589.7 L1644 589.3 L1646 589.1 L1648 588.8 L1650 588.6 L1652 588.3 L1654 588.1 L1656 587.8 L1658 587.4 L1660 586.8 L1662 586.1 L1664 585.3 L1666 584.5 L1668 583.6 L1670 582.8 L1672 581.9 L1674 581.1 L1676 580.2 L1678 579.5 L1680 578.8 L1682 578.2 L1684 577.8 L1686 577.4 L1688 577.1 L1690 576.8 L1692 576.6 L1694 576.6 L1696 576.6 L1698 576.8 L1700 577.1 L1702 577.7 L1704 578.4 L1706 579.2 L1708 580 L1710 580.9 L1712 581.6 L1714 582.3 L1716 582.9 L1718 583.4 L1720 584 L1722 584.5 L1724 585.1 L1726 585.6 L1728 586.2 L1730 586.9 L1732 587.6 L1734 588.4 L1736 589.3 L1738 590.2 L1740 591.1 L1742 592 L1744 592.8 L1746 593.4 L1748 593.8 L1750 594 L1752 593.9 L1754 593.8 L1756 593.7 L1758 593.5 L1760 593.2 L1762 592.9 L1764 592.4 L1766 592 L1768 591.5 L1770 591 L1772 590.7 L1772.1 590.4" stroke="#3a8a6e" stroke-width="2.2"/>
<path d="M10 611.8 L16.7 620.2 L25 611 L41.8 615.2 L48.4 608.5 L61.8 606.8 L73.5 601.8 L91 588.4 L95.2 597.6 L99.4 592.6 L107.7 610 L120.3 601.8 L123.6 594.3 L132 597.6 L140.3 592.6 L152.8 598.5 L157 591.8 L167 590 L174.5 591 L182 603.5 L190.4 602.6 L193.7 605 L198.7 598.5 L203 611.8 L209.6 591 L218.8 590 L232.2 584.3 L238.8 583.4 L247.2 587.6 L267.2 588.4 L273 591.8 L276.4 579.3 L281.4 577.6 L284.8 583.4 L289 577.6 L294 584.3 L300 580 L305.8 589.3 L318.4 593.4 L322.5 591.8 L330 601.8 L334.2 596.8 L339.2 598.5 L348.4 590 L355 592.6 L359.3 598.5 L364.3 597.6 L371 586.8 L380.2 580 L392.7 575 L396.8 579.3 L402.7 565.9 L408.5 566.7 L415.2 564.7 L421.9 564.7 L424.4 575 L433.6 577.6 L442 575 L446.1 579.3 L450.3 591.8 L458.7 588.4 L463.7 592.6 L471.2 586.8 L475.4 591 L488.7 591 L495.4 578.4 L499.6 594.3 L504.6 582.6 L517 581.8 L524.6 578.4 L535.5 581 L548.8 587.6 L561.4 586.8 L569.7 580 L574.7 592.6 L579 581.8 L594.8 581.8 L604 584.3 L607.5 596.8 L611.7 601.8 L615.9 596.8 L625 592.6 L629.2 595 L635 592.6 L644.2 593.4 L648.4 603.5 L656.8 607.6 L665 606 L670 601.8 L674.3 606 L678.5 602.6 L686 606 L690.2 603.5 L695.2 616.8 L698.5 601.8 L706.9 601.8 L710.2 605 L715.2 599.3 L719.4 596 L726.9 597.6 L733.6 595 L740.3 595 L747.8 590 L752 597.6 L760.3 604.3 L765.3 604.3 L768.6 594.3 L772.8 599.3 L777 608.5 L784.5 613.5 L790.4 611.8 L794.6 603.5 L798.7 606.8 L805.4 628.5 L810.4 623.5 L817 616.8 L830.4 621 L833.7 616.8 L840.5 611.8 L847.2 606.8 L854.6 611 L859.7 603.5 L867.2 606.8 L880.5 611 L887.2 612.6 L892.2 618.5 L896.4 606 L900.6 603.5 L909.2 606.8 L921.7 601 L934.2 598.5 L940 603.5 L946 598.5 L950 601.8 L958.4 596.8 L962.6 603.5 L966.8 603.5 L971 595 L974.3 596 L983.5 605 L987.6 606 L995.2 596.8 L1000.2 597.6 L1007.7 591.8 L1015.2 595 L1022.7 590 L1031.9 591.8 L1037 592.6 L1041.1 606 L1045.3 596.8 L1049.4 592.6 L1057.8 601.8 L1065.3 603.5 L1070.3 599.3 L1075.3 601 L1078.6 609.3 L1089.5 621.8 L1099.5 625.2 L1102.8 616.8 L1107 617.6 L1111.2 631.8 L1115.4 634.3 L1119.5 621.8 L1136.2 619.3 L1140.4 621.8 L1148.8 612.6 L1153 607.6 L1161.3 611 L1165.5 617.6 L1170.5 618.5 L1177.1 629.3 L1184.6 611.8 L1194.7 615.2 L1198.8 609.3 L1210 606.8 L1226.7 605 L1234.2 606.8 L1240 613.5 L1246.7 608.5 L1251.8 607.6 L1256 601.8 L1261 604.3 L1265.1 611 L1272.6 612.6 L1276.8 606 L1281 608.5 L1285.1 585 L1289.3 588.4 L1296 587.6 L1301 591 L1310.2 591 L1316.9 585 L1326 584.3 L1330.2 587.6 L1334.4 584.3 L1338.6 598.5 L1342.7 599.3 L1347 589.3 L1351.1 586 L1362.8 581 L1371.1 575.9 L1374.5 584.3 L1380.3 587.6 L1384.5 581.8 L1392 581.8 L1400.3 580 L1405.3 586 L1420.4 581.8 L1429.5 584.3 L1445.4 583.4 L1454.6 587.6 L1458.8 582.6 L1463 593.4 L1469.6 587.6 L1475.5 595 L1483.8 593.4 L1491.3 582.6 L1495.5 572.6 L1500.5 570.9 L1506.7 573.4 L1515.9 575.9 L1525 575 L1529.2 580 L1536.7 581.8 L1540.9 577.6 L1545.9 583.4 L1553.4 585 L1566 580.9 L1574.3 599.3 L1578.5 589.3 L1582.6 590 L1586 595 L1590.2 586 L1595.2 584.3 L1602.7 591.8 L1606.8 588.4 L1611 592.6 L1620.2 593.4 L1627.7 587.6 L1636 592.6 L1643.6 584.3 L1657 583.4 L1666.1 571.7 L1669.4 575 L1673.6 575 L1677.8 569.2 L1682 577.6 L1690.3 576.7 L1693.7 589.3 L1697.8 589.3 L1711.2 597.6 L1714.5 587.6 L1722.9 586 L1731.2 588.4 L1735.4 594.3 L1740.4 599.3 L1744.6 598.5 L1752.1 589.3 L1756.3 589.3 L1764.6 582.6 L1768.8 588.4 L1772.1 587.6" stroke="#ff55ff" stroke-width="1.1"/>
<path d="M10 620.2 L16.7 630.2 L25 614.8 L41.8 619.8 L48.4 607.6 L58.5 605 L62.6 607 L66.8 601.8 L73.5 598.5 L91 575 L95.2 593.5 L99.4 586 L107.7 614.3 L115.2 603.5 L123.6 591 L128.6 595 L140.3 587.6 L152.8 600 L157 588.8 L161.2 594.3 L165.3 586 L174.5 586.8 L180.4 603.5 L185.4 611.8 L190.4 605 L193.7 608.5 L198.7 596.8 L203 616.8 L209.6 588.4 L218.8 587.6 L223.8 581.8 L232.2 579.3 L238.8 578.4 L247.2 585 L252.2 581.8 L257.2 586.8 L267.2 586 L273 592.6 L276.4 572.6 L281.4 571.7 L284.8 581.8 L289 574.2 L294 584.3 L297.3 578.4 L300 579.3 L305.8 591.8 L318.4 599.3 L322.5 593.4 L330 609.3 L334.2 600 L339.2 602.6 L348.4 591 L355 592.6 L359.3 602.6 L364.3 599.3 L371 583.4 L380.2 574.2 L387.7 575 L392.7 570 L396.8 575 L401 560.9 L408.5 560.9 L413.5 558.4 L421.9 558.4 L424.4 575 L430.2 575.9 L434.4 580 L442 575 L446.1 580 L450.3 598.5 L453.6 591.8 L462.8 599.3 L471.2 588.4 L475.4 596 L479.5 591.8 L483.7 594.3 L488.7 591.8 L495.4 574.2 L499.6 598.5 L504.6 581.8 L508.8 578.4 L517 581.8 L524.6 576.7 L529.6 576.7 L535.5 580 L542.2 585 L548.8 591 L557.2 586.8 L561.4 590 L569.7 578.4 L574.7 596 L579 581.8 L582.2 580 L587.2 585 L594.8 581 L600.6 585 L603.3 584.3 L607.5 600 L611.7 610 L615.9 601 L620 598.5 L625 593.4 L629.2 597.6 L635 592.6 L644.2 593.4 L648.4 611 L656.8 616.8 L661.8 612.6 L665 613.5 L670 601 L674.3 611.8 L678.5 602.6 L686 608.5 L690.2 603.5 L695.2 625.2 L698.5 601 L706.9 601 L710.2 606 L715.2 597.6 L719.4 593.4 L726.9 595 L733.6 592.6 L740.3 592.6 L747.8 584.3 L752 596.8 L760.3 608.5 L765.3 607.6 L768.6 593.4 L772.8 599.3 L777 613.5 L784.5 619.3 L790.4 616 L794.6 603.5 L798.7 608.5 L805.4 633.5 L810.4 625.2 L817 617.6 L823.7 620.2 L830.4 622.7 L833.7 615.2 L840.5 610 L843 612.6 L847.2 603.5 L854.6 611 L859.7 599.3 L863.9 600 L868 605 L873.9 607.6 L880.5 611.8 L887.2 611.8 L892.2 624.3 L896.4 605 L900.6 600 L904.2 601 L909.2 606.8 L913.4 601 L921.7 596 L925 596.8 L930 592.6 L934.2 592.6 L938.4 602.6 L941.7 601.8 L946 592.6 L950 599.3 L958.4 592.6 L962.6 605 L966.8 605 L971 594.3 L974.3 594.3 L983.5 607.6 L987.6 608.5 L995.2 592.6 L1000.2 595 L1007.7 585 L1015.2 591.8 L1020.2 585 L1025.2 584 L1031.9 586.8 L1037 590 L1041.1 611.8 L1045.3 596 L1049.4 590 L1053.6 592.6 L1057.8 603.5 L1065.3 606.8 L1070.3 599.3 L1075.3 601.8 L1078.6 612.6 L1082 616.8 L1089.5 629.3 L1099.5 632.7 L1102.8 620.2 L1107 621 L1111.2 637.7 L1115.4 637.7 L1119.5 621.8 L1123.7 621.8 L1132 618.5 L1136.2 618.5 L1140.4 622.7 L1144.6 610 L1148.8 610 L1153 602.6 L1161.3 607.6 L1165.5 617.6 L1170.5 617.6 L1177.1 634.3 L1184.6 611 L1191.3 614.3 L1194.7 616.8 L1198.8 607.6 L1205.8 607.6 L1210 602.6 L1218.4 602.6 L1226.7 601 L1234.2 606 L1240 615.2 L1246.7 606.8 L1251.8 606.8 L1256 595 L1261 601.8 L1265.1 611.8 L1272.6 614.3 L1276.8 605 L1281 609.3 L1285.1 575 L1289.3 581 L1296 580 L1301 586 L1310.2 586.8 L1316.9 577.6 L1326 576.7 L1330.2 583.4 L1334.4 579.3 L1338.6 601 L1342.7 603.5 L1347 588.4 L1351.1 581.8 L1356.1 581 L1362.8 574.2 L1371.1 568.4 L1374.5 583.4 L1380.3 588.4 L1384.5 579.3 L1387.8 584.3 L1392 580 L1400.3 579.3 L1405.3 586.8 L1413.7 583.4 L1420.4 580 L1429.5 585 L1433.7 580 L1438.7 584.3 L1445.4 583.4 L1454.6 591 L1458.8 579.3 L1463 600 L1469.6 587.6 L1475.5 600 L1483.8 596.8 L1487.2 585 L1491.3 579.3 L1495.5 567.6 L1500.5 565.9 L1504.2 569.2 L1508.3 567.6 L1515.9 573.4 L1525 571.4 L1529.2 580.9 L1532.6 579.2 L1536.7 582.6 L1540.9 575.9 L1545.9 585 L1549.2 584.3 L1553.4 589.3 L1557.6 586 L1566 580 L1570.1 588.4 L1574.3 608.5 L1578.5 591.8 L1582.6 591.8 L1586 600 L1590.2 585 L1595.2 582.6 L1602.7 594.3 L1606.8 587.6 L1611 595 L1620.2 595 L1627.7 586 L1636 596 L1643.6 581 L1652.8 575 L1657 581.8 L1666.1 565 L1669.4 570.9 L1673.6 570.9 L1677.8 564.2 L1682 576.7 L1686.1 580.9 L1690.3 574.2 L1693.7 593.4 L1697.8 591.8 L1702.8 596.8 L1711.2 604.3 L1714.5 587.6 L1722.9 585 L1727 590 L1731.2 587.6 L1735.4 596.8 L1740.4 605 L1744.6 604.3 L1752.1 588.4 L1756.3 588.4 L1764.6 577.6 L1768.8 588.4 L1772.1 587.6" stroke="#6464ff" stroke-width="1.1"/>
</g>
<clipPath id="cs"><rect x="10" y="650" width="1831.5" height="67"/></clipPath>
<g clip-path="url(#cs)" fill="none" stroke-linejoin="round">
<path d="M10 696.8 L11 697.6 L12 698.5 L13 699.3 L14 700.1 L15 701 L16 701.8 L17 702.6 L18 703.4 L19 704.1 L20 704.6 L21 704.7 L22 704.6 L23 704.3 L24 704.1 L25 703.8 L26 703.4 L27 702.9 L28 702.2 L29 701.4 L30 700.6 L31 699.7 L32 698.9 L33 698 L34 697.2 L35 696.3 L36 695.5 L37 694.6 L38 693.9 L39 693.3 L40 692.8 L41 692.3 L42 691.9 L43 691.5 L44 691 L45 690.6 L46 690.2 L47 689.7 L48 689 L49 688.1 L50 687 L51 685.7 L52 684.3 L53 683 L54 681.6 L55 680.3 L56 678.9 L57 677.6 L58 676.3 L59 675 L60 674 L61 673.4 L62 673 L63 672.7 L64 672.4 L65 672.2 L66 671.9 L67 671.7 L68 671.4 L69 671.2 L70 670.9 L71 670.5 L72 670.2 L73 669.8 L74 669.4 L75 669.1 L76 668.7 L77 668.3 L78 668 L79 667.6 L80 667.2 L81 666.8 L82 666.5 L83 666.2 L84 666.1 L85 666.1 L86 666.1 L87 666.2 L88 666.3 L89 666.4 L90 666.6 L91 666.8 L92 667.3 L93 668 L94 668.9 L95 669.9 L96 670.9 L97 671.8 L98 672.8 L99 673.9 L100 675.1 L101 676.6 L102 678.2 L103 679.9 L104 681.7 L105 683.4 L106 685.2 L107 687 L108 688.7 L109 690.5 L110 692.2 L111 694 L112 695.6 L113 696.8 L114 697.4 L115 697.4 L116 697.1 L117 696.6 L118 696.1 L119 695.5 L120 694.7 L121 693.7 L122 692.4 L123 691 L124 689.6 L125 688.2 L126 686.8 L127 685.4 L128 684 L129 682.7 L130 681.6 L131 680.8 L132 680.2 L133 679.8 L134 679.4 L135 679 L136 678.6 L137 678.2 L138 677.7 L139 677.2 L140 676.6 L141 675.9 L142 675.2 L143 674.5 L144 673.8 L145 673.1 L146 672.6 L147 672.4 L148 672.5 L149 673 L150 673.6 L151 674.3 L152 675 L153 675.8 L154 676.9 L155 678.3 L156 679.8 L157 681.4 L158 682.9 L159 684.3 L160 685.2 L161 685.3 L162 684.8 L163 684 L164 683 L165 682 L166 681 L167 680 L168 679 L169 678 L170 677 L171 676 L172 675 L173 674 L174 673 L175 672.1 L176 671.4 L177 671.2 L178 671.9 L179 673.1 L180 674.6 L181 676.2 L182 678 L183 680.2 L184 682.5 L185 684.9 L186 687.3 L187 689.7 L188 692.2 L189 694.6 L190 697 L191 699.4 L192 701.7 L193 703.6 L194 704.7 L195 705 L196 704.8 L197 704.3 L198 703.9 L199 703.3 L200 702.8 L201 702.3 L202 701.8 L203 701.1 L204 700.1 L205 698.7 L206 697.2 L207 695.6 L208 693.9 L209 692.2 L210 690.3 L211 688.1 L212 685.7 L213 683.1 L214 680.5 L215 677.9 L216 675.4 L217 673.5 L218 672.1 L219 671.2 L220 670.4 L221 669.7 L222 669 L223 668.4 L224 667.7 L225 667.2 L226 666.8 L227 666.6 L228 666.4 L229 666.3 L230 666.2 L231 666.1 L232 666 L233 665.9 L234 665.8 L235 665.7 L236 665.6 L237 665.5 L238 665.4 L239 665.3 L240 665.2 L241 665.3 L242 665.5 L243 666.2 L244 667 L245 668 L246 669.1 L247 670.3 L248 671.8 L249 673.4 L250 675.1 L251 676.8 L252 678.4 L253 680.1 L254 681.6 L255 682.8 L256 683.4 L257 683.5 L258 683.2 L259 682.9 L260 682.6 L261 682.2 L262 681.9 L263 681.5 L264 681.1 L265 680.8 L266 680.5 L267 680.3 L268 680.3 L269 680.5 L270 680.7 L271 681 L272 681.2 L273 681.4 L274 681.5 L275 681.4 L276 681.2 L277 681.1 L278 680.8 L279 680.6 L280 680.4 L281 680.1 L282 679.7 L283 679 L284 678.2 L285 677.2 L286 676.2 L287 675.2 L288 674.2 L289 673.3 L290 672.6 L291 672.3 L292 672.4 L293 672.7 L294 673 L295 673.4 L296 673.8 L297 674.1 L298 674.5 L299 674.9 L300 675.2 L301 675.6 L302 676 L303 676.4 L304 676.7 L305 677.1 L306 677.7 L307 678.5 L308 679.7 L309 681.2 L310 682.7 L311 684.2 L312 685.7 L313 687.3 L314 688.8 L315 690.3 L316 691.9 L317 693.4 L318 694.8 L319 695.9 L320 696.6 L321 697 L322 697.2 L323 697.3 L324 697.5 L325 697.6 L326 697.8 L327 698 L328 698.2 L329 698.3 L330 698.5 L331 698.7 L332 698.9 L333 699.1 L334 699.3 L335 699.5 L336 699.6 L337 699.7 L338 699.4 L339 698.6 L340 697.3 L341 695.8 L342 694.2 L343 692.5 L344 690.8 L345 689.2 L346 687.5 L347 685.9 L348 684.2 L349 682.5 L350 680.8 L351 679.2 L352 677.5 L353 675.9 L354 674.5 L355 673.5 L356 673.1 L357 673.2 L358 673.7 L359 674.6 L360 675.8 L361 677.2 L362 678.6 L363 680.1 L364 681.5 L365 683 L366 684.4 L367 685.8 L368 687.2 L369 688.2 L370 688.8 L371 688.7 L372 688.1 L373 686.9 L374 685.3 L375 683.6 L376 681.8 L377 680.1 L378 678.4 L379 676.6 L380 674.9 L381 673.4 L382 672.1 L383 671.3 L384 670.6 L385 670.1 L386 669.6 L387 669.1 L388 668.6 L389 668.1 L390 667.6 L391 667.3 L392 667.1 L393 667.2 L394 667.5 L395 667.9 L396 668.2 L397 668.6 L398 668.9 L399 669.3 L400 669.6 L401 670 L402 670.3 L403 670.5 L404 670.5 L405 670.3 L406 670 L407 669.6 L408 669.3 L409 668.9 L410 668.5 L411 668.2 L412 667.8 L413 667.4 L414 667.1 L415 666.7 L416 666.3 L417 666 L418 665.6 L419 665.3 L420 664.9 L421 664.8 L422 664.9 L423 665.5 L424 666.3 L425 667.4 L426 668.5 L427 670 L428 671.9 L429 674.1 L430 676.4 L431 678.7 L432 681 L433 683.3 L434 685.6 L435 687.9 L436 690.2 L437 692.6 L438 694.9 L439 697.1 L440 699.1 L441 700.4 L442 700.8 L443 700.6 L444 700.1 L445 699.6 L446 699 L447 698.4 L448 697.9 L449 697.3 L450 696.8 L451 696.2 L452 695.7 L453 695.1 L454 694.7 L455 694.5 L456 694.4 L457 694.5 L458 694.5 L459 694.6 L460 694.6 L461 694.7 L462 694.7 L463 694.8 L464 694.8 L465 694.9 L466 694.8 L467 694.6 L468 694 L469 693.3 L470 692.5 L471 691.7 L472 690.9 L473 690 L474 689.2 L475 688.4 L476 687.6 L477 687 L478 686.5 L479 686.2 L480 685.9 L481 685.6 L482 685.3 L483 685.1 L484 684.8 L485 684.5 L486 684.2 L487 684 L488 683.7 L489 683.4 L490 683.1 L491 682.8 L492 682.3 L493 681.6 L494 680.8 L495 679.9 L496 679 L497 678.2 L498 677.3 L499 676.7 L500 676.5 L501 676.5 L502 676.8 L503 677.2 L504 677.5 L505 677.9 L506 678.2 L507 678.5 L508 678.6 L509 678.2 L510 677.5 L511 676.4 L512 675.2 L513 674 L514 672.8 L515 671.6 L516 670.3 L517 669.1 L518 667.9 L519 666.8 L520 666 L521 665.6 L522 665.6 L523 665.8 L524 666.1 L525 666.4 L526 666.7 L527 667 L528 667.5 L529 668.1 L530 669 L531 670 L532 671 L533 672.1 L534 673.2 L535 674.2 L536 675.3 L537 676.4 L538 677.4 L539 678.5 L540 679.6 L541 680.7 L542 681.9 L543 683 L544 684.2 L545 685.3 L546 686.5 L547 687.6 L548 688.8 L549 689.9 L550 691.1 L551 692.3 L552 693.4 L553 694.6 L554 695.7 L555 696.8 L556 697.8 L557 698.4 L558 698.6 L559 698.3 L560 697.8 L561 697.3 L562 696.8 L563 696.3 L564 695.8 L565 695.3 L566 694.8 L567 694.2 L568 693.6 L569 692.9 L570 692.1 L571 691.4 L572 690.6 L573 689.8 L574 689.1 L575 688.3 L576 687.6 L577 686.8 L578 686.1 L579 685.3 L580 684.6 L581 683.8 L582 683 L583 682.2 L584 681.3 L585 680.4 L586 679.3 L587 678.2 L588 677.2 L589 676.1 L590 675 L591 673.9 L592 672.9 L593 672 L594 671.5 L595 671.4 L596 671.5 L597 671.7 L598 672 L599 672.2 L600 672.5 L601 672.7 L602 673 L603 673.5 L604 674.4 L605 675.7 L606 677.2 L607 679 L608 680.8 L609 682.6 L610 684.4 L611 686.2 L612 688 L613 689.8 L614 691.5 L615 693.2 L616 694.6 L617 695.8 L618 696.7 L619 697.4 L620 697.8 L621 697.7 L622 697.4 L623 696.9 L624 696.3 L625 695.5 L626 694.4 L627 693 L628 691.5 L629 690 L630 688.5 L631 687 L632 685.5 L633 684 L634 682.5 L635 681 L636 679.5 L637 678.1 L638 677 L639 676.3 L640 676 L641 675.9 L642 676 L643 676.4 L644 677.1 L645 678.2 L646 679.4 L647 680.7 L648 682.1 L649 683.4 L650 684.8 L651 686.1 L652 687.5 L653 688.8 L654 690.2 L655 691.5 L656 692.7 L657 693.7 L658 694.2 L659 694.2 L660 693.9 L661 693.5 L662 693.1 L663 692.6 L664 692.1 L665 691.5 L666 690.6 L667 689.7 L668 688.6 L669 687.6 L670 686.5 L671 685.5 L672 684.4 L673 683.4 L674 682.3 L675 681.3 L676 680.2 L677 679.3 L678 678.5 L679 678.1 L680 678.1 L681 678.2 L682 678.5 L683 678.7 L684 679 L685 679.5 L686 680.1 L687 680.8 L688 681.7 L689 682.5 L690 683.4 L691 684.2 L692 685.1 L693 686 L694 686.8 L695 687.6 L696 688.3 L697 688.8 L698 689.1 L699 689.2 L700 689.2 L701 689.1 L702 688.9 L703 688.2 L704 687.2 L705 686 L706 684.6 L707 683.2 L708 681.8 L709 680.4 L710 679.2 L711 678.2 L712 677.5 L713 677.1 L714 676.8 L715 676.5 L716 676.2 L717 676 L718 675.7 L719 675.4 L720 675.2 L721 674.9 L722 674.6 L723 674.5 L724 674.4 L725 674.4 L726 674.5 L727 674.6 L728 674.7 L729 674.8 L730 674.9 L731 675 L732 675.1 L733 675.2 L734 675.3 L735 675.4 L736 675.5 L737 675.6 L738 675.7 L739 675.7 L740 675.7 L741 675.6 L742 675.5 L743 675.3 L744 675 L745 674.8 L746 674.6 L747 674.3 L748 674.1 L749 673.9 L750 673.9 L751 674.2 L752 674.9 L753 676.1 L754 677.5 L755 679 L756 680.6 L757 682.4 L758 684.3 L759 686.1 L760 688 L761 689.9 L762 691.7 L763 693.6 L764 695.5 L765 697.3 L766 699.1 L767 700.5 L768 701.4 L769 701.4 L770 701 L771 700.3 L772 699.6 L773 698.9 L774 698.2 L775 697.5 L776 696.8 L777 696.1 L778 695.5 L779 695.3 L780 695.6 L781 696.4 L782 697.5 L783 698.8 L784 700.1 L785 701.4 L786 702.6 L787 703.8 L788 704.6 L789 704.8 L790 704.5 L791 703.7 L792 702.8 L793 701.9 L794 700.9 L795 700 L796 699 L797 698.1 L798 697.2 L799 696.2 L800 695.3 L801 694.6 L802 694.3 L803 694.5 L804 695.2 L805 696 L806 696.8 L807 697.7 L808 698.5 L809 699.4 L810 700.2 L811 701.1 L812 701.8 L813 702.4 L814 702.5 L815 702.2 L816 701.6 L817 700.8 L818 700.1 L819 699.3 L820 698.5 L821 697.7 L822 696.9 L823 696.2 L824 695.4 L825 694.8 L826 694.3 L827 693.9 L828 693.5 L829 693.2 L830 692.9 L831 692.6 L832 692.3 L833 692 L834 691.7 L835 691.4 L836 691.1 L837 690.8 L838 690.4 L839 689.9 L840 689.2 L841 688.2 L842 687.1 L843 685.9 L844 684.7 L845 683.5 L846 682.3 L847 681.1 L848 679.9 L849 678.7 L850 677.6 L851 676.5 L852 675.9 L853 675.8 L854 676 L855 676.5 L856 677 L857 677.5 L858 678 L859 678.5 L860 679 L861 679.4 L862 679.9 L863 680.3 L864 680.7 L865 681.2 L866 681.6 L867 682 L868 682.4 L869 682.9 L870 683.3 L871 683.8 L872 684.5 L873 685.4 L874 686.4 L875 687.6 L876 688.7 L877 689.9 L878 691 L879 692.2 L880 693.3 L881 694.5 L882 695.6 L883 696.6 L884 697.5 L885 698.5 L886 699.4 L887 700.3 L888 701.2 L889 702.2 L890 703 L891 703.7 L892 704 L893 703.7 L894 702.8 L895 701.7 L896 700.5 L897 699.3 L898 698 L899 696.7 L900 695.2 L901 693.4 L902 691.2 L903 688.8 L904 686.4 L905 684.3 L906 682.5 L907 681.1 L908 679.9 L909 678.8 L910 677.7 L911 676.6 L912 675.5 L913 674.6 L914 674.1 L915 673.9 L916 674.1 L917 674.4 L918 674.7 L919 675 L920 675.3 L921 675.5 L922 675.4 L923 675.1 L924 674.7 L925 674.2 L926 673.7 L927 673.2 L928 672.7 L929 672.1 L930 671.5 L931 670.9 L932 670.3 L933 669.7 L934 669.1 L935 668.6 L936 668.4 L937 668.5 L938 669.2 L939 670.2 L940 671.3 L941 672.4 L942 673.6 L943 674.7 L944 675.9 L945 677 L946 678.1 L947 679.2 L948 679.9 L949 680.4 L950 680.4 L951 680.2 L952 680 L953 679.8 L954 679.5 L955 679.3 L956 679 L957 678.9 L958 678.9 L959 679.3 L960 680.1 L961 681 L962 682 L963 683 L964 684 L965 684.9 L966 685.9 L967 686.9 L968 687.9 L969 688.7 L970 689.1 L971 689 L972 688.4 L973 687.7 L974 686.9 L975 686.1 L976 685.2 L977 684.4 L978 683.6 L979 682.8 L980 682 L981 681.2 L982 680.6 L983 680.2 L984 680.4 L985 681.1 L986 682.1 L987 683.2 L988 684.4 L989 685.5 L990 686.6 L991 687.8 L992 688.9 L993 690 L994 691 L995 691.6 L996 691.6 L997 691.1 L998 690.4 L999 689.6 L1000 688.8 L1001 688 L1002 687.2 L1003 686.4 L1004 685.6 L1005 684.9 L1006 684.2 L1007 683.6 L1008 683.2 L1009 682.9 L1010 682.6 L1011 682.4 L1012 682.1 L1013 681.9 L1014 681.6 L1015 681.4 L1016 681.1 L1017 680.8 L1018 680.6 L1019 680.3 L1020 680 L1021 679.7 L1022 679.4 L1023 679.1 L1024 678.7 L1025 678.2 L1026 677.6 L1027 676.8 L1028 676 L1029 675.2 L1030 674.3 L1031 673.5 L1032 672.6 L1033 671.8 L1034 671 L1035 670.3 L1036 670.1 L1037 670.5 L1038 671.4 L1039 672.4 L1040 673.4 L1041 674.5 L1042 675.6 L1043 676.6 L1044 677.7 L1045 678.7 L1046 679.8 L1047 680.8 L1048 681.7 L1049 682.3 L1050 682.5 L1051 682.1 L1052 681.5 L1053 680.8 L1054 680 L1055 679.3 L1056 678.6 L1057 678 L1058 677.6 L1059 677.5 L1060 678 L1061 678.7 L1062 679.7 L1063 681 L1064 682.7 L1065 684.7 L1066 686.8 L1067 688.9 L1068 691 L1069 692.9 L1070 694.5 L1071 695.5 L1072 696.1 L1073 696.3 L1074 696.5 L1075 696.7 L1076 696.9 L1077 697 L1078 697.2 L1079 697.4 L1080 697.5 L1081 697.6 L1082 697.7 L1083 697.7 L1084 697.8 L1085 697.8 L1086 697.9 L1087 697.9 L1088 698 L1089 698 L1090 698.1 L1091 698.1 L1092 698.2 L1093 698.2 L1094 698.3 L1095 698.3 L1096 698.2 L1097 698.1 L1098 697.8 L1099 697.5 L1100 697.2 L1101 696.9 L1102 696.6 L1103 696.3 L1104 695.9 L1105 695.6 L1106 695.4 L1107 695.2 L1108 695.2 L1109 695.3 L1110 695.4 L1111 695.5 L1112 695.6 L1113 695.8 L1114 696 L1115 696.4 L1116 696.9 L1117 697.5 L1118 698.1 L1119 698.8 L1120 699.4 L1121 700.1 L1122 700.6 L1123 701.1 L1124 701.2 L1125 701 L1126 700.6 L1127 700.1 L1128 699.3 L1129 698.1 L1130 696.5 L1131 694.7 L1132 692.7 L1133 690.7 L1134 688.7 L1135 686.7 L1136 684.7 L1137 682.7 L1138 680.7 L1139 678.9 L1140 677.3 L1141 676.2 L1142 675.6 L1143 675.3 L1144 675 L1145 674.7 L1146 674.4 L1147 674.1 L1148 673.7 L1149 673.2 L1150 672.7 L1151 672.2 L1152 671.7 L1153 671.2 L1154 670.7 L1155 670.2 L1156 669.7 L1157 669.2 L1158 668.7 L1159 668.4 L1160 668.4 L1161 668.8 L1162 669.8 L1163 671 L1164 672.4 L1165 673.9 L1166 675.6 L1167 677.4 L1168 679.4 L1169 681.4 L1170 683.4 L1171 685.4 L1172 687.4 L1173 689.4 L1174 691.4 L1175 693.4 L1176 695.4 L1177 697.4 L1178 699.4 L1179 701.4 L1180 703.3 L1181 704.9 L1182 705.8 L1183 705.5 L1184 704.5 L1185 703 L1186 701.5 L1187 699.9 L1188 698.3 L1189 696.7 L1190 695.2 L1191 693.6 L1192 692.1 L1193 690.7 L1194 689.6 L1195 688.7 L1196 688.1 L1197 687.6 L1198 687.1 L1199 686.6 L1200 686.1 L1201 685.7 L1202 685.2 L1203 684.7 L1204 684.2 L1205 683.7 L1206 683.2 L1207 682.7 L1208 682.3 L1209 681.8 L1210 681.4 L1211 680.9 L1212 680.5 L1213 680.1 L1214 679.6 L1215 678.9 L1216 678.1 L1217 677.2 L1218 676.2 L1219 675.2 L1220 674.3 L1221 673.5 L1222 673 L1223 672.9 L1224 672.9 L1225 673.2 L1226 673.6 L1227 674.3 L1228 675.4 L1229 676.7 L1230 678.1 L1231 679.5 L1232 680.9 L1233 682.3 L1234 683.7 L1235 685.1 L1236 686.6 L1237 688 L1238 689.4 L1239 690.8 L1240 692.2 L1241 693.6 L1242 695 L1243 696.4 L1244 697.6 L1245 698.3 L1246 698.3 L1247 697.9 L1248 697.3 L1249 696.6 L1250 695.8 L1251 694.8 L1252 693.7 L1253 692.6 L1254 691.5 L1255 690.4 L1256 689.2 L1257 688.1 L1258 687 L1259 685.9 L1260 684.7 L1261 683.6 L1262 682.6 L1263 681.9 L1264 681.5 L1265 681.7 L1266 682.4 L1267 683.5 L1268 684.8 L1269 686.2 L1270 687.7 L1271 689.1 L1272 690.6 L1273 692.1 L1274 693.5 L1275 695 L1276 696.4 L1277 697.7 L1278 698.6 L1279 698.9 L1280 698.6 L1281 698 L1282 697.1 L1283 696.1 L1284 694.9 L1285 693.5 L1286 692 L1287 690.4 L1288 688.9 L1289 687.3 L1290 685.7 L1291 684.2 L1292 682.6 L1293 681.1 L1294 679.7 L1295 678.6 L1296 677.9 L1297 677.7 L1298 677.6 L1299 677.6 L1300 677.6 L1301 677.8 L1302 678.2 L1303 678.8 L1304 679.7 L1305 680.6 L1306 681.5 L1307 682.4 L1308 683.3 L1309 684.3 L1310 685.2 L1311 686.1 L1312 687 L1313 687.9 L1314 688.6 L1315 688.9 L1316 688.5 L1317 687.6 L1318 686.1 L1319 684.3 L1320 682.1 L1321 679.8 L1322 677.3 L1323 674.9 L1324 672.5 L1325 670 L1326 667.7 L1327 665.8 L1328 664.6 L1329 664.1 L1330 664.2 L1331 664.5 L1332 664.8 L1333 665.2 L1334 665.7 L1335 666.6 L1336 667.9 L1337 669.7 L1338 671.7 L1339 673.7 L1340 675.8 L1341 677.8 L1342 679.9 L1343 682 L1344 684 L1345 686 L1346 687.7 L1347 688.7 L1348 688.9 L1349 688.5 L1350 687.9 L1351 687.1 L1352 686 L1353 684.6 L1354 683 L1355 681.3 L1356 679.6 L1357 677.8 L1358 676.1 L1359 674.4 L1360 672.6 L1361 670.9 L1362 669.1 L1363 667.4 L1364 665.9 L1365 664.6 L1366 663.8 L1367 663.5 L1368 663.4 L1369 663.4 L1370 663.4 L1371 663.5 L1372 663.8 L1373 664.4 L1374 665.1 L1375 665.9 L1376 666.8 L1377 667.9 L1378 669.3 L1379 670.9 L1380 672.6 L1381 674.3 L1382 676 L1383 677.7 L1384 679.4 L1385 681.1 L1386 682.7 L1387 684 L1388 684.6 L1389 684.5 L1390 683.9 L1391 683.1 L1392 682.2 L1393 681.4 L1394 680.5 L1395 679.6 L1396 678.7 L1397 677.9 L1398 677 L1399 676.3 L1400 675.8 L1401 675.7 L1402 676 L1403 676.5 L1404 677.1 L1405 677.6 L1406 678.2 L1407 678.7 L1408 679.3 L1409 679.8 L1410 680.4 L1411 681 L1412 681.5 L1413 682 L1414 682.5 L1415 682.6 L1416 682.4 L1417 681.8 L1418 680.9 L1419 680 L1420 679.1 L1421 678.1 L1422 677.2 L1423 676.3 L1424 675.3 L1425 674.4 L1426 673.4 L1427 672.6 L1428 671.8 L1429 671.4 L1430 671.2 L1431 671.3 L1432 671.5 L1433 671.7 L1434 672.1 L1435 672.6 L1436 673.3 L1437 673.9 L1438 674.6 L1439 675.3 L1440 675.9 L1441 676.6 L1442 677.3 L1443 678.1 L1444 679 L1445 680 L1446 681.2 L1447 682.4 L1448 683.6 L1449 684.8 L1450 686 L1451 687.3 L1452 688.5 L1453 689.7 L1454 690.8 L1455 691.7 L1456 692.3 L1457 692.5 L1458 692.6 L1459 692.6 L1460 692.6 L1461 692.6 L1462 692.5 L1463 692.3 L1464 692 L1465 691.7 L1466 691.4 L1467 691.1 L1468 690.8 L1469 690.5 L1470 690.3 L1471 690.1 L1472 690 L1473 690 L1474 690.1 L1475 690.2 L1476 690.6 L1477 691.2 L1478 692 L1479 692.7 L1480 693.5 L1481 694.3 L1482 695.1 L1483 695.8 L1484 696.5 L1485 697 L1486 697 L1487 696 L1488 694.2 L1489 692 L1490 689.7 L1491 687.3 L1492 685 L1493 682.6 L1494 680.4 L1495 678.4 L1496 676.8 L1497 675.7 L1498 674.8 L1499 673.9 L1500 673.2 L1501 672.4 L1502 671.6 L1503 670.8 L1504 670 L1505 669.2 L1506 668.5 L1507 667.9 L1508 667.5 L1509 667.2 L1510 667 L1511 667 L1512 667.1 L1513 667.4 L1514 667.9 L1515 668.4 L1516 669 L1517 669.9 L1518 670.9 L1519 672.1 L1520 673.4 L1521 674.6 L1522 675.9 L1523 677.2 L1524 678.4 L1525 679.7 L1526 681 L1527 682.2 L1528 683.5 L1529 684.6 L1530 685.7 L1531 686.8 L1532 687.8 L1533 688.8 L1534 689.8 L1535 690.8 L1536 691.7 L1537 692.3 L1538 692.6 L1539 692.3 L1540 691.8 L1541 691.2 L1542 690.6 L1543 690 L1544 689.3 L1545 688.7 L1546 688 L1547 687.4 L1548 686.7 L1549 686.1 L1550 685.5 L1551 685 L1552 684.9 L1553 685.1 L1554 685.6 L1555 686.2 L1556 686.9 L1557 687.5 L1558 688.1 L1559 688.7 L1560 689.2 L1561 689.4 L1562 689.2 L1563 688.7 L1564 688.1 L1565 687.5 L1566 686.9 L1567 686.5 L1568 686.2 L1569 686.1 L1570 686.2 L1571 686.3 L1572 686.4 L1573 686.6 L1574 687 L1575 687.6 L1576 688.5 L1577 689.4 L1578 690.4 L1579 691.4 L1580 692.4 L1581 693.1 L1582 693.2 L1583 692.8 L1584 692 L1585 691.1 L1586 690.1 L1587 689 L1588 688 L1589 687 L1590 685.9 L1591 684.8 L1592 683.5 L1593 682.1 L1594 680.6 L1595 679.1 L1596 677.7 L1597 676.2 L1598 674.8 L1599 673.3 L1600 671.9 L1601 670.8 L1602 670 L1603 669.8 L1604 670 L1605 670.3 L1606 670.8 L1607 671.4 L1608 672.2 L1609 673.1 L1610 674.1 L1611 675 L1612 676 L1613 677 L1614 678 L1615 678.9 L1616 679.8 L1617 680.7 L1618 681.6 L1619 682.4 L1620 683.2 L1621 684.1 L1622 684.9 L1623 685.7 L1624 686.4 L1625 686.8 L1626 686.6 L1627 686.2 L1628 685.5 L1629 684.7 L1630 684 L1631 683.2 L1632 682.4 L1633 681.7 L1634 681 L1635 680.6 L1636 680.4 L1637 680.6 L1638 680.8 L1639 681.1 L1640 681.4 L1641 681.6 L1642 681.9 L1643 682 L1644 681.9 L1645 681.4 L1646 680.4 L1647 679.2 L1648 677.9 L1649 676.6 L1650 675.3 L1651 674 L1652 672.7 L1653 671.4 L1654 670.2 L1655 669.3 L1656 668.7 L1657 668.5 L1658 668.4 L1659 668.4 L1660 668.4 L1661 668.4 L1662 668.4 L1663 668.4 L1664 668.4 L1665 668.4 L1666 668.4 L1667 668.4 L1668 668.5 L1669 668.6 L1670 668.8 L1671 669.1 L1672 669.3 L1673 669.6 L1674 669.9 L1675 670.1 L1676 670.4 L1677 670.7 L1678 671 L1679 671.2 L1680 671.5 L1681 671.8 L1682 672 L1683 672.3 L1684 672.6 L1685 672.9 L1686 673.2 L1687 673.8 L1688 674.5 L1689 675.4 L1690 676.4 L1691 677.3 L1692 678.4 L1693 679.5 L1694 680.7 L1695 682.1 L1696 683.6 L1697 685.2 L1698 686.8 L1699 688.4 L1700 689.9 L1701 691.5 L1702 693.1 L1703 694.7 L1704 696.2 L1705 697.8 L1706 699.4 L1707 701 L1708 702.5 L1709 704 L1710 705.2 L1711 705.7 L1712 705 L1713 703.4 L1714 701.4 L1715 699.2 L1716 697 L1717 694.7 L1718 692.5 L1719 690.3 L1720 688.1 L1721 685.9 L1722 683.6 L1723 681.4 L1724 679.2 L1725 677 L1726 674.8 L1727 672.6 L1728 670.4 L1729 668.5 L1730 667.5 L1731 667.6 L1732 668.9 L1733 670.9 L1734 673.1 L1735 675.3 L1736 677.5 L1737 679.6 L1738 681.6 L1739 683.5 L1740 685.4 L1741 687.2 L1742 689 L1743 690.9 L1744 692.7 L1745 694.2 L1746 695.2 L1747 695.4 L1748 694.9 L1749 694 L1750 693 L1751 691.9 L1752 690.6 L1753 689.2 L1754 687.5 L1755 685.7 L1756 683.9 L1757 682.1 L1758 680.4 L1759 678.6 L1760 676.8 L1761 675 L1762 673.3 L1763 671.8 L1764 670.8 L1765 670.4 L1766 670.3 L1767 670.4 L1768 670.5 L1769 670.6 L1770 670.7 L1771 670.8 L1772 670.8 L1772.1 670.9" stroke="#ff55ff" stroke-width="1.1"/>
<path d="M10 696 L11 697.4 L12 698.7 L13 700.1 L14 701.4 L15 702.8 L16 703.9 L17 704.6 L18 704.8 L19 704.6 L20 704.4 L21 704.2 L22 704 L23 703.8 L24 703.5 L25 703 L26 702.2 L27 701.1 L28 699.9 L29 698.7 L30 697.5 L31 696.4 L32 695.2 L33 694 L34 692.9 L35 692.1 L36 691.6 L37 691.3 L38 691.3 L39 691.7 L40 692.3 L41 693 L42 693.5 L43 693.4 L44 692.6 L45 691.5 L46 690.4 L47 689.1 L48 687.5 L49 685.1 L50 681.9 L51 678.5 L52 675.1 L53 672.3 L54 670.8 L55 670.3 L56 670.4 L57 670.5 L58 670.6 L59 670.7 L60 670.8 L61 670.9 L62 670.9 L63 670.9 L64 670.9 L65 670.9 L66 670.8 L67 670.7 L68 670.4 L69 670 L70 669.5 L71 669.1 L72 668.7 L73 668.3 L74 667.8 L75 667.4 L76 667 L77 666.6 L78 666.2 L79 666 L80 666 L81 666.1 L82 666.2 L83 666.3 L84 666.3 L85 666.4 L86 666.5 L87 666.6 L88 666.9 L89 667.7 L90 668.8 L91 670.1 L92 671.5 L93 672.9 L94 674.2 L95 675.4 L96 676.3 L97 677 L98 677.7 L99 678.7 L100 680.5 L101 683 L102 685.8 L103 688.6 L104 691.2 L105 693.4 L106 695.2 L107 696.9 L108 698.5 L109 700.1 L110 701.5 L111 702.2 L112 701.4 L113 699.8 L114 698 L115 696.3 L116 694.5 L117 692.7 L118 690.9 L119 689.1 L120 687.3 L121 685.5 L122 683.8 L123 682.2 L124 681 L125 680.3 L126 679.7 L127 679.2 L128 678.8 L129 678.6 L130 678.7 L131 678.8 L132 678.9 L133 678.9 L134 678.5 L135 677.6 L136 676.6 L137 675.5 L138 674.4 L139 673.4 L140 672.3 L141 671.2 L142 670.2 L143 669.4 L144 669.2 L145 669.6 L146 670.4 L147 671.3 L148 672.4 L149 674.2 L150 676.8 L151 679.7 L152 682.7 L153 685.2 L154 686.8 L155 687.3 L156 687.3 L157 687.1 L158 687 L159 686.7 L160 686 L161 684.2 L162 681.5 L163 678.6 L164 675.7 L165 673.3 L166 671.9 L167 671.2 L168 670.9 L169 670.6 L170 670.3 L171 670 L172 669.7 L173 669.7 L174 670.1 L175 671.1 L176 672.4 L177 673.8 L178 675.6 L179 678.1 L180 681.6 L181 685.5 L182 689.4 L183 693.4 L184 697.3 L185 700.5 L186 702.5 L187 703.5 L188 704.1 L189 704.7 L190 705.2 L191 705.8 L192 706.1 L193 705.8 L194 704.8 L195 703.4 L196 701.8 L197 700.3 L198 699 L199 698.1 L200 697.9 L201 698 L202 698.1 L203 697.9 L204 697.1 L205 695.4 L206 693.3 L207 691.1 L208 688.9 L209 686.7 L210 684.4 L211 682.2 L212 679.8 L213 677.3 L214 674.7 L215 672 L216 669.5 L217 667.6 L218 666.8 L219 666.5 L220 666.4 L221 666.3 L222 666.2 L223 666.1 L224 666 L225 665.9 L226 665.9 L227 665.8 L228 665.7 L229 665.6 L230 665.5 L231 665.5 L232 665.4 L233 665.3 L234 665.2 L235 665.2 L236 665.1 L237 665.3 L238 665.8 L239 666.5 L240 667.2 L241 667.9 L242 668.7 L243 669.6 L244 670.7 L245 672.3 L246 674.1 L247 676 L248 677.9 L249 679.7 L250 681.4 L251 682.7 L252 683.6 L253 684.2 L254 684.3 L255 683.7 L256 682.8 L257 681.8 L258 680.8 L259 679.8 L260 679.1 L261 678.7 L262 678.7 L263 678.9 L264 679.1 L265 679.3 L266 679.5 L267 679.7 L268 679.9 L269 680.4 L270 681.2 L271 682.2 L272 683.2 L273 683.9 L274 684 L275 683.3 L276 682.1 L277 680.7 L278 679.4 L279 678.1 L280 676.8 L281 675.4 L282 674.1 L283 672.9 L284 672.1 L285 671.9 L286 671.9 L287 672 L288 672 L289 672.1 L290 672.2 L291 672.3 L292 672.4 L293 672.5 L294 672.7 L295 673.1 L296 673.6 L297 674.1 L298 674.6 L299 675.2 L300 675.9 L301 676.9 L302 678.2 L303 679.6 L304 681.1 L305 682.6 L306 684.1 L307 685.5 L308 687 L309 688.5 L310 689.9 L311 691.1 L312 692.2 L313 693.3 L314 694.4 L315 695.5 L316 696.6 L317 697.7 L318 698.4 L319 698.5 L320 698.1 L321 697.5 L322 697.2 L323 697.3 L324 697.6 L325 698 L326 698.3 L327 698.7 L328 699.1 L329 699.4 L330 699.8 L331 700.1 L332 700.5 L333 700.7 L334 700.7 L335 700.5 L336 700.2 L337 699.9 L338 699.5 L339 698.6 L340 696.9 L341 694.4 L342 691.8 L343 689.1 L344 686.4 L345 683.7 L346 681 L347 678.3 L348 675.7 L349 673.1 L350 671.1 L351 669.9 L352 669.4 L353 669.1 L354 668.9 L355 669.5 L356 671.2 L357 673.6 L358 676.2 L359 678.8 L360 681.4 L361 684 L362 686.6 L363 689.1 L364 691.2 L365 692.4 L366 692.9 L367 692.8 L368 691.9 L369 690.3 L370 688.2 L371 686 L372 683.8 L373 681.7 L374 679.5 L375 677.3 L376 675.3 L377 673.6 L378 672.4 L379 671.5 L380 670.6 L381 669.7 L382 668.8 L383 668.1 L384 667.6 L385 667.4 L386 667.3 L387 667.2 L388 667.1 L389 667 L390 666.9 L391 666.9 L392 667.2 L393 668 L394 668.9 L395 669.9 L396 670.7 L397 671.3 L398 671.3 L399 671.1 L400 670.9 L401 670.6 L402 670.4 L403 670.1 L404 669.7 L405 669.2 L406 668.7 L407 668.1 L408 667.6 L409 667.1 L410 666.6 L411 666 L412 665.5 L413 665 L414 664.7 L415 664.5 L416 664.3 L417 664.1 L418 663.9 L419 663.8 L420 663.7 L421 664.3 L422 665.8 L423 667.9 L424 670.2 L425 672.4 L426 674.8 L427 677.3 L428 680.3 L429 683.5 L430 686.7 L431 689.9 L432 693.1 L433 696.3 L434 699.4 L435 701.8 L436 703 L437 703.3 L438 703.1 L439 702.4 L440 701.2 L441 699.7 L442 698.1 L443 696.5 L444 695 L445 693.6 L446 692.6 L447 692.6 L448 693.2 L449 693.9 L450 694.6 L451 695 L452 695.2 L453 695.3 L454 695.4 L455 695.5 L456 695.6 L457 695.7 L458 695.8 L459 695.9 L460 696 L461 696.2 L462 696.3 L463 696.4 L464 696.5 L465 696.6 L466 696.6 L467 696 L468 694.6 L469 692.7 L470 690.9 L471 689.4 L472 688.2 L473 687 L474 685.9 L475 684.8 L476 683.8 L477 682.7 L478 681.9 L479 681.7 L480 682.1 L481 682.9 L482 683.7 L483 684.3 L484 684.6 L485 684.5 L486 684.2 L487 683.9 L488 683.4 L489 682.5 L490 681 L491 679.3 L492 677.6 L493 675.8 L494 674.1 L495 673.1 L496 673.2 L497 674.2 L498 675.5 L499 676.6 L500 677.4 L501 677.7 L502 677.8 L503 677.9 L504 678 L505 678.1 L506 678.2 L507 678.2 L508 677.8 L509 676.5 L510 674.1 L511 671.1 L512 668.2 L513 666 L514 665.1 L515 664.9 L516 664.8 L517 664.9 L518 665.3 L519 665.8 L520 666.4 L521 666.9 L522 667.5 L523 667.9 L524 668.3 L525 668.6 L526 668.7 L527 668.9 L528 669 L529 669.3 L530 669.8 L531 670.6 L532 671.4 L533 672.3 L534 673.2 L535 674.1 L536 675.1 L537 676.3 L538 678 L539 679.9 L540 681.9 L541 683.9 L542 685.9 L543 687.9 L544 689.9 L545 691.9 L546 693.9 L547 695.9 L548 697.6 L549 698.9 L550 699.7 L551 700.1 L552 700.4 L553 700.5 L554 700.3 L555 699.4 L556 698.3 L557 697.1 L558 696.2 L559 695.7 L560 695.3 L561 695.1 L562 694.8 L563 694.4 L564 693.6 L565 692.3 L566 690.8 L567 689.2 L568 687.6 L569 686.4 L570 685.7 L571 685.8 L572 686.3 L573 686.7 L574 686.9 L575 686.5 L576 685.4 L577 683.9 L578 682.4 L579 680.9 L580 679.4 L581 677.9 L582 676.3 L583 674.8 L584 673.3 L585 671.8 L586 670.3 L587 669.3 L588 669 L589 669.3 L590 669.8 L591 670.3 L592 670.8 L593 671.3 L594 671.6 L595 671.8 L596 671.9 L597 672 L598 672.1 L599 672.2 L600 672.3 L601 672.5 L602 673.3 L603 675.1 L604 677.7 L605 680.5 L606 683.3 L607 685.9 L608 688.3 L609 690.2 L610 692.1 L611 693.8 L612 695.6 L613 697.4 L614 699.2 L615 700.7 L616 701.4 L617 700.9 L618 699.6 L619 698.2 L620 696.8 L621 695.4 L622 694 L623 692.6 L624 691 L625 689.3 L626 687.5 L627 685.6 L628 683.7 L629 681.8 L630 679.9 L631 678.1 L632 676.4 L633 675.1 L634 674.2 L635 673.6 L636 673.2 L637 673.2 L638 673.9 L639 674.8 L640 675.8 L641 676.8 L642 677.8 L643 679 L644 680.6 L645 682.5 L646 684.4 L647 686.5 L648 688.4 L649 690.2 L650 691.5 L651 692.5 L652 693.4 L653 694.2 L654 695.1 L655 696 L656 696.6 L657 696.4 L658 695.2 L659 693.5 L660 691.8 L661 690.3 L662 689.2 L663 688.4 L664 687.5 L665 686.5 L666 685.3 L667 683.8 L668 682.4 L669 680.9 L670 679.7 L671 678.9 L672 678.4 L673 677.9 L674 677.5 L675 677 L676 676.6 L677 676.4 L678 676.6 L679 677.2 L680 678 L681 678.9 L682 679.8 L683 680.7 L684 681.6 L685 682.4 L686 683.2 L687 683.8 L688 684.5 L689 685.2 L690 686.1 L691 687.5 L692 689.2 L693 690.9 L694 692 L695 692.1 L696 691.2 L697 690.1 L698 688.9 L699 687.6 L700 686.4 L701 685 L702 683.4 L703 681.3 L704 679 L705 676.8 L706 675.2 L707 674.9 L708 675.2 L709 675.7 L710 676.2 L711 676.4 L712 676.4 L713 676.2 L714 676 L715 675.8 L716 675.6 L717 675.3 L718 675 L719 674.5 L720 673.8 L721 673.1 L722 672.4 L723 672.1 L724 672.1 L725 672.3 L726 672.6 L727 672.9 L728 673.1 L729 673.4 L730 673.7 L731 673.9 L732 674.2 L733 674.4 L734 674.6 L735 674.8 L736 675 L737 675.2 L738 675.4 L739 675.6 L740 675.6 L741 675.3 L742 674.7 L743 674 L744 673.4 L745 672.7 L746 672.1 L747 671.6 L748 671.6 L749 672.2 L750 673.2 L751 674.4 L752 676.3 L753 679.2 L754 682.7 L755 686.4 L756 690.1 L757 693.8 L758 697.3 L759 700.4 L760 702.3 L761 703.3 L762 703.9 L763 704.3 L764 704.4 L765 703.8 L766 702.5 L767 700.9 L768 699.4 L769 697.8 L770 696.2 L771 694.6 L772 693.2 L773 692.4 L774 692.3 L775 692.6 L776 693.1 L777 694 L778 695.5 L779 697.4 L780 699.4 L781 701.4 L782 703.4 L783 705.3 L784 706.8 L785 707.5 L786 707.3 L787 706.7 L788 706.1 L789 705.2 L790 703.9 L791 702.3 L792 700.5 L793 698.7 L794 696.9 L795 695.1 L796 693.3 L797 691.8 L798 691 L799 691.1 L800 691.8 L801 692.7 L802 693.8 L803 695.2 L804 697 L805 698.8 L806 700.5 L807 702.3 L808 704 L809 705.4 L810 706 L811 705.9 L812 705.4 L813 704.8 L814 704.3 L815 703.7 L816 703.1 L817 702.3 L818 701.3 L819 700 L820 698.7 L821 697.4 L822 696.1 L823 694.8 L824 693.6 L825 692.6 L826 692.1 L827 692 L828 692.2 L829 692.3 L830 692.3 L831 692 L832 691.4 L833 690.7 L834 690 L835 689.2 L836 688.3 L837 687.2 L838 685.9 L839 684.5 L840 683.2 L841 681.8 L842 680.4 L843 679 L844 677.7 L845 676.3 L846 675 L847 674.1 L848 673.8 L849 673.9 L850 674.4 L851 675.4 L852 676.8 L853 678.3 L854 679.7 L855 680.7 L856 681.3 L857 681.6 L858 681.9 L859 682.2 L860 682.5 L861 682.8 L862 683 L863 683 L864 682.7 L865 682.2 L866 681.7 L867 681.8 L868 682.8 L869 684.5 L870 686.4 L871 688.3 L872 690.2 L873 692.1 L874 693.9 L875 695.7 L876 697.1 L877 698.2 L878 699.3 L879 700.2 L880 701.2 L881 702.2 L882 703 L883 703.5 L884 703.7 L885 703.9 L886 704.1 L887 704.3 L888 704.5 L889 704.7 L890 704.8 L891 704.8 L892 704.6 L893 704.1 L894 703.4 L895 702.2 L896 700 L897 696.8 L898 693 L899 689.2 L900 685.4 L901 681.6 L902 677.8 L903 674.5 L904 672.3 L905 671.7 L906 672 L907 672.5 L908 672.9 L909 673.4 L910 673.9 L911 674.4 L912 674.9 L913 675.4 L914 675.9 L915 676.4 L916 676.9 L917 676.9 L918 676.3 L919 675.1 L920 673.8 L921 672.7 L922 671.9 L923 671.4 L924 670.8 L925 670.3 L926 669.7 L927 669.2 L928 668.6 L929 668 L930 667.5 L931 666.9 L932 666.3 L933 665.9 L934 666 L935 667.3 L936 669.5 L937 671.9 L938 674.3 L939 676.8 L940 679.2 L941 681.3 L942 682.7 L943 683.3 L944 683.4 L945 683.3 L946 683.1 L947 682.7 L948 682.1 L949 681.4 L950 680.8 L951 680.2 L952 679.6 L953 678.9 L954 678.4 L955 678 L956 678.1 L957 678.6 L958 679.5 L959 681 L960 683.1 L961 685.3 L962 687.4 L963 688.9 L964 689.8 L965 690.3 L966 690.7 L967 691.2 L968 691.6 L969 691.9 L970 691.3 L971 689.4 L972 686.5 L973 683.5 L974 680.9 L975 679.3 L976 678.4 L977 677.9 L978 677.5 L979 677.5 L980 678.4 L981 680 L982 681.9 L983 683.8 L984 685.7 L985 687.6 L986 689.5 L987 691.2 L988 692.6 L989 693.7 L990 694.4 L991 695 L992 695 L993 694.1 L994 692.8 L995 691.4 L996 690 L997 688.7 L998 687.3 L999 685.9 L1000 684.7 L1001 683.6 L1002 682.8 L1003 682 L1004 681.4 L1005 681 L1006 680.9 L1007 680.9 L1008 680.9 L1009 680.9 L1010 680.9 L1011 680.9 L1012 680.9 L1013 680.9 L1014 680.9 L1015 680.9 L1016 680.8 L1017 680.4 L1018 679.5 L1019 678.3 L1020 677.1 L1021 675.9 L1022 674.7 L1023 673.4 L1024 672.2 L1025 671 L1026 669.8 L1027 668.6 L1028 667.6 L1029 667.1 L1030 667 L1031 667.1 L1032 667.3 L1033 667.8 L1034 669.1 L1035 671.1 L1036 673.6 L1037 676.1 L1038 678.6 L1039 681.1 L1040 683 L1041 684.3 L1042 684.9 L1043 685.3 L1044 685.3 L1045 684.7 L1046 683.6 L1047 682.2 L1048 680.8 L1049 679.4 L1050 677.9 L1051 676.5 L1052 675.1 L1053 673.8 L1054 672.9 L1055 672.7 L1056 673.4 L1057 674.5 L1058 676.3 L1059 678.9 L1060 681.9 L1061 685 L1062 688.1 L1063 691.2 L1064 694.2 L1065 696.6 L1066 697.8 L1067 698 L1068 697.9 L1069 697.7 L1070 697.5 L1071 697.3 L1072 697.1 L1073 697 L1074 696.8 L1075 696.8 L1076 696.8 L1077 696.8 L1078 696.8 L1079 696.8 L1080 696.8 L1081 696.8 L1082 697 L1083 697.3 L1084 697.8 L1085 698.3 L1086 698.8 L1087 699.2 L1088 699.5 L1089 699.7 L1090 699.9 L1091 700 L1092 700.2 L1093 700.4 L1094 700.6 L1095 700.7 L1096 700.6 L1097 700.2 L1098 699.4 L1099 698.6 L1100 697.7 L1101 696.9 L1102 696 L1103 695.1 L1104 694.3 L1105 693.4 L1106 692.7 L1107 692.4 L1108 692.8 L1109 693.7 L1110 694.7 L1111 695.7 L1112 696.7 L1113 697.7 L1114 698.7 L1115 699.7 L1116 700.7 L1117 701.7 L1118 702.7 L1119 703.6 L1120 704.1 L1121 703.9 L1122 702.9 L1123 701.6 L1124 700.3 L1125 698.9 L1126 697.5 L1127 696.1 L1128 694.4 L1129 692.2 L1130 689.7 L1131 687.2 L1132 684.7 L1133 682.2 L1134 679.7 L1135 677.3 L1136 675.5 L1137 674.5 L1138 674.2 L1139 674.2 L1140 674.2 L1141 674.2 L1142 674.2 L1143 674.2 L1144 674.2 L1145 674.3 L1146 674.6 L1147 675 L1148 675.1 L1149 674.4 L1150 672.7 L1151 670.4 L1152 668.3 L1153 666.9 L1154 666.5 L1155 666.7 L1156 667.1 L1157 667.5 L1158 667.9 L1159 668.3 L1160 668.8 L1161 669.8 L1162 671.8 L1163 674.6 L1164 677.7 L1165 680.8 L1166 683.9 L1167 687.1 L1168 690.2 L1169 693.3 L1170 696.5 L1171 699.6 L1172 702.7 L1173 705.6 L1174 707.7 L1175 708.7 L1176 709.3 L1177 709.6 L1178 709.3 L1179 708.2 L1180 706.5 L1181 704.7 L1182 702.9 L1183 701.1 L1184 699.3 L1185 697.5 L1186 695.7 L1187 693.9 L1188 692.1 L1189 690.3 L1190 688.8 L1191 687.7 L1192 687 L1193 686.6 L1194 686.2 L1195 685.8 L1196 685.3 L1197 684.9 L1198 684.5 L1199 684.2 L1200 683.8 L1201 683.5 L1202 683.2 L1203 682.9 L1204 682.6 L1205 682.2 L1206 681.8 L1207 681.3 L1208 680.6 L1209 679.8 L1210 679 L1211 678.2 L1212 677.4 L1213 676.6 L1214 675.8 L1215 674.8 L1216 673.6 L1217 672.2 L1218 671 L1219 670.2 L1220 670.2 L1221 670.9 L1222 671.7 L1223 672.6 L1224 673.5 L1225 674.4 L1226 675.4 L1227 676.4 L1228 677.8 L1229 679.4 L1230 681.2 L1231 683 L1232 684.8 L1233 686.6 L1234 688.5 L1235 690.3 L1236 692.1 L1237 693.9 L1238 695.7 L1239 697.4 L1240 698.9 L1241 700 L1242 700.7 L1243 700.9 L1244 700.4 L1245 699.2 L1246 697.7 L1247 696.1 L1248 694.6 L1249 693 L1250 691.4 L1251 689.7 L1252 687.8 L1253 685.8 L1254 683.8 L1255 682 L1256 680.5 L1257 679.8 L1258 679.3 L1259 679 L1260 678.9 L1261 679.3 L1262 680.7 L1263 682.7 L1264 684.8 L1265 687 L1266 689.1 L1267 691.3 L1268 693.4 L1269 695.3 L1270 697.1 L1271 698.9 L1272 700.6 L1273 702 L1274 702.6 L1275 702.4 L1276 701.8 L1277 701.2 L1278 700.6 L1279 699.8 L1280 698.5 L1281 696.2 L1282 693.2 L1283 690.1 L1284 687 L1285 684.4 L1286 682.5 L1287 681.2 L1288 679.9 L1289 678.8 L1290 677.6 L1291 676.4 L1292 675.3 L1293 674.5 L1294 674.4 L1295 675 L1296 675.9 L1297 676.9 L1298 677.7 L1299 678.4 L1300 678.8 L1301 679.2 L1302 679.9 L1303 681.2 L1304 682.7 L1305 684.3 L1306 685.9 L1307 687.5 L1308 689.1 L1309 690.6 L1310 691.6 L1311 691.8 L1312 691.3 L1313 690.7 L1314 689.9 L1315 688.4 L1316 685.7 L1317 682.2 L1318 678.4 L1319 674.6 L1320 670.7 L1321 667.1 L1322 664.3 L1323 662.7 L1324 661.7 L1325 661 L1326 660.8 L1327 661.5 L1328 662.8 L1329 664.2 L1330 665.4 L1331 666.5 L1332 667.3 L1333 668.2 L1334 669.6 L1335 672 L1336 675.3 L1337 678.9 L1338 682.4 L1339 685.3 L1340 687.5 L1341 689.4 L1342 691 L1343 692 L1344 692.2 L1345 692.1 L1346 691.6 L1347 690.5 L1348 688.4 L1349 685.6 L1350 682.7 L1351 679.8 L1352 676.9 L1353 674 L1354 671.1 L1355 668.3 L1356 666.1 L1357 664.9 L1358 664.3 L1359 663.9 L1360 663.6 L1361 663.5 L1362 663.4 L1363 663.4 L1364 663.4 L1365 663.4 L1366 663.4 L1367 663.4 L1368 663.5 L1369 663.7 L1370 664.1 L1371 664.6 L1372 665.2 L1373 666 L1374 667.5 L1375 669.8 L1376 672.5 L1377 675.2 L1378 677.9 L1379 680.5 L1380 682.8 L1381 684.2 L1382 685 L1383 685.5 L1384 686 L1385 686.3 L1386 686.4 L1387 686.2 L1388 685.5 L1389 683.7 L1390 681 L1391 677.9 L1392 675.6 L1393 674.8 L1394 675 L1395 675.4 L1396 675.5 L1397 675.4 L1398 675 L1399 674.8 L1400 675 L1401 675.6 L1402 676.5 L1403 677.5 L1404 678.4 L1405 679.3 L1406 680.3 L1407 681.2 L1408 682.1 L1409 683.1 L1410 684 L1411 684.9 L1412 685.6 L1413 685.6 L1414 684.7 L1415 683.1 L1416 681.4 L1417 679.7 L1418 678 L1419 676.3 L1420 674.6 L1421 673 L1422 671.6 L1423 670.4 L1424 669.3 L1425 668.6 L1426 668.6 L1427 669.5 L1428 670.6 L1429 671.7 L1430 672.7 L1431 673.4 L1432 673.8 L1433 674 L1434 674.3 L1435 674.5 L1436 674.8 L1437 675.1 L1438 675.5 L1439 676 L1440 676.6 L1441 677.2 L1442 678.2 L1443 679.9 L1444 681.9 L1445 684.1 L1446 686 L1447 687.6 L1448 689 L1449 690.3 L1450 691.6 L1451 692.9 L1452 694.2 L1453 695.4 L1454 696.1 L1455 695.6 L1456 693.9 L1457 691.8 L1458 690.4 L1459 690.3 L1460 690.9 L1461 691.6 L1462 691.8 L1463 691.1 L1464 689.9 L1465 688.6 L1466 687.8 L1467 687.8 L1468 688.5 L1469 689.4 L1470 690.2 L1471 690.7 L1472 690.9 L1473 690.9 L1474 691 L1475 691.3 L1476 692.1 L1477 693.5 L1478 695.1 L1479 696.7 L1480 698.4 L1481 700 L1482 701.4 L1483 701.7 L1484 700.2 L1485 697.5 L1486 694.6 L1487 691.7 L1488 688.7 L1489 685.8 L1490 682.9 L1491 679.9 L1492 677 L1493 674.3 L1494 672.3 L1495 671.2 L1496 670.6 L1497 670.1 L1498 669.6 L1499 669.1 L1500 668.7 L1501 668.3 L1502 668.1 L1503 667.9 L1504 667.6 L1505 667.4 L1506 667.2 L1507 667 L1508 667 L1509 667.2 L1510 667.5 L1511 668 L1512 668.5 L1513 669.2 L1514 670.2 L1515 671.4 L1516 672.8 L1517 674.1 L1518 675.5 L1519 676.9 L1520 678.3 L1521 679.6 L1522 681 L1523 682.4 L1524 683.8 L1525 685.1 L1526 686.5 L1527 687.9 L1528 689.2 L1529 690.4 L1530 691.3 L1531 692.1 L1532 692.8 L1533 693.4 L1534 694.1 L1535 694.7 L1536 694.9 L1537 694 L1538 691.9 L1539 689.1 L1540 686.4 L1541 684.5 L1542 683.8 L1543 683.7 L1544 683.9 L1545 683.9 L1546 683.7 L1547 683 L1548 682.1 L1549 681.3 L1550 681.5 L1551 683.4 L1552 686.2 L1553 688.7 L1554 690.1 L1555 690.5 L1556 690.4 L1557 690.2 L1558 690 L1559 689.8 L1560 689.5 L1561 689.2 L1562 688.3 L1563 686.9 L1564 685.2 L1565 683.6 L1566 682.6 L1567 682.6 L1568 683.1 L1569 683.7 L1570 684.4 L1571 685.4 L1572 686.8 L1573 688.5 L1574 690.2 L1575 691.9 L1576 693.5 L1577 694.7 L1578 695.3 L1579 695.5 L1580 695.2 L1581 694.1 L1582 692.6 L1583 690.8 L1584 689.1 L1585 687.3 L1586 685.6 L1587 684 L1588 682.6 L1589 681.2 L1590 679.8 L1591 678.4 L1592 677 L1593 675.6 L1594 674.1 L1595 672.4 L1596 670.7 L1597 669 L1598 667.4 L1599 666.4 L1600 666.4 L1601 667.3 L1602 668.6 L1603 670 L1604 671.3 L1605 672.6 L1606 673.9 L1607 675.1 L1608 676.4 L1609 677.6 L1610 678.8 L1611 679.7 L1612 680.4 L1613 681.1 L1614 681.8 L1615 682.7 L1616 683.9 L1617 685.3 L1618 686.7 L1619 688.1 L1620 689.2 L1621 689.6 L1622 689.6 L1623 689.4 L1624 688.7 L1625 687.3 L1626 685.2 L1627 683 L1628 681.2 L1629 680.2 L1630 679.6 L1631 679.1 L1632 678.9 L1633 679.3 L1634 679.9 L1635 680.6 L1636 681.3 L1637 682.1 L1638 682.8 L1639 683.5 L1640 684.1 L1641 684.3 L1642 683.7 L1643 682.7 L1644 681.4 L1645 679.7 L1646 677.4 L1647 674.7 L1648 672.2 L1649 670.2 L1650 669 L1651 668.1 L1652 667.4 L1653 667 L1654 667 L1655 667.1 L1656 667.3 L1657 667.4 L1658 667.5 L1659 667.5 L1660 667.5 L1661 667.5 L1662 667.5 L1663 667.5 L1664 667.5 L1665 667.5 L1666 667.5 L1667 667.5 L1668 667.5 L1669 667.7 L1670 668.1 L1671 668.8 L1672 669.6 L1673 670.3 L1674 670.7 L1675 670.9 L1676 670.9 L1677 670.9 L1678 670.9 L1679 671 L1680 671.3 L1681 671.7 L1682 672.2 L1683 672.8 L1684 673.3 L1685 673.9 L1686 674.4 L1687 674.9 L1688 675.5 L1689 676.1 L1690 677.1 L1691 678.9 L1692 681.2 L1693 683.8 L1694 686.5 L1695 689.1 L1696 691.8 L1697 694.4 L1698 697 L1699 699.7 L1700 702.3 L1701 704.8 L1702 706.7 L1703 707.5 L1704 707.8 L1705 707.9 L1706 707.9 L1707 708 L1708 708.1 L1709 708.2 L1710 708.1 L1711 707.2 L1712 704.8 L1713 701.3 L1714 697.4 L1715 693.5 L1716 689.6 L1717 685.6 L1718 681.7 L1719 677.8 L1720 673.9 L1721 670 L1722 666.5 L1723 664.1 L1724 663.5 L1725 663.9 L1726 664.6 L1727 665.2 L1728 665.9 L1729 666.7 L1730 667.9 L1731 670.1 L1732 673.2 L1733 676.6 L1734 680 L1735 683.2 L1736 685.9 L1737 688.2 L1738 690.3 L1739 692.3 L1740 694.3 L1741 696.3 L1742 698.3 L1743 699.7 L1744 699.7 L1745 698.1 L1746 695.7 L1747 693.1 L1748 690.4 L1749 687.8 L1750 685.2 L1751 682.8 L1752 680.8 L1753 679.1 L1754 677.5 L1755 675.9 L1756 674.4 L1757 672.8 L1758 671.2 L1759 669.7 L1760 668.5 L1761 667.8 L1762 667.6 L1763 667.6 L1764 668 L1765 668.6 L1766 669.5 L1767 670.4 L1768 671.3 L1769 672.2 L1770 673.1 L1771 674 L1772 674.6 L1772.1 675" stroke="#6b6bff" stroke-width="1.1"/>
</g>
<path d="M10 536.5 H1906 M10 649.5 H1906 M10 716.5 H1906" stroke="#3a3a3a" stroke-width="1.6"/>
<path d="M1841.5 10 V744" stroke="#3a3a3a" stroke-width="1.6"/>
<text x="18.4" y="29.8" fill="#474747" font-size="12.5" textLength="155.6" lengthAdjust="spacingAndGlyphs" >PREC.M.XAG=, 1h, FXS, Bid</text>
<text x="182.1" y="29.8" fill="#474747" font-size="12.5" textLength="8.4" lengthAdjust="spacingAndGlyphs" >O</text>
<text x="190.9" y="29.8" fill="#5a5aff" font-size="12.5" textLength="44.7" lengthAdjust="spacingAndGlyphs" >38.3157</text>
<text x="243.9" y="29.8" fill="#474747" font-size="12.5" textLength="7.5" lengthAdjust="spacingAndGlyphs" >H</text>
<text x="252.3" y="29.8" fill="#5a5aff" font-size="12.5" textLength="44.6" lengthAdjust="spacingAndGlyphs" >38.4000</text>
<text x="305.7" y="29.8" fill="#474747" font-size="12.5" textLength="6.8" lengthAdjust="spacingAndGlyphs" >L</text>
<text x="313" y="29.8" fill="#5a5aff" font-size="12.5" textLength="43" lengthAdjust="spacingAndGlyphs" >38.2491</text>
<text x="364.5" y="29.8" fill="#474747" font-size="12.5" textLength="8" lengthAdjust="spacingAndGlyphs" >C</text>
<text x="373" y="29.8" fill="#5a5aff" font-size="12.5" textLength="44" lengthAdjust="spacingAndGlyphs" >38.3396</text>
<text x="425" y="29.8" fill="#5a5aff" font-size="12.5" textLength="91.7" lengthAdjust="spacingAndGlyphs" >0.0096 (+0.03%)</text>
<text x="535" y="29.8" fill="#474747" font-size="12.5" textLength="89.7" lengthAdjust="spacingAndGlyphs" >MA (4, close, 0)</text>
<text x="632.7" y="29.8" fill="#ff22ff" font-size="12.5" textLength="44.2" lengthAdjust="spacingAndGlyphs" >38.3578</text>
<text x="695.3" y="29.8" fill="#474747" font-size="12.5" textLength="89.6" lengthAdjust="spacingAndGlyphs" >MA (9, close, 0)</text>
<text x="793.2" y="29.8" fill="#33cc33" font-size="12.5" textLength="44.8" lengthAdjust="spacingAndGlyphs" >38.2568</text>
<text x="856.5" y="29.8" fill="#474747" font-size="12.5" textLength="96.3" lengthAdjust="spacingAndGlyphs" >MA (25, close, 0)</text>
<text x="961" y="29.8" fill="#b0305a" font-size="12.5" textLength="45.3" lengthAdjust="spacingAndGlyphs" >38.2442</text>
<text x="1024" y="29.8" fill="#474747" font-size="12.5" textLength="97" lengthAdjust="spacingAndGlyphs" >MA (50, close, 0)</text>
<text x="1129" y="29.8" fill="#22cce0" font-size="12.5" textLength="44.5" lengthAdjust="spacingAndGlyphs" >38.0751</text>
<text x="1192.6" y="29.8" fill="#474747" font-size="12.5" textLength="102.1" lengthAdjust="spacingAndGlyphs" >MA (100, close, 0)</text>
<text x="1302.8" y="29.8" fill="#229922" font-size="12.5" textLength="44.8" lengthAdjust="spacingAndGlyphs" >37.7994</text>
<text x="1366" y="29.8" fill="#474747" font-size="12.5" textLength="103.4" lengthAdjust="spacingAndGlyphs" >MA (150, close, 0)</text>
<text x="1477.5" y="29.8" fill="#ff4444" font-size="12.5" textLength="44.8" lengthAdjust="spacingAndGlyphs" >37.4528</text>
<text x="1540.6" y="29.8" fill="#474747" font-size="12.5" textLength="103.4" lengthAdjust="spacingAndGlyphs" >MA (200, close, 0)</text>
<text x="1652" y="29.8" fill="#b86a50" font-size="12.5" textLength="45" lengthAdjust="spacingAndGlyphs" >37.5496</text>
<text x="18" y="48.5" fill="#474747" font-size="12.5" textLength="103" lengthAdjust="spacingAndGlyphs" >MA (250, close, 0)</text>
<text x="129.4" y="48.5" fill="#222" font-size="12.5" textLength="44.6" lengthAdjust="spacingAndGlyphs" >37.7143</text>
<text x="18" y="556.7" fill="#474747" font-size="12.5" textLength="149" lengthAdjust="spacingAndGlyphs" >RSI (9, Wilder, Simple, 14)</text>
<text x="176.6" y="556.7" fill="#4a4aff" font-size="12.5" textLength="44.6" lengthAdjust="spacingAndGlyphs" >58.5120</text>
<text x="228.7" y="556.7" fill="#2f7f60" font-size="12.5" textLength="45.1" lengthAdjust="spacingAndGlyphs" >55.4108</text>
<text x="293" y="556.7" fill="#474747" font-size="12.5" textLength="148.9" lengthAdjust="spacingAndGlyphs" >RSI (14, Wilder, Simple, 9)</text>
<text x="451" y="556.7" fill="#ff11ff" font-size="12.5" textLength="44.3" lengthAdjust="spacingAndGlyphs" >57.9462</text>
<text x="17.9" y="670" fill="#474747" font-size="12.5" textLength="185.8" lengthAdjust="spacingAndGlyphs" >Stochastic Slow (5, 3, 3, Simple)</text>
<text x="213.7" y="670" fill="#4a4aff" font-size="12.5" textLength="36.7" lengthAdjust="spacingAndGlyphs" >72.108</text>
<text x="258.8" y="670" fill="#ff11ff" font-size="12.5" textLength="37.5" lengthAdjust="spacingAndGlyphs" >78.781</text>
<text x="53.9" y="734.5" fill="#3a3a3a" font-size="12.5" text-anchor="middle" >16</text>
<text x="153.6" y="734.5" fill="#3a3a3a" font-size="12.5" text-anchor="middle" >17</text>
<text x="252.6" y="734.5" fill="#3a3a3a" font-size="12.5" text-anchor="middle" >18</text>
<text x="340" y="734.5" fill="#3a3a3a" font-size="12.5" text-anchor="middle" >20</text>
<text x="446.6" y="734.5" fill="#3a3a3a" font-size="12.5" text-anchor="middle" >22</text>
<text x="545.3" y="734.5" fill="#3a3a3a" font-size="12.5" text-anchor="middle" >23</text>
<text x="644.8" y="734.5" fill="#3a3a3a" font-size="12.5" text-anchor="middle" >24</text>
<text x="744.5" y="734.5" fill="#3a3a3a" font-size="12.5" text-anchor="middle" >25</text>
<text x="831" y="734.5" fill="#3a3a3a" font-size="12.5" text-anchor="middle" >27</text>
<text x="938.3" y="734.5" fill="#3a3a3a" font-size="12.5" text-anchor="middle" >29</text>
<text x="1037.3" y="734.5" fill="#3a3a3a" font-size="12.5" text-anchor="middle" >30</text>
<text x="1136.8" y="734.5" fill="#3a3a3a" font-size="12.5" text-anchor="middle" >31</text>
<text x="1235.8" y="734.5" fill="#3a3a3a" font-size="12.5" font-weight="bold" text-anchor="middle" >Aug</text>
<text x="1326.6" y="734.5" fill="#3a3a3a" font-size="12.5" text-anchor="middle" >3</text>
<text x="1438.4" y="734.5" fill="#3a3a3a" font-size="12.5" text-anchor="middle" >5</text>
<text x="1537.4" y="734.5" fill="#3a3a3a" font-size="12.5" text-anchor="middle" >6</text>
<text x="1636.4" y="734.5" fill="#3a3a3a" font-size="12.5" text-anchor="middle" >7</text>
<text x="1735.9" y="734.5" fill="#3a3a3a" font-size="12.5" text-anchor="middle" >8</text>
<text x="1826.7" y="734.5" fill="#3a3a3a" font-size="12.5" text-anchor="middle" >10</text>
<text x="1849" y="95.6" fill="#333" font-size="12.5" textLength="41" lengthAdjust="spacingAndGlyphs" >39.5000</text>
<text x="1849" y="156.5" fill="#333" font-size="12.5" textLength="41" lengthAdjust="spacingAndGlyphs" >39.0000</text>
<text x="1849" y="399.9" fill="#333" font-size="12.5" textLength="41" lengthAdjust="spacingAndGlyphs" >37.0000</text>
<text x="1849" y="460.7" fill="#333" font-size="12.5" textLength="41" lengthAdjust="spacingAndGlyphs" >36.5000</text>
<text x="1849" y="521.6" fill="#333" font-size="12.5" textLength="41" lengthAdjust="spacingAndGlyphs" >36.0000</text>
<text x="1849" y="568.6" fill="#333" font-size="12.5" textLength="41" lengthAdjust="spacingAndGlyphs" >80.0000</text>
<rect x="1845.5" y="14.5" width="56" height="48" rx="4" fill="#fff" stroke="#ececec"/>
<text x="1854" y="30.8" fill="#444" font-size="12" textLength="20.5" lengthAdjust="spacingAndGlyphs" >USD</text>
<text x="1854" y="55.3" fill="#444" font-size="12" textLength="19.5" lengthAdjust="spacingAndGlyphs" >oz t</text>
<path d="M1842 194 h52.5 a2 2 0 0 1 2 2 v12.9 a2 2 0 0 1 -2 2 h-52.5 Z" fill="#ff00ff"/>
<text x="1848.6" y="206.9" fill="#fff" font-size="12.5" textLength="41.4" lengthAdjust="spacingAndGlyphs" >38.3578</text>
<path d="M1842 210.8 h52.5 a2 2 0 0 1 2 2 v12.9 a2 2 0 0 1 -2 2 h-52.5 Z" fill="#000000"/>
<text x="1848.6" y="223.7" fill="#fff" font-size="12.5" textLength="41.4" lengthAdjust="spacingAndGlyphs" >38.3396</text>
<path d="M1842 227.6 h52.5 a2 2 0 0 1 2 2 v12.9 a2 2 0 0 1 -2 2 h-52.5 Z" fill="#555555"/>
<text x="1848.6" y="240.5" fill="#fff" font-size="12.5" textLength="41.4" lengthAdjust="spacingAndGlyphs" >38.3100</text>
<path d="M1842 244.4 h52.5 a2 2 0 0 1 2 2 v12.9 a2 2 0 0 1 -2 2 h-52.5 Z" fill="#00cc00"/>
<text x="1848.6" y="257.3" fill="#fff" font-size="12.5" textLength="41.4" lengthAdjust="spacingAndGlyphs" >38.2568</text>
<path d="M1842 261.2 h52.5 a2 2 0 0 1 2 2 v12.9 a2 2 0 0 1 -2 2 h-52.5 Z" fill="#800030"/>
<text x="1848.6" y="274.1" fill="#fff" font-size="12.5" textLength="41.4" lengthAdjust="spacingAndGlyphs" >38.2442</text>
<path d="M1842 278 h52.5 a2 2 0 0 1 2 2 v12.9 a2 2 0 0 1 -2 2 h-52.5 Z" fill="#00c4cc"/>
<text x="1848.6" y="290.9" fill="#111" font-size="12.5" textLength="41.4" lengthAdjust="spacingAndGlyphs" >38.0751</text>
<path d="M1842 294.8 h52.5 a2 2 0 0 1 2 2 v12.9 a2 2 0 0 1 -2 2 h-52.5 Z" fill="#006f00"/>
<text x="1848.6" y="307.7" fill="#fff" font-size="12.5" textLength="41.4" lengthAdjust="spacingAndGlyphs" >37.7994</text>
<path d="M1842 311.6 h52.5 a2 2 0 0 1 2 2 v12.9 a2 2 0 0 1 -2 2 h-52.5 Z" fill="#000000"/>
<text x="1848.6" y="324.5" fill="#fff" font-size="12.5" textLength="41.4" lengthAdjust="spacingAndGlyphs" >37.7143</text>
<path d="M1842 328.4 h52.5 a2 2 0 0 1 2 2 v12.9 a2 2 0 0 1 -2 2 h-52.5 Z" fill="#a65c3e"/>
<text x="1848.6" y="341.3" fill="#fff" font-size="12.5" textLength="41.4" lengthAdjust="spacingAndGlyphs" >37.5496</text>
<path d="M1842 345.2 h52.5 a2 2 0 0 1 2 2 v12.9 a2 2 0 0 1 -2 2 h-52.5 Z" fill="#ff3333"/>
<text x="1848.6" y="358.1" fill="#fff" font-size="12.5" textLength="41.4" lengthAdjust="spacingAndGlyphs" >37.4528</text>
<path d="M1842 580 h52.5 a2 2 0 0 1 2 2 v12.8 a2 2 0 0 1 -2 2 h-52.5 Z" fill="#3b3bff"/>
<text x="1848.6" y="592.9" fill="#fff" font-size="12.5" textLength="41.4" lengthAdjust="spacingAndGlyphs" >58.5120</text>
<path d="M1842 596.7 h52.5 a2 2 0 0 1 2 2 v12.8 a2 2 0 0 1 -2 2 h-52.5 Z" fill="#ff00ff"/>
<text x="1848.6" y="609.6" fill="#fff" font-size="12.5" textLength="41.4" lengthAdjust="spacingAndGlyphs" >57.9462</text>
<path d="M1842 613.4 h52.5 a2 2 0 0 1 2 2 v12.8 a2 2 0 0 1 -2 2 h-52.5 Z" fill="#00704f"/>
<text x="1848.6" y="626.3" fill="#fff" font-size="12.5" textLength="41.4" lengthAdjust="spacingAndGlyphs" >55.4108</text>
<path d="M1842 650.5 h45 a2 2 0 0 1 2 2 v12.8 a2 2 0 0 1 -2 2 h-45 Z" fill="#ff00ff"/>
<text x="1848.6" y="663.4" fill="#fff" font-size="12.5" textLength="35.4" lengthAdjust="spacingAndGlyphs" >78.781</text>
<path d="M1842 667.2 h45 a2 2 0 0 1 2 2 v12.8 a2 2 0 0 1 -2 2 h-45 Z" fill="#3b3bff"/>
<text x="1848.6" y="680.1" fill="#fff" font-size="12.5" textLength="35.4" lengthAdjust="spacingAndGlyphs" >72.108</text>
<g fill="#1a1aff">
<path d="M1832 758.5 L1833 755 L1834.5 756 L1837 754.8 L1839.5 755.5 L1841.5 757 L1843.5 756.5 L1844.5 757.5 L1850 757.5 L1851 756 L1852.5 757.5 L1854.5 755 L1856.5 755.2 L1858 756.2 L1859.8 755.8 L1860.6 758.5 L1860 761 L1859 762.5 L1860.3 763.5 L1859 765.5 L1857.5 766 L1857.8 768.5 L1856 770 L1854.5 768.5 L1852.5 769.5 L1849.5 769.8 L1847 768.5 L1845.5 766.5 L1843.5 767.5 L1841.5 766 L1840.5 768 L1838.5 767 L1837 765.5 L1835 766 L1834.2 764 L1832.5 763.5 L1834 761.5 Z"/>
<path d="M1838 768 h2 v2.5 h-2 Z M1841.5 769.5 h1.8 l1 2.5 h-2 Z M1846.5 770 h2 v2.2 h-2 Z M1849.5 771 h2.5 v2.3 h-2.5 Z M1853 770 h2 v2 h-2 Z M1856 771.5 h1.5 v1.5 h-1.5 Z M1836 769 h1.3 v2.5 h-1.3 Z" fill-opacity="0.85"/>
<path d="M1840 760 h1.5 v1.5 h-1.5 Z M1845 760 l2 -1.5 l0.8 1.2 l-2 1.5 Z M1846.5 763 h2.5 v1.2 h-2.5 Z M1849 761 h1.5 v1.5 h-1.5 Z M1851.5 758.5 h1 v4 h-1 Z M1856 758.5 h1 v3 h-1 Z M1843 762.5 h1.5 v2 h-1.5 Z M1853.5 763.5 h2 v1.5 h-2 Z M1835 759.5 h1.5 v1.2 h-1.5 Z M1838.5 757 h2 v1 h-2 Z M1857.5 763 h1.5 v1.5 h-1.5 Z M1834 763 h1.5 v1.5 h-1.5 Z M1848 765.5 h1.5 v1.5 h-1.5 Z" fill="#ffffff" fill-opacity="0.75"/>
</g>
<text x="1867.3" y="769.3" fill="#1a1aff" font-size="15.5" textLength="37.7" lengthAdjust="spacingAndGlyphs" stroke="#1a1aff" stroke-width="0.9">LSEG</text>
</svg></body></html>
